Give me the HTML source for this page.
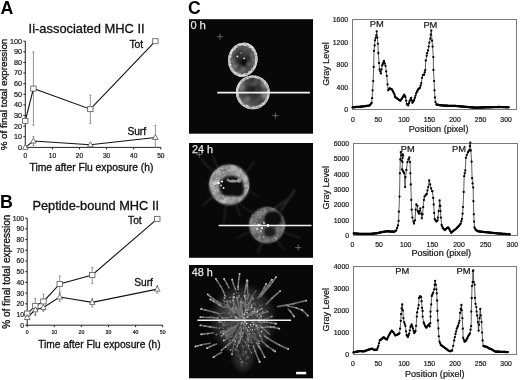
<!DOCTYPE html><html><head><meta charset="utf-8"><title>Figure</title><style>html,body{margin:0;padding:0;background:#fff}svg{display:block}.k{stroke:#111;stroke-width:.32px}.k2{stroke:#222;stroke-width:.22px}.w{stroke:#e6e6e6;stroke-width:.25px}</style></head><body>
<svg width="520" height="380" viewBox="0 0 520 380" font-family='"Liberation Sans", Arial, sans-serif'>
<defs><filter id="bl1" x="-20%" y="-20%" width="140%" height="140%"><feGaussianBlur stdDeviation="0.7"/></filter><filter id="bl05" x="-10%" y="-10%" width="120%" height="120%"><feGaussianBlur stdDeviation="0.45"/></filter><filter id="bl15" x="-30%" y="-30%" width="160%" height="160%"><feGaussianBlur stdDeviation="1.3"/></filter><filter id="bl3" x="-30%" y="-30%" width="160%" height="160%"><feGaussianBlur stdDeviation="3"/></filter><filter id="bl07" x="-20%" y="-20%" width="140%" height="140%"><feGaussianBlur stdDeviation="0.6"/></filter><filter id="bl2" x="-30%" y="-30%" width="160%" height="160%"><feGaussianBlur stdDeviation="2"/></filter><radialGradient id="cellfill"><stop offset="0" stop-color="#2a2a2a"/><stop offset="0.6" stop-color="#4a4a4a"/><stop offset="0.85" stop-color="#8a8a8a"/><stop offset="1" stop-color="#cfcfcf"/></radialGradient><radialGradient id="rg11"><stop offset="0" stop-color="#232323"/><stop offset="0.58" stop-color="#414141"/><stop offset="0.78" stop-color="#5f5f5f"/><stop offset="0.93" stop-color="#9b9b9b"/><stop offset="1" stop-color="#b6b6b6"/></radialGradient><clipPath id="cp11"><ellipse transform="translate(242.8 59.7) rotate(10)" rx="14.7" ry="17.1"/></clipPath><radialGradient id="rg12"><stop offset="0" stop-color="#262626"/><stop offset="0.58" stop-color="#424242"/><stop offset="0.78" stop-color="#5f5f5f"/><stop offset="0.93" stop-color="#989898"/><stop offset="1" stop-color="#b2b2b2"/></radialGradient><clipPath id="cp12"><ellipse transform="translate(252.8 92.3) rotate(0)" rx="16.9" ry="16.9"/></clipPath><radialGradient id="rg22"><stop offset="0" stop-color="#3c3c3c"/><stop offset="0.48" stop-color="#707070"/><stop offset="0.64" stop-color="#a5a5a5"/><stop offset="0.93" stop-color="#989898"/><stop offset="1" stop-color="#777777"/></radialGradient><clipPath id="cp22"><ellipse transform="translate(229.2 184.7) rotate(0)" rx="20" ry="20.2"/></clipPath><radialGradient id="rg23"><stop offset="0" stop-color="#1e1e1e"/><stop offset="0.45" stop-color="#4d4d4d"/><stop offset="0.60" stop-color="#7d7d7d"/><stop offset="0.93" stop-color="#757575"/><stop offset="1" stop-color="#5d5d5d"/></radialGradient><clipPath id="cp23"><ellipse transform="translate(267 225.2) rotate(0)" rx="17.8" ry="18"/></clipPath></defs>
<rect width="520" height="380" fill="#fff"/>
<text x="0.4" y="14.1" font-size="17.8" font-weight="bold" fill="#000">A</text>
<text x="0.1" y="207.9" font-size="17.8" font-weight="bold" fill="#000">B</text>
<text x="187.9" y="13.8" font-size="17.6" font-weight="bold" fill="#000">C</text>
<text x="28.6" y="32.8" font-size="12.9" fill="#111" class="k">Ii-associated MHC II</text>
<text x="32.4" y="209.7" font-size="12.8" fill="#111" class="k">Peptide-bound MHC II</text>
<text transform="translate(7.3 94.5) rotate(-90)" font-size="9.8" text-anchor="middle" fill="#111" class="k">% of final total expression</text>
<text transform="translate(10.1 271.7) rotate(-90)" font-size="10" text-anchor="middle" fill="#111" class="k">% of final total expression</text>
<text x="29.6" y="171" font-size="10.3" fill="#111" class="k">Time after Flu exposure (h)</text>
<text x="38.2" y="347.9" font-size="10.2" fill="#111" class="k">Time after Flu exposure (h)</text>
<text x="129.4" y="47.5" font-size="10.4" fill="#111" class="k">Tot</text>
<text x="127.4" y="134.6" font-size="10.2" fill="#111" class="k">Surf</text>
<text x="128.1" y="223.8" font-size="10.2" fill="#111" class="k">Tot</text>
<text x="134.2" y="285.9" font-size="10.2" fill="#111" class="k">Surf</text>
<path d="M25.3 41.2V147.4H160.8" fill="none" stroke="#222" stroke-width="1"/>
<path d="M23.3 147.4H25.3" stroke="#222" stroke-width="1"/>
<text x="22.1" y="149.8" font-size="7.3" text-anchor="end" fill="#222" class="k2">0</text>
<path d="M23.3 136.78H25.3" stroke="#222" stroke-width="1"/>
<text x="22.1" y="139.18" font-size="7.3" text-anchor="end" fill="#222" class="k2">10</text>
<path d="M23.3 126.16H25.3" stroke="#222" stroke-width="1"/>
<text x="22.1" y="128.56" font-size="7.3" text-anchor="end" fill="#222" class="k2">20</text>
<path d="M23.3 115.54H25.3" stroke="#222" stroke-width="1"/>
<text x="22.1" y="117.94" font-size="7.3" text-anchor="end" fill="#222" class="k2">30</text>
<path d="M23.3 104.92H25.3" stroke="#222" stroke-width="1"/>
<text x="22.1" y="107.32" font-size="7.3" text-anchor="end" fill="#222" class="k2">40</text>
<path d="M23.3 94.3H25.3" stroke="#222" stroke-width="1"/>
<text x="22.1" y="96.7" font-size="7.3" text-anchor="end" fill="#222" class="k2">50</text>
<path d="M23.3 83.68H25.3" stroke="#222" stroke-width="1"/>
<text x="22.1" y="86.08" font-size="7.3" text-anchor="end" fill="#222" class="k2">60</text>
<path d="M23.3 73.06H25.3" stroke="#222" stroke-width="1"/>
<text x="22.1" y="75.46" font-size="7.3" text-anchor="end" fill="#222" class="k2">70</text>
<path d="M23.3 62.44H25.3" stroke="#222" stroke-width="1"/>
<text x="22.1" y="64.84" font-size="7.3" text-anchor="end" fill="#222" class="k2">80</text>
<path d="M23.3 51.82H25.3" stroke="#222" stroke-width="1"/>
<text x="22.1" y="54.22" font-size="7.3" text-anchor="end" fill="#222" class="k2">90</text>
<path d="M23.3 41.2H25.3" stroke="#222" stroke-width="1"/>
<text x="22.1" y="43.6" font-size="7.3" text-anchor="end" fill="#222" class="k2">100</text>
<path d="M25.3 147.4V149.4" stroke="#222" stroke-width="1"/>
<text x="25.3" y="158.2" font-size="6.6" text-anchor="middle" fill="#222" class="k2">0</text>
<path d="M52.4 147.4V149.4" stroke="#222" stroke-width="1"/>
<text x="52.4" y="158.2" font-size="6.6" text-anchor="middle" fill="#222" class="k2">10</text>
<path d="M79.5 147.4V149.4" stroke="#222" stroke-width="1"/>
<text x="79.5" y="158.2" font-size="6.6" text-anchor="middle" fill="#222" class="k2">20</text>
<path d="M106.6 147.4V149.4" stroke="#222" stroke-width="1"/>
<text x="106.6" y="158.2" font-size="6.6" text-anchor="middle" fill="#222" class="k2">30</text>
<path d="M133.7 147.4V149.4" stroke="#222" stroke-width="1"/>
<text x="133.7" y="158.2" font-size="6.6" text-anchor="middle" fill="#222" class="k2">40</text>
<path d="M160.8 147.4V149.4" stroke="#222" stroke-width="1"/>
<text x="160.8" y="158.2" font-size="6.6" text-anchor="middle" fill="#222" class="k2">50</text>
<path d="M33.43 51.82V125.1M32.43 51.82h2M32.43 125.1h2" stroke="#777" stroke-width="0.8" fill="none"/>
<path d="M90.34 95.15V123.29M89.34 95.15h2M89.34 123.29h2" stroke="#777" stroke-width="0.8" fill="none"/>
<path d="M33.43 136.46V145.59M32.43 136.46h2M32.43 145.59h2" stroke="#777" stroke-width="0.8" fill="none"/>
<path d="M155.38 125.42V147.4M154.38 125.42h2M154.38 147.4h2" stroke="#777" stroke-width="0.8" fill="none"/>
<polyline points="25.3,120.85 33.43,88.57 90.34,109.17 155.38,41.2" fill="none" stroke="#111" stroke-width="1.1"/>
<polyline points="25.3,147.4 33.43,141.03 90.34,144.75 155.38,137.52" fill="none" stroke="#111" stroke-width="1.1"/>
<rect x="22.6" y="118.35" width="5.4" height="5" fill="#fff" stroke="#555" stroke-width="0.8"/>
<rect x="30.73" y="86.07" width="5.4" height="5" fill="#fff" stroke="#555" stroke-width="0.8"/>
<rect x="87.64" y="106.67" width="5.4" height="5" fill="#fff" stroke="#555" stroke-width="0.8"/>
<rect x="152.68" y="38.7" width="5.4" height="5" fill="#fff" stroke="#555" stroke-width="0.8"/>
<path d="M25.3 144.4L28.1 149.4H22.5Z" fill="#fff" stroke="#555" stroke-width="0.8"/>
<path d="M33.43 138.03L36.23 143.03H30.63Z" fill="#fff" stroke="#555" stroke-width="0.8"/>
<path d="M90.34 141.75L93.14 146.75H87.54Z" fill="#fff" stroke="#555" stroke-width="0.8"/>
<path d="M155.38 134.52L158.18 139.52H152.58Z" fill="#fff" stroke="#555" stroke-width="0.8"/>
<path d="M27.2 218.2V325.2H162.7" fill="none" stroke="#222" stroke-width="1"/>
<path d="M25.2 325.2H27.2" stroke="#222" stroke-width="1"/>
<text x="24" y="327.6" font-size="6.8" text-anchor="end" fill="#222" class="k2">0</text>
<path d="M25.2 314.5H27.2" stroke="#222" stroke-width="1"/>
<text x="24" y="316.9" font-size="6.8" text-anchor="end" fill="#222" class="k2">10</text>
<path d="M25.2 303.8H27.2" stroke="#222" stroke-width="1"/>
<text x="24" y="306.2" font-size="6.8" text-anchor="end" fill="#222" class="k2">20</text>
<path d="M25.2 293.1H27.2" stroke="#222" stroke-width="1"/>
<text x="24" y="295.5" font-size="6.8" text-anchor="end" fill="#222" class="k2">30</text>
<path d="M25.2 282.4H27.2" stroke="#222" stroke-width="1"/>
<text x="24" y="284.8" font-size="6.8" text-anchor="end" fill="#222" class="k2">40</text>
<path d="M25.2 271.7H27.2" stroke="#222" stroke-width="1"/>
<text x="24" y="274.1" font-size="6.8" text-anchor="end" fill="#222" class="k2">50</text>
<path d="M25.2 261H27.2" stroke="#222" stroke-width="1"/>
<text x="24" y="263.4" font-size="6.8" text-anchor="end" fill="#222" class="k2">60</text>
<path d="M25.2 250.3H27.2" stroke="#222" stroke-width="1"/>
<text x="24" y="252.7" font-size="6.8" text-anchor="end" fill="#222" class="k2">70</text>
<path d="M25.2 239.6H27.2" stroke="#222" stroke-width="1"/>
<text x="24" y="242" font-size="6.8" text-anchor="end" fill="#222" class="k2">80</text>
<path d="M25.2 228.9H27.2" stroke="#222" stroke-width="1"/>
<text x="24" y="231.3" font-size="6.8" text-anchor="end" fill="#222" class="k2">90</text>
<path d="M25.2 218.2H27.2" stroke="#222" stroke-width="1"/>
<text x="24" y="220.6" font-size="6.8" text-anchor="end" fill="#222" class="k2">100</text>
<path d="M27.2 325.2V327.2" stroke="#222" stroke-width="1"/>
<text x="27.2" y="334.4" font-size="5.2" text-anchor="middle" fill="#222" class="k2">0</text>
<path d="M54.3 325.2V327.2" stroke="#222" stroke-width="1"/>
<text x="54.3" y="334.4" font-size="5.2" text-anchor="middle" fill="#222" class="k2">10</text>
<path d="M81.4 325.2V327.2" stroke="#222" stroke-width="1"/>
<text x="81.4" y="334.4" font-size="5.2" text-anchor="middle" fill="#222" class="k2">20</text>
<path d="M108.5 325.2V327.2" stroke="#222" stroke-width="1"/>
<text x="108.5" y="334.4" font-size="5.2" text-anchor="middle" fill="#222" class="k2">30</text>
<path d="M135.6 325.2V327.2" stroke="#222" stroke-width="1"/>
<text x="135.6" y="334.4" font-size="5.2" text-anchor="middle" fill="#222" class="k2">40</text>
<path d="M162.7 325.2V327.2" stroke="#222" stroke-width="1"/>
<text x="162.7" y="334.4" font-size="5.2" text-anchor="middle" fill="#222" class="k2">50</text>
<path d="M35.33 298.45V315.57M34.33 298.45h2M34.33 315.57h2" stroke="#777" stroke-width="0.8" fill="none"/>
<path d="M43.46 294.17V310.22M42.46 294.17h2M42.46 310.22h2" stroke="#777" stroke-width="0.8" fill="none"/>
<path d="M59.72 275.98V293.1M58.72 275.98h2M58.72 293.1h2" stroke="#777" stroke-width="0.8" fill="none"/>
<path d="M92.24 267.42V283.47M91.24 267.42h2M91.24 283.47h2" stroke="#777" stroke-width="0.8" fill="none"/>
<path d="M35.33 307.01V314.5M34.33 307.01h2M34.33 314.5h2" stroke="#777" stroke-width="0.8" fill="none"/>
<path d="M43.46 303.8V311.29M42.46 303.8h2M42.46 311.29h2" stroke="#777" stroke-width="0.8" fill="none"/>
<path d="M59.72 293.1V301.66M58.72 293.1h2M58.72 301.66h2" stroke="#777" stroke-width="0.8" fill="none"/>
<path d="M92.24 298.45V307.01M91.24 298.45h2M91.24 307.01h2" stroke="#777" stroke-width="0.8" fill="none"/>
<path d="M157.28 285.61V293.1M156.28 285.61h2M156.28 293.1h2" stroke="#777" stroke-width="0.8" fill="none"/>
<polyline points="27.2,313.54 35.33,305.83 43.46,301.45 59.72,284 92.24,274.91 157.28,218.84" fill="none" stroke="#111" stroke-width="1.1"/>
<polyline points="27.2,317.5 35.33,309.79 43.46,307.44 59.72,297.06 92.24,302.41 157.28,289.14" fill="none" stroke="#111" stroke-width="1.1"/>
<rect x="24.5" y="311.04" width="5.4" height="5" fill="#fff" stroke="#555" stroke-width="0.8"/>
<rect x="32.63" y="303.33" width="5.4" height="5" fill="#fff" stroke="#555" stroke-width="0.8"/>
<rect x="40.76" y="298.95" width="5.4" height="5" fill="#fff" stroke="#555" stroke-width="0.8"/>
<rect x="57.02" y="281.5" width="5.4" height="5" fill="#fff" stroke="#555" stroke-width="0.8"/>
<rect x="89.54" y="272.41" width="5.4" height="5" fill="#fff" stroke="#555" stroke-width="0.8"/>
<rect x="154.58" y="216.34" width="5.4" height="5" fill="#fff" stroke="#555" stroke-width="0.8"/>
<path d="M27.2 314.5L30 319.5H24.4Z" fill="#fff" stroke="#555" stroke-width="0.8"/>
<path d="M35.33 306.79L38.13 311.79H32.53Z" fill="#fff" stroke="#555" stroke-width="0.8"/>
<path d="M43.46 304.44L46.26 309.44H40.66Z" fill="#fff" stroke="#555" stroke-width="0.8"/>
<path d="M59.72 294.06L62.52 299.06H56.92Z" fill="#fff" stroke="#555" stroke-width="0.8"/>
<path d="M92.24 299.41L95.04 304.41H89.44Z" fill="#fff" stroke="#555" stroke-width="0.8"/>
<path d="M157.28 286.14L160.08 291.14H154.48Z" fill="#fff" stroke="#555" stroke-width="0.8"/>
<rect x="189" y="19.2" width="124" height="114.5" fill="#080808"/>
<g filter="url(#bl07)"><ellipse transform="translate(242.8 59.7) rotate(10)" rx="14.7" ry="17.1" fill="url(#rg11)"/><g clip-path="url(#cp11)"><g filter="url(#bl15)"><circle cx="232.3" cy="61.5" r="2.4" fill="#777777"/><circle cx="232.4" cy="57.2" r="2.5" fill="#444444"/><circle cx="236.2" cy="47.8" r="2.1" fill="#424242"/><circle cx="251.9" cy="69.3" r="1.6" fill="#6c6c6c"/><circle cx="256.5" cy="60.3" r="2.7" fill="#696969"/><circle cx="243.4" cy="61.5" r="1.6" fill="#2d2d2d"/><circle cx="244" cy="67.5" r="2.4" fill="#262626"/><circle cx="230.1" cy="63" r="2.8" fill="#606060"/><circle cx="231.6" cy="57.7" r="2.1" fill="#5b5b5b"/><circle cx="256.6" cy="61.9" r="2.9" fill="#767676"/><circle cx="238.9" cy="66.3" r="1.6" fill="#373737"/><circle cx="245.5" cy="49.8" r="2.3" fill="#696969"/><circle cx="255.7" cy="58" r="1.9" fill="#3c3c3c"/><circle cx="251.8" cy="55.2" r="2.3" fill="#767676"/><circle cx="251.6" cy="67" r="2" fill="#707070"/><circle cx="248.7" cy="65.7" r="3" fill="#6d6d6d"/><circle cx="246.9" cy="66" r="1.6" fill="#2b2b2b"/><circle cx="245.6" cy="53.5" r="2.4" fill="#454545"/><circle cx="244.8" cy="73.2" r="2.8" fill="#454545"/><circle cx="248.2" cy="67.8" r="2" fill="#3e3e3e"/><circle cx="255.4" cy="59.2" r="3.3" fill="#515151"/><circle cx="243.2" cy="69.8" r="2.8" fill="#696969"/><circle cx="252.2" cy="71" r="2" fill="#4a4a4a"/><circle cx="245.5" cy="50.8" r="1.6" fill="#3e3e3e"/><circle cx="250.5" cy="67.8" r="2.7" fill="#484848"/><circle cx="235" cy="66.3" r="2.5" fill="#747474"/><circle cx="232.6" cy="51" r="1.8" fill="#484848"/><circle cx="254.6" cy="53.7" r="1.9" fill="#4d4d4d"/><circle cx="244.6" cy="44.1" r="3.4" fill="#494949"/><circle cx="252.2" cy="52.7" r="1.7" fill="#565656"/><circle cx="255.2" cy="65.8" r="2.9" fill="#4c4c4c"/><circle cx="239.7" cy="74.1" r="2.1" fill="#656565"/><circle cx="245.9" cy="72.7" r="2" fill="#404040"/><circle cx="231.9" cy="52.2" r="2.1" fill="#676767"/><circle cx="248.8" cy="57.1" r="2" fill="#222222"/><circle cx="239.4" cy="60.5" r="2.2" fill="#1e1e1e"/><circle cx="238.8" cy="56.4" r="3.3" fill="#333333"/><circle cx="254.1" cy="60.1" r="2.7" fill="#6b6b6b"/><circle cx="244" cy="62.3" r="3.3" fill="#0e0e0e"/><circle cx="241.3" cy="44" r="2.8" fill="#3d3d3d"/></g></g><ellipse transform="translate(242.8 59.7) rotate(10)" rx="13.6" ry="16" fill="none" stroke="#d7d7d7" stroke-width="2.2"/><circle cx="229.2" cy="59.1" r="1" fill="#adadad"/><circle cx="253.2" cy="68.7" r="1" fill="#d3d3d3"/><circle cx="244.4" cy="44.1" r="1" fill="#d8d8d8"/><circle cx="232.7" cy="70.7" r="0.9" fill="#e2e2e2"/><circle cx="229.8" cy="65.4" r="0.8" fill="#dedede"/><circle cx="235.6" cy="47.5" r="0.8" fill="#c5c5c5"/><circle cx="253.1" cy="69.2" r="1" fill="#eaeaea"/><circle cx="243.7" cy="44.5" r="0.8" fill="#d3d3d3"/><circle cx="229.2" cy="63.2" r="0.9" fill="#989898"/><circle cx="255.3" cy="64.8" r="0.7" fill="#bcbcbc"/><circle cx="241.2" cy="44.6" r="1" fill="#c8c8c8"/><circle cx="239.8" cy="74" r="0.9" fill="#acacac"/><circle cx="244" cy="74.4" r="0.9" fill="#e2e2e2"/><circle cx="229.1" cy="63.1" r="0.9" fill="#aeaeae"/><circle cx="244.4" cy="74.7" r="1" fill="#d9d9d9"/><circle cx="254" cy="51.1" r="0.7" fill="#c5c5c5"/><circle cx="249.3" cy="72.7" r="0.9" fill="#dcdcdc"/><circle cx="242.2" cy="43.7" r="0.7" fill="#a9a9a9"/><circle cx="229.9" cy="62.1" r="0.8" fill="#a4a4a4"/><circle cx="235.5" cy="47.3" r="0.9" fill="#adadad"/><circle cx="256" cy="60.3" r="0.6" fill="#979797"/><circle cx="253.3" cy="50.9" r="0.8" fill="#d0d0d0"/><circle cx="235.4" cy="73.4" r="0.7" fill="#929292"/><circle cx="230.2" cy="61.6" r="0.7" fill="#dbdbdb"/><circle cx="248.7" cy="72.3" r="0.8" fill="#c9c9c9"/><circle cx="235.7" cy="46.9" r="1" fill="#d9d9d9"/><circle cx="240.1" cy="45.3" r="0.7" fill="#bbbbbb"/><circle cx="255.6" cy="63" r="0.7" fill="#d1d1d1"/><circle cx="238.4" cy="74.2" r="0.8" fill="#cfcfcf"/><circle cx="234.5" cy="47.7" r="0.9" fill="#b4b4b4"/><circle cx="254.6" cy="53.5" r="0.9" fill="#e4e4e4"/><circle cx="249.8" cy="72.3" r="1" fill="#c9c9c9"/><circle cx="231.5" cy="68.7" r="0.9" fill="#e0e0e0"/><circle cx="255.9" cy="56.7" r="0.7" fill="#cbcbcb"/><circle cx="243.2" cy="43.8" r="0.9" fill="#cacaca"/><circle cx="243.2" cy="75.6" r="1" fill="#e9e9e9"/><circle cx="230.3" cy="53.8" r="1" fill="#adadad"/><circle cx="252.8" cy="49.3" r="0.8" fill="#989898"/><circle cx="230.9" cy="52.6" r="0.6" fill="#bcbcbc"/><circle cx="249.7" cy="47" r="0.7" fill="#d8d8d8"/><circle cx="233.6" cy="72" r="0.7" fill="#9d9d9d"/><circle cx="229.8" cy="55.7" r="0.9" fill="#dcdcdc"/><circle cx="256" cy="56.8" r="0.6" fill="#e6e6e6"/><circle cx="242.5" cy="75.1" r="0.9" fill="#ababab"/><circle cx="236.4" cy="46.6" r="0.8" fill="#dcdcdc"/><circle cx="235.5" cy="72.7" r="1" fill="#dddddd"/><circle cx="243.6" cy="75.5" r="0.8" fill="#e8e8e8"/><circle cx="232.6" cy="51.2" r="0.8" fill="#c1c1c1"/><circle cx="234.6" cy="49.1" r="0.8" fill="#e8e8e8"/><circle cx="230.3" cy="66.9" r="0.8" fill="#c3c3c3"/><circle cx="240.7" cy="45.4" r="0.8" fill="#c1c1c1"/><circle cx="256.7" cy="57.8" r="0.8" fill="#a9a9a9"/><circle cx="249.9" cy="72.1" r="1" fill="#dadada"/><circle cx="229.8" cy="59.7" r="0.8" fill="#a2a2a2"/><circle cx="255.1" cy="55.1" r="0.6" fill="#d7d7d7"/><circle cx="244.7" cy="74.3" r="0.7" fill="#cecece"/><circle cx="232.5" cy="70.4" r="0.9" fill="#9a9a9a"/><circle cx="250.3" cy="71.9" r="0.7" fill="#a7a7a7"/><circle cx="230.6" cy="54.6" r="0.8" fill="#b2b2b2"/><circle cx="230.9" cy="54.8" r="0.9" fill="#a3a3a3"/><circle cx="236.4" cy="46.6" r="0.8" fill="#dddddd"/><circle cx="252.7" cy="49.5" r="0.9" fill="#d3d3d3"/><circle cx="254.8" cy="53" r="1" fill="#adadad"/><circle cx="242.8" cy="75.8" r="0.7" fill="#e0e0e0"/><circle cx="241" cy="75.4" r="0.6" fill="#a8a8a8"/><circle cx="251.5" cy="47.7" r="0.7" fill="#d8d8d8"/><circle cx="230.3" cy="66.7" r="0.7" fill="#929292"/><circle cx="239.7" cy="44.3" r="0.6" fill="#e8e8e8"/><circle cx="229.5" cy="56.8" r="0.9" fill="#bebebe"/><circle cx="245.1" cy="74" r="0.6" fill="#9a9a9a"/><circle cx="231.3" cy="52.7" r="0.7" fill="#c4c4c4"/><circle cx="245.5" cy="74.1" r="1" fill="#dcdcdc"/><circle cx="255.1" cy="55.2" r="1" fill="#969696"/><circle cx="229.1" cy="61.1" r="0.8" fill="#aeaeae"/><circle cx="230.2" cy="56" r="0.6" fill="#c7c7c7"/><circle cx="241.3" cy="44" r="0.8" fill="#a1a1a1"/><circle cx="244.6" cy="44.6" r="0.7" fill="#a2a2a2"/><circle cx="230.7" cy="56.4" r="0.9" fill="#e1e1e1"/><circle cx="241.7" cy="43.9" r="0.8" fill="#c9c9c9"/><circle cx="233.8" cy="48.9" r="0.9" fill="#e9e9e9"/><circle cx="239.3" cy="75.4" r="0.9" fill="#d3d3d3"/><circle cx="250.3" cy="46.8" r="1" fill="#e1e1e1"/><circle cx="240.8" cy="44.2" r="0.8" fill="#d5d5d5"/><circle cx="243.2" cy="45" r="0.8" fill="#afafaf"/><circle cx="255.4" cy="63" r="0.8" fill="#cacaca"/><circle cx="241.5" cy="75.8" r="0.7" fill="#cccccc"/><circle cx="238" cy="45.6" r="0.8" fill="#c0c0c0"/><circle cx="256" cy="62" r="0.9" fill="#d0d0d0"/><circle cx="255.4" cy="60.1" r="0.9" fill="#c8c8c8"/><circle cx="239.6" cy="74.6" r="0.7" fill="#959595"/><circle cx="232.1" cy="68.4" r="1" fill="#a7a7a7"/><circle cx="231.2" cy="52.8" r="0.8" fill="#e8e8e8"/><circle cx="256.1" cy="61.6" r="0.6" fill="#d9d9d9"/><circle cx="233.4" cy="48.8" r="1" fill="#959595"/><circle cx="247.5" cy="73.7" r="0.8" fill="#a0a0a0"/><circle cx="234.9" cy="48.7" r="0.8" fill="#e6e6e6"/><circle cx="230.3" cy="54.8" r="0.7" fill="#b1b1b1"/><circle cx="237.7" cy="45.8" r="0.9" fill="#aaaaaa"/><circle cx="236.8" cy="72.9" r="0.6" fill="#a7a7a7"/><circle cx="247.9" cy="74" r="1" fill="#b4b4b4"/><circle cx="245.2" cy="45.2" r="1" fill="#e9e9e9"/><circle cx="253.7" cy="68.9" r="0.8" fill="#b7b7b7"/><circle cx="255.8" cy="59.4" r="1" fill="#c0c0c0"/><circle cx="243.2" cy="44.4" r="0.9" fill="#e9e9e9"/><circle cx="234.4" cy="49.1" r="0.8" fill="#c9c9c9"/><circle cx="243.9" cy="74.2" r="0.6" fill="#c0c0c0"/><circle cx="229.4" cy="62.9" r="0.7" fill="#b9b9b9"/><circle cx="232.9" cy="50.3" r="0.8" fill="#d7d7d7"/><circle cx="256.5" cy="61.9" r="0.7" fill="#d3d3d3"/><circle cx="251.2" cy="71.9" r="0.8" fill="#d7d7d7"/><circle cx="232.7" cy="69.7" r="0.8" fill="#cecece"/><circle cx="233.2" cy="49.4" r="0.7" fill="#d4d4d4"/><circle cx="240.1" cy="75.7" r="1" fill="#e3e3e3"/><circle cx="254.2" cy="65.4" r="0.8" fill="#a9a9a9"/><circle cx="235.7" cy="48" r="0.6" fill="#c1c1c1"/><circle cx="252.8" cy="69.7" r="0.9" fill="#c2c2c2"/><circle cx="231.8" cy="68.9" r="0.7" fill="#a3a3a3"/><circle cx="245.1" cy="43.9" r="0.6" fill="#979797"/><circle cx="250.1" cy="46.2" r="0.7" fill="#d6d6d6"/><circle cx="230.3" cy="64.5" r="0.7" fill="#d9d9d9"/><circle cx="237.3" cy="45.2" r="0.8" fill="#aeaeae"/><circle cx="245.3" cy="43.8" r="0.7" fill="#b7b7b7"/><circle cx="252.3" cy="70.7" r="0.6" fill="#989898"/><circle cx="231.9" cy="51.6" r="0.7" fill="#cecece"/><circle cx="247.3" cy="45.7" r="0.9" fill="#a4a4a4"/><circle cx="252.6" cy="69" r="0.9" fill="#d2d2d2"/><circle cx="237.7" cy="73.5" r="0.9" fill="#b1b1b1"/><circle cx="232.5" cy="69.1" r="0.8" fill="#d0d0d0"/><circle cx="256.1" cy="54" r="0.8" fill="#e3e3e3"/><circle cx="249.5" cy="46.4" r="0.8" fill="#adadad"/><circle cx="256.4" cy="55.6" r="0.7" fill="#a7a7a7"/><circle cx="232.3" cy="69.4" r="0.8" fill="#b4b4b4"/><circle cx="244.7" cy="74.9" r="0.8" fill="#d8d8d8"/><circle cx="251.9" cy="47.8" r="0.9" fill="#a0a0a0"/><circle cx="253.9" cy="51.3" r="0.8" fill="#939393"/><circle cx="230.9" cy="53.3" r="0.9" fill="#e7e7e7"/><circle cx="249.4" cy="46.8" r="0.9" fill="#c2c2c2"/><circle cx="252.3" cy="68.9" r="1" fill="#d3d3d3"/><circle cx="252.8" cy="69.5" r="0.9" fill="#9d9d9d"/><circle cx="237.4" cy="46.5" r="0.9" fill="#a4a4a4"/><circle cx="229.9" cy="55.2" r="0.7" fill="#b4b4b4"/><circle cx="256.4" cy="58.9" r="0.8" fill="#bdbdbd"/><circle cx="243.1" cy="44" r="0.8" fill="#e3e3e3"/><circle cx="251.3" cy="47.1" r="0.9" fill="#dddddd"/><circle cx="252" cy="47.2" r="0.9" fill="#e7e7e7"/><circle cx="230" cy="55.1" r="0.8" fill="#d9d9d9"/><circle cx="230.5" cy="64.8" r="1" fill="#d3d3d3"/><circle cx="232" cy="68.4" r="0.8" fill="#a3a3a3"/><circle cx="236.5" cy="74.5" r="0.7" fill="#969696"/><circle cx="251" cy="71.6" r="0.7" fill="#d6d6d6"/><circle cx="253.8" cy="67.6" r="1" fill="#c5c5c5"/><circle cx="254.4" cy="65.1" r="0.7" fill="#a1a1a1"/><circle cx="241.3" cy="75.4" r="0.7" fill="#c6c6c6"/><circle cx="245.5" cy="74.2" r="0.9" fill="#a0a0a0"/><circle cx="235.3" cy="72.9" r="0.8" fill="#dadada"/><circle cx="239.1" cy="75.3" r="0.7" fill="#e3e3e3"/><circle cx="230.5" cy="52.7" r="0.7" fill="#bcbcbc"/><circle cx="254.9" cy="66.9" r="0.8" fill="#d9d9d9"/><circle cx="230.4" cy="54.8" r="1" fill="#a9a9a9"/><circle cx="238" cy="46.1" r="0.8" fill="#919191"/><circle cx="237.4" cy="56.4" r="0.9" fill="#ebebeb"/><circle cx="244.2" cy="58.3" r="0.9" fill="#e6e6e6"/><circle cx="241" cy="53" r="0.7" fill="#c8c8c8"/></g>
<g filter="url(#bl07)"><ellipse transform="translate(252.8 92.3) rotate(0)" rx="16.9" ry="16.9" fill="url(#rg12)"/><g clip-path="url(#cp12)"><g filter="url(#bl15)"><circle cx="239.9" cy="94.4" r="1.8" fill="#696969"/><circle cx="262.6" cy="93" r="3.1" fill="#404040"/><circle cx="248.3" cy="80.7" r="2.8" fill="#5f5f5f"/><circle cx="259.3" cy="100.7" r="3.3" fill="#3c3c3c"/><circle cx="266.3" cy="97.5" r="2.9" fill="#414141"/><circle cx="247.5" cy="101" r="1.5" fill="#6a6a6a"/><circle cx="267.1" cy="98" r="1.7" fill="#5f5f5f"/><circle cx="268.4" cy="91" r="2.3" fill="#434343"/><circle cx="258.7" cy="99" r="1.8" fill="#555555"/><circle cx="251.6" cy="88.9" r="3.1" fill="#1e1e1e"/><circle cx="244.4" cy="98.4" r="2.5" fill="#595959"/><circle cx="250.7" cy="94.2" r="3.4" fill="#414141"/><circle cx="265.7" cy="90.4" r="2.2" fill="#545454"/><circle cx="248" cy="80" r="2" fill="#434343"/><circle cx="245.3" cy="101" r="2.5" fill="#6d6d6d"/><circle cx="267.1" cy="94.9" r="2.5" fill="#5a5a5a"/><circle cx="254.6" cy="102.6" r="3" fill="#4b4b4b"/><circle cx="262.3" cy="99.5" r="2.9" fill="#424242"/><circle cx="261" cy="94.2" r="2.8" fill="#3f3f3f"/><circle cx="263.1" cy="95.8" r="2.1" fill="#404040"/><circle cx="237.3" cy="94.6" r="3.4" fill="#5d5d5d"/><circle cx="260.4" cy="105.7" r="1.9" fill="#555555"/><circle cx="252.7" cy="77" r="2" fill="#3c3c3c"/><circle cx="254" cy="83" r="1.5" fill="#3c3c3c"/><circle cx="265" cy="95.4" r="3.5" fill="#7e7e7e"/><circle cx="250.3" cy="92.2" r="3.1" fill="#242424"/><circle cx="259.1" cy="81.1" r="2.6" fill="#4a4a4a"/><circle cx="240.2" cy="94.1" r="3.4" fill="#4c4c4c"/><circle cx="257.9" cy="88.3" r="3.2" fill="#333333"/><circle cx="250" cy="107.7" r="2.9" fill="#606060"/><circle cx="250.7" cy="85.2" r="2" fill="#373737"/><circle cx="247.4" cy="80.1" r="3.3" fill="#454545"/><circle cx="245.9" cy="96.1" r="3.5" fill="#434343"/><circle cx="241" cy="87.6" r="3.4" fill="#7a7a7a"/><circle cx="253.5" cy="81.9" r="3.3" fill="#595959"/><circle cx="255.8" cy="80.4" r="2.2" fill="#505050"/><circle cx="251.7" cy="80.3" r="2.9" fill="#383838"/><circle cx="264.6" cy="84.2" r="3.3" fill="#7a7a7a"/><circle cx="238.9" cy="89.2" r="1.7" fill="#565656"/><circle cx="247.4" cy="99.5" r="2.9" fill="#6b6b6b"/></g></g><ellipse transform="translate(252.8 92.3) rotate(0)" rx="15.8" ry="15.8" fill="none" stroke="#d2d2d2" stroke-width="2.2"/><circle cx="237.7" cy="88.3" r="0.8" fill="#979797"/><circle cx="248.1" cy="77.7" r="0.8" fill="#a2a2a2"/><circle cx="245.8" cy="106.4" r="0.6" fill="#989898"/><circle cx="246.8" cy="106.8" r="0.9" fill="#d0d0d0"/><circle cx="266.8" cy="86.2" r="0.8" fill="#8e8e8e"/><circle cx="238.7" cy="97.5" r="0.7" fill="#c8c8c8"/><circle cx="253.9" cy="107.5" r="0.6" fill="#e0e0e0"/><circle cx="243.1" cy="103.9" r="0.8" fill="#9e9e9e"/><circle cx="255.8" cy="108.1" r="0.9" fill="#b9b9b9"/><circle cx="260.9" cy="105.4" r="0.9" fill="#c2c2c2"/><circle cx="252.8" cy="107.7" r="0.9" fill="#d8d8d8"/><circle cx="255" cy="107.6" r="0.8" fill="#d0d0d0"/><circle cx="245.5" cy="78.4" r="0.8" fill="#e3e3e3"/><circle cx="246.4" cy="78.5" r="0.7" fill="#cdcdcd"/><circle cx="237.5" cy="92.3" r="0.7" fill="#a7a7a7"/><circle cx="255.2" cy="107.6" r="0.6" fill="#a2a2a2"/><circle cx="257.8" cy="78" r="0.8" fill="#e0e0e0"/><circle cx="240.6" cy="102.6" r="0.7" fill="#dcdcdc"/><circle cx="263.8" cy="103.4" r="0.8" fill="#d7d7d7"/><circle cx="256.1" cy="77.3" r="0.7" fill="#c3c3c3"/><circle cx="240.1" cy="100.7" r="0.8" fill="#aeaeae"/><circle cx="258.1" cy="78.3" r="0.7" fill="#9e9e9e"/><circle cx="268" cy="89.5" r="0.9" fill="#909090"/><circle cx="263.9" cy="81" r="0.9" fill="#acacac"/><circle cx="247.7" cy="106.3" r="0.9" fill="#d9d9d9"/><circle cx="256.7" cy="107.8" r="0.7" fill="#8e8e8e"/><circle cx="267.7" cy="93.5" r="0.9" fill="#9a9a9a"/><circle cx="248.5" cy="106.7" r="0.7" fill="#9c9c9c"/><circle cx="262.9" cy="80.4" r="0.9" fill="#959595"/><circle cx="237.8" cy="88.8" r="0.9" fill="#bbbbbb"/><circle cx="257.6" cy="77.6" r="0.8" fill="#c5c5c5"/><circle cx="242.6" cy="80.9" r="0.8" fill="#b1b1b1"/><circle cx="249.5" cy="77.5" r="0.8" fill="#dfdfdf"/><circle cx="262.5" cy="79.9" r="0.9" fill="#e2e2e2"/><circle cx="239.1" cy="99.1" r="0.9" fill="#c2c2c2"/><circle cx="260.7" cy="79.6" r="0.6" fill="#919191"/><circle cx="265.6" cy="99.8" r="0.7" fill="#8c8c8c"/><circle cx="264.7" cy="102.6" r="1" fill="#c3c3c3"/><circle cx="268.1" cy="88.4" r="0.6" fill="#e1e1e1"/><circle cx="255" cy="108.2" r="0.7" fill="#b6b6b6"/><circle cx="253.5" cy="77" r="0.7" fill="#bcbcbc"/><circle cx="253.6" cy="107.2" r="1" fill="#c2c2c2"/><circle cx="268.6" cy="91" r="0.7" fill="#e0e0e0"/><circle cx="248" cy="107.6" r="0.9" fill="#c2c2c2"/><circle cx="267.8" cy="93.5" r="0.9" fill="#b7b7b7"/><circle cx="260" cy="78.2" r="0.8" fill="#aaaaaa"/><circle cx="263.3" cy="80" r="0.7" fill="#b7b7b7"/><circle cx="241.8" cy="81.4" r="0.7" fill="#acacac"/><circle cx="241.1" cy="102.6" r="0.8" fill="#979797"/><circle cx="267.9" cy="87.6" r="0.8" fill="#a2a2a2"/><circle cx="265.4" cy="101.8" r="0.7" fill="#c4c4c4"/><circle cx="237.9" cy="87.7" r="0.8" fill="#bfbfbf"/><circle cx="247.2" cy="106.5" r="0.7" fill="#e5e5e5"/><circle cx="237.4" cy="92.1" r="0.8" fill="#9b9b9b"/><circle cx="257" cy="106.9" r="0.7" fill="#adadad"/><circle cx="266.8" cy="86.5" r="0.9" fill="#a9a9a9"/><circle cx="240.4" cy="101.6" r="0.6" fill="#c6c6c6"/><circle cx="245.8" cy="79.2" r="0.9" fill="#a2a2a2"/><circle cx="268.5" cy="91.3" r="0.8" fill="#9b9b9b"/><circle cx="249.6" cy="107.9" r="0.7" fill="#a0a0a0"/><circle cx="242.7" cy="80.4" r="0.8" fill="#c1c1c1"/><circle cx="267.7" cy="88.4" r="0.8" fill="#e0e0e0"/><circle cx="237.9" cy="95.6" r="0.9" fill="#cccccc"/><circle cx="253.9" cy="107.8" r="0.8" fill="#cdcdcd"/><circle cx="244.6" cy="79" r="0.7" fill="#cccccc"/><circle cx="247.7" cy="106.2" r="0.9" fill="#dcdcdc"/><circle cx="240.4" cy="102.5" r="0.7" fill="#dddddd"/><circle cx="260.7" cy="79.2" r="0.7" fill="#a8a8a8"/><circle cx="240.1" cy="99.9" r="0.6" fill="#909090"/><circle cx="247.5" cy="106.3" r="0.9" fill="#969696"/><circle cx="241.6" cy="102.9" r="1" fill="#c2c2c2"/><circle cx="262" cy="104.3" r="1" fill="#d9d9d9"/><circle cx="266.9" cy="85.9" r="0.7" fill="#adadad"/><circle cx="266.2" cy="83.9" r="0.9" fill="#bdbdbd"/><circle cx="251.8" cy="107.8" r="0.6" fill="#dddddd"/><circle cx="241.7" cy="82.2" r="0.9" fill="#d7d7d7"/><circle cx="243.3" cy="80.2" r="0.8" fill="#8d8d8d"/><circle cx="243.1" cy="104.1" r="1" fill="#929292"/><circle cx="237.4" cy="90.2" r="1" fill="#d7d7d7"/><circle cx="238" cy="87.5" r="0.7" fill="#d8d8d8"/><circle cx="264.8" cy="83.6" r="0.8" fill="#d3d3d3"/><circle cx="241.2" cy="81.1" r="0.8" fill="#9f9f9f"/><circle cx="257.6" cy="77.3" r="0.9" fill="#bbbbbb"/><circle cx="245.8" cy="78" r="0.7" fill="#c6c6c6"/><circle cx="249.4" cy="106.8" r="0.6" fill="#979797"/><circle cx="267.6" cy="90" r="0.7" fill="#c2c2c2"/><circle cx="267.9" cy="89" r="0.9" fill="#9b9b9b"/><circle cx="263.1" cy="79.9" r="0.8" fill="#a0a0a0"/><circle cx="244.7" cy="79.5" r="0.9" fill="#bfbfbf"/><circle cx="253" cy="76.4" r="0.7" fill="#cfcfcf"/><circle cx="253.3" cy="77" r="0.6" fill="#9b9b9b"/><circle cx="241.8" cy="81.7" r="0.8" fill="#949494"/><circle cx="239.7" cy="100" r="0.8" fill="#bebebe"/><circle cx="236.9" cy="89.3" r="0.7" fill="#dddddd"/><circle cx="263.3" cy="81.4" r="0.6" fill="#e0e0e0"/><circle cx="246.1" cy="106.9" r="0.9" fill="#c7c7c7"/><circle cx="257" cy="106.6" r="0.6" fill="#e2e2e2"/><circle cx="259.7" cy="106" r="0.9" fill="#d5d5d5"/><circle cx="268.6" cy="92.1" r="1" fill="#b3b3b3"/><circle cx="246.8" cy="105.8" r="1" fill="#e2e2e2"/><circle cx="244.6" cy="79.3" r="0.7" fill="#9e9e9e"/><circle cx="266.4" cy="98.4" r="1" fill="#b7b7b7"/><circle cx="266.9" cy="85.9" r="0.8" fill="#c8c8c8"/><circle cx="255.4" cy="76.8" r="0.9" fill="#e4e4e4"/><circle cx="246" cy="78.3" r="0.8" fill="#9b9b9b"/><circle cx="238.6" cy="97.1" r="0.8" fill="#9e9e9e"/><circle cx="259.8" cy="106.3" r="1" fill="#a9a9a9"/><circle cx="246.6" cy="78.1" r="0.8" fill="#b3b3b3"/><circle cx="257.7" cy="107.6" r="0.9" fill="#dedede"/><circle cx="244" cy="80.2" r="0.7" fill="#bcbcbc"/><circle cx="245.8" cy="106.2" r="0.7" fill="#9b9b9b"/><circle cx="250.9" cy="77" r="0.7" fill="#dcdcdc"/><circle cx="266.4" cy="100.8" r="0.9" fill="#c2c2c2"/><circle cx="238.8" cy="87.1" r="0.8" fill="#e3e3e3"/><circle cx="265.4" cy="84.2" r="0.8" fill="#a4a4a4"/><circle cx="253" cy="108.3" r="0.6" fill="#a3a3a3"/><circle cx="260.7" cy="105.2" r="1" fill="#e1e1e1"/><circle cx="245.4" cy="78.9" r="0.9" fill="#8f8f8f"/><circle cx="263.4" cy="103" r="0.9" fill="#b3b3b3"/><circle cx="258.9" cy="105.8" r="0.6" fill="#dddddd"/><circle cx="251.3" cy="77.4" r="0.7" fill="#a6a6a6"/><circle cx="237.9" cy="98.3" r="0.8" fill="#d7d7d7"/><circle cx="265.6" cy="100.2" r="0.9" fill="#a6a6a6"/><circle cx="265.6" cy="84.8" r="1" fill="#aaaaaa"/><circle cx="261.5" cy="104.4" r="1" fill="#a3a3a3"/><circle cx="251.5" cy="108" r="0.9" fill="#969696"/><circle cx="260.4" cy="105.9" r="1" fill="#cecece"/><circle cx="238" cy="98.6" r="1" fill="#b0b0b0"/><circle cx="266.6" cy="84" r="0.7" fill="#959595"/><circle cx="247.5" cy="77.2" r="0.9" fill="#a3a3a3"/><circle cx="238.2" cy="94.4" r="0.6" fill="#939393"/><circle cx="255" cy="108.2" r="0.9" fill="#c9c9c9"/><circle cx="266" cy="84.6" r="0.9" fill="#cacaca"/><circle cx="247.5" cy="78.4" r="0.7" fill="#dbdbdb"/><circle cx="238" cy="97.6" r="0.9" fill="#cfcfcf"/><circle cx="247" cy="106.3" r="0.6" fill="#cdcdcd"/><circle cx="263.4" cy="81.5" r="0.7" fill="#afafaf"/><circle cx="249.4" cy="77.7" r="0.6" fill="#989898"/><circle cx="263.4" cy="103.8" r="0.6" fill="#e5e5e5"/><circle cx="238" cy="95.9" r="0.7" fill="#a7a7a7"/><circle cx="264.7" cy="101.9" r="0.6" fill="#a3a3a3"/><circle cx="263.4" cy="104.3" r="1" fill="#cccccc"/><circle cx="259" cy="77.8" r="0.6" fill="#a0a0a0"/><circle cx="268.4" cy="90.7" r="0.7" fill="#cdcdcd"/><circle cx="256.8" cy="77.3" r="0.7" fill="#939393"/><circle cx="268.1" cy="89.1" r="0.6" fill="#949494"/><circle cx="252.8" cy="77.1" r="0.7" fill="#b7b7b7"/><circle cx="259.5" cy="106.2" r="0.7" fill="#b2b2b2"/><circle cx="261.8" cy="104.8" r="0.6" fill="#969696"/><circle cx="238.2" cy="94.8" r="0.9" fill="#cecece"/><circle cx="248.4" cy="76.8" r="0.8" fill="#9a9a9a"/><circle cx="240" cy="99.9" r="0.6" fill="#d9d9d9"/><circle cx="268.4" cy="90.6" r="0.6" fill="#e4e4e4"/><circle cx="265.4" cy="82.3" r="0.8" fill="#d2d2d2"/><circle cx="243.6" cy="79.9" r="0.8" fill="#d8d8d8"/><circle cx="238.2" cy="87.8" r="0.8" fill="#c4c4c4"/><circle cx="267.5" cy="86.5" r="0.9" fill="#a9a9a9"/><circle cx="254.4" cy="107.6" r="0.9" fill="#bbbbbb"/><circle cx="266.2" cy="98.9" r="0.8" fill="#9c9c9c"/><circle cx="260.2" cy="105.9" r="0.8" fill="#dbdbdb"/><circle cx="255.4" cy="107.7" r="0.8" fill="#b1b1b1"/><circle cx="259.6" cy="106.4" r="1" fill="#ababab"/><circle cx="237.1" cy="92.6" r="1" fill="#dfdfdf"/><circle cx="268.7" cy="94.4" r="1" fill="#959595"/><circle cx="256.4" cy="77.6" r="0.8" fill="#cccccc"/><circle cx="237.9" cy="96.9" r="0.9" fill="#b5b5b5"/><circle cx="247.8" cy="78.4" r="0.9" fill="#c5c5c5"/><circle cx="263.2" cy="80.8" r="0.7" fill="#bcbcbc"/><circle cx="258.1" cy="107.4" r="1" fill="#919191"/><circle cx="263.7" cy="103" r="0.6" fill="#c4c4c4"/></g>
<path d="M217.3 92.6H309.9" stroke="#f4f4f4" stroke-width="1.6"/>
<path d="M217 36.7h6M220 33.7v6M272.4 115.6h6M275.4 112.6v6" stroke="#858585" stroke-width="0.7"/>
<text x="190.4" y="28.8" font-size="11" fill="#e6e6e6" class="w">0</text><text x="199.6" y="28.8" font-size="11.4" fill="#e6e6e6" class="w">h</text>
<rect x="189" y="143" width="124" height="114.8" fill="#080808"/>
<g filter="url(#bl15)"><path d="M212 170Q206.5 165.5 202 160" stroke="#222222" stroke-width="2.2" stroke-linecap="round" fill="none"/><path d="M214 196Q208.3 200.2 203 205" stroke="#222222" stroke-width="2.2" stroke-linecap="round" fill="none"/><path d="M226 205Q224.7 213.5 224 222" stroke="#1e1e1e" stroke-width="2.2" stroke-linecap="round" fill="none"/><path d="M236 204Q238 210 240 216" stroke="#1e1e1e" stroke-width="2.2" stroke-linecap="round" fill="none"/><path d="M218 168Q215 162.2 213 156" stroke="#1e1e1e" stroke-width="2.2" stroke-linecap="round" fill="none"/><path d="M246 172Q250.4 167.3 254 162" stroke="#1b1b1b" stroke-width="2.2" stroke-linecap="round" fill="none"/><path d="M248 190Q252.2 193.4 257 196" stroke="#1b1b1b" stroke-width="2.2" stroke-linecap="round" fill="none"/><path d="M281 210.7Q284.5 205.4 288 200" stroke="#2d2d2d" stroke-width="2.2" stroke-linecap="round" fill="none"/><path d="M288 200Q291.4 195.1 294.8 190.1" stroke="#2d2d2d" stroke-width="2.2" stroke-linecap="round" fill="none"/><path d="M274.2 209Q279.9 204.3 286.2 200.4" stroke="#292929" stroke-width="2.2" stroke-linecap="round" fill="none"/><path d="M252 212Q245.4 208.8 240 204" stroke="#1e1e1e" stroke-width="2.2" stroke-linecap="round" fill="none"/><path d="M283 232Q291.6 234.7 300 238" stroke="#1e1e1e" stroke-width="2.2" stroke-linecap="round" fill="none"/><path d="M262 242Q259.9 247 258 252" stroke="#222222" stroke-width="2.2" stroke-linecap="round" fill="none"/><path d="M276 240Q280.6 244.5 284 250" stroke="#1b1b1b" stroke-width="2.2" stroke-linecap="round" fill="none"/><path d="M250 232Q243.8 234.5 238 238" stroke="#1b1b1b" stroke-width="2.2" stroke-linecap="round" fill="none"/></g>
<g filter="url(#bl07)"><ellipse transform="translate(229.2 184.7) rotate(0)" rx="20" ry="20.2" fill="url(#rg22)" filter="url(#bl15)"/><g clip-path="url(#cp22)"><g filter="url(#bl15)"><circle cx="236.1" cy="182.8" r="3.5" fill="#464646"/><circle cx="231.8" cy="190.8" r="2.2" fill="#818181"/><circle cx="236.2" cy="178.8" r="2.1" fill="#b4b4b4"/><circle cx="214.4" cy="173.7" r="3.3" fill="#b7b7b7"/><circle cx="228.1" cy="180.6" r="2.7" fill="#848484"/><circle cx="226.1" cy="192.5" r="2.7" fill="#a2a2a2"/><circle cx="244.7" cy="178.3" r="2.6" fill="#d3d3d3"/><circle cx="224.5" cy="170.5" r="3.4" fill="#8c8c8c"/><circle cx="222.8" cy="200.4" r="2.8" fill="#d2d2d2"/><circle cx="240" cy="198.3" r="1.9" fill="#b5b5b5"/><circle cx="242.4" cy="189" r="3.4" fill="#767676"/><circle cx="215.5" cy="184.2" r="2.8" fill="#9b9b9b"/><circle cx="238.3" cy="179.4" r="2.7" fill="#858585"/><circle cx="224.9" cy="198.9" r="2.4" fill="#a9a9a9"/><circle cx="222.8" cy="172.3" r="3.5" fill="#7b7b7b"/><circle cx="221.5" cy="194.6" r="3.4" fill="#989898"/><circle cx="242.2" cy="180.6" r="1.7" fill="#9b9b9b"/><circle cx="235.4" cy="179.9" r="2.2" fill="#818181"/><circle cx="223.8" cy="194.8" r="1.6" fill="#7a7a7a"/><circle cx="212.7" cy="180.9" r="1.9" fill="#b3b3b3"/><circle cx="227.7" cy="180.6" r="3.2" fill="#565656"/><circle cx="240.5" cy="178.5" r="2.5" fill="#c7c7c7"/><circle cx="214.8" cy="182.5" r="3" fill="#d6d6d6"/><circle cx="213.2" cy="187.5" r="2.2" fill="#b3b3b3"/><circle cx="232.9" cy="167.7" r="3.4" fill="#afafaf"/><circle cx="242.5" cy="186.2" r="2.2" fill="#b2b2b2"/><circle cx="236.7" cy="198.8" r="2" fill="#9e9e9e"/><circle cx="247.2" cy="189.6" r="1.7" fill="#969696"/><circle cx="231.2" cy="194.2" r="1.9" fill="#afafaf"/><circle cx="228.2" cy="190.6" r="1.9" fill="#696969"/><circle cx="220.1" cy="198.4" r="3.2" fill="#cfcfcf"/><circle cx="240.5" cy="187.5" r="1.6" fill="#bebebe"/><circle cx="233.1" cy="197.6" r="3" fill="#999999"/><circle cx="226.6" cy="171.9" r="2" fill="#8b8b8b"/><circle cx="228.7" cy="189.6" r="1.8" fill="#747474"/><circle cx="240.9" cy="174.8" r="2.5" fill="#787878"/><circle cx="226.1" cy="182.3" r="1.6" fill="#5a5a5a"/><circle cx="229.3" cy="183.5" r="3.5" fill="#535353"/><circle cx="234.4" cy="177.1" r="1.8" fill="#8a8a8a"/><circle cx="219.5" cy="199.6" r="1.5" fill="#c4c4c4"/><circle cx="218.1" cy="195.2" r="3.1" fill="#848484"/><circle cx="240.2" cy="175.8" r="3.2" fill="#979797"/><circle cx="221" cy="184" r="1.8" fill="#696969"/><circle cx="236.4" cy="173.1" r="3.1" fill="#b8b8b8"/><circle cx="237.4" cy="183.3" r="3.2" fill="#767676"/><circle cx="230.1" cy="172.8" r="1.9" fill="#acacac"/><circle cx="231.5" cy="188.4" r="2" fill="#535353"/><circle cx="210.6" cy="182.6" r="2.6" fill="#828282"/><circle cx="238.9" cy="173.5" r="3" fill="#a7a7a7"/><circle cx="247.5" cy="187.3" r="3.1" fill="#b7b7b7"/><circle cx="231.9" cy="179.3" r="1.9" fill="#414141"/><circle cx="210.8" cy="184.1" r="2.3" fill="#cdcdcd"/><circle cx="217.5" cy="173.2" r="3.4" fill="#949494"/><circle cx="244.3" cy="178.8" r="3.1" fill="#cdcdcd"/><circle cx="223" cy="175.8" r="2" fill="#7e7e7e"/><circle cx="246.3" cy="191.2" r="1.5" fill="#909090"/><circle cx="226.7" cy="190.3" r="2.2" fill="#686868"/><circle cx="235.1" cy="196.5" r="2.2" fill="#9c9c9c"/><circle cx="233.3" cy="174.9" r="3.3" fill="#969696"/><circle cx="240.4" cy="181.7" r="3.4" fill="#6d6d6d"/><circle cx="220.4" cy="183.9" r="2" fill="#5f5f5f"/><circle cx="226.6" cy="191.3" r="3.5" fill="#484848"/><circle cx="231.9" cy="178.9" r="3.1" fill="#6e6e6e"/><circle cx="224.2" cy="184.6" r="2.3" fill="#545454"/><circle cx="241.7" cy="177.2" r="2.8" fill="#a0a0a0"/><circle cx="244.2" cy="189.5" r="2.8" fill="#c3c3c3"/><circle cx="222.7" cy="192.6" r="1.7" fill="#5e5e5e"/><circle cx="236.4" cy="195.4" r="1.9" fill="#c0c0c0"/><circle cx="214.3" cy="187.3" r="1.5" fill="#b1b1b1"/><circle cx="242" cy="177.7" r="2" fill="#919191"/><circle cx="222.3" cy="167.5" r="2.3" fill="#949494"/><circle cx="221.8" cy="181.9" r="3.3" fill="#737373"/><circle cx="213" cy="178.7" r="3.2" fill="#8d8d8d"/><circle cx="231" cy="175.8" r="2.9" fill="#898989"/><circle cx="216" cy="178.1" r="2.6" fill="#8b8b8b"/><circle cx="218.8" cy="198.3" r="3.5" fill="#989898"/><circle cx="221.3" cy="180.3" r="1.8" fill="#7d7d7d"/><circle cx="228.9" cy="180.6" r="2.1" fill="#676767"/><circle cx="230.3" cy="178" r="2.9" fill="#858585"/><circle cx="229.9" cy="191.6" r="2.8" fill="#676767"/><circle cx="229.1" cy="186.5" r="3.1" fill="#444444"/><circle cx="239.3" cy="200.3" r="1.8" fill="#a5a5a5"/><circle cx="238.6" cy="191.6" r="1.9" fill="#989898"/><circle cx="240.8" cy="191.5" r="2.4" fill="#8c8c8c"/><circle cx="214.1" cy="189.6" r="2" fill="#acacac"/><circle cx="236.7" cy="200.8" r="1.7" fill="#787878"/><circle cx="244.8" cy="192.1" r="3.3" fill="#a9a9a9"/><circle cx="221.5" cy="176.8" r="3" fill="#8f8f8f"/><circle cx="231.2" cy="201.8" r="1.6" fill="#9b9b9b"/><circle cx="221.3" cy="196.6" r="3.3" fill="#818181"/></g></g><circle cx="241.6" cy="178.4" r="0.9" fill="#b4b4b4"/><circle cx="221.7" cy="182.9" r="0.9" fill="#a5a5a5"/><circle cx="217.7" cy="188.3" r="0.4" fill="#a6a6a6"/><circle cx="236.6" cy="175" r="0.5" fill="#a5a5a5"/><circle cx="231.4" cy="176.9" r="0.5" fill="#878787"/><circle cx="246.1" cy="189.2" r="0.6" fill="#c5c5c5"/><circle cx="221.6" cy="186.9" r="0.4" fill="#494949"/><circle cx="228.1" cy="201.7" r="0.8" fill="#adadad"/><circle cx="223.6" cy="199.6" r="0.8" fill="#8e8e8e"/><circle cx="240.8" cy="191.3" r="0.5" fill="#7a7a7a"/><circle cx="225.1" cy="188.1" r="0.8" fill="#474747"/><circle cx="242.6" cy="174.7" r="0.4" fill="#cdcdcd"/><circle cx="234.3" cy="171.5" r="0.8" fill="#9b9b9b"/><circle cx="236.6" cy="185.9" r="0.6" fill="#9d9d9d"/><circle cx="232.4" cy="178.8" r="0.6" fill="#3e3e3e"/><circle cx="230.8" cy="196.2" r="0.6" fill="#6a6a6a"/><circle cx="224" cy="176.6" r="0.8" fill="#818181"/><circle cx="213.9" cy="192" r="0.6" fill="#828282"/><circle cx="236.8" cy="192.1" r="0.5" fill="#a7a7a7"/><circle cx="219.2" cy="197.7" r="0.5" fill="#6c6c6c"/><circle cx="225.1" cy="196.3" r="0.9" fill="#767676"/><circle cx="231" cy="192.2" r="0.5" fill="#aaaaaa"/><circle cx="237.6" cy="180.8" r="0.4" fill="#7f7f7f"/><circle cx="223.6" cy="181.4" r="0.6" fill="#8a8a8a"/><circle cx="245.6" cy="184.8" r="0.7" fill="#c0c0c0"/><circle cx="216" cy="185.8" r="0.7" fill="#737373"/><circle cx="219.7" cy="183.9" r="0.6" fill="#4e4e4e"/><circle cx="231.7" cy="188.6" r="0.7" fill="#3c3c3c"/><circle cx="216.3" cy="179.9" r="0.5" fill="#727272"/><circle cx="216.1" cy="175.6" r="0.7" fill="#9f9f9f"/><circle cx="226.5" cy="183.2" r="0.6" fill="#717171"/><circle cx="224.7" cy="189.1" r="0.6" fill="#8f8f8f"/><circle cx="234.5" cy="188.5" r="0.6" fill="#969696"/><circle cx="221.7" cy="190.9" r="0.8" fill="#555555"/><circle cx="225" cy="199.2" r="0.8" fill="#c8c8c8"/><circle cx="224.6" cy="193.7" r="0.6" fill="#5b5b5b"/><circle cx="226.8" cy="201.7" r="0.9" fill="#838383"/><circle cx="244.2" cy="192.1" r="0.9" fill="#c0c0c0"/><circle cx="214.9" cy="193.5" r="0.8" fill="#bbbbbb"/><circle cx="209.8" cy="185.6" r="0.8" fill="#7f7f7f"/><circle cx="223.9" cy="187.2" r="0.6" fill="#8a8a8a"/><circle cx="215.2" cy="185.9" r="0.8" fill="#6e6e6e"/><circle cx="221" cy="195.5" r="0.6" fill="#b4b4b4"/><circle cx="245.2" cy="177.9" r="0.7" fill="#b4b4b4"/><circle cx="210.5" cy="180" r="0.7" fill="#a9a9a9"/><circle cx="219.2" cy="192.4" r="0.8" fill="#8d8d8d"/><circle cx="242.8" cy="175.2" r="0.9" fill="#b6b6b6"/><circle cx="218.6" cy="179.6" r="0.4" fill="#a8a8a8"/><circle cx="229.3" cy="168" r="0.8" fill="#686868"/><circle cx="225.1" cy="175.2" r="0.6" fill="#b4b4b4"/><circle cx="218.2" cy="192.2" r="0.4" fill="#797979"/><circle cx="231.4" cy="193.5" r="0.7" fill="#4a4a4a"/><circle cx="234" cy="187.8" r="0.8" fill="#9b9b9b"/><circle cx="229.2" cy="170.6" r="0.5" fill="#bfbfbf"/><circle cx="232.9" cy="188.6" r="0.7" fill="#8b8b8b"/><circle cx="222.5" cy="201.6" r="0.6" fill="#d5d5d5"/><circle cx="227.9" cy="166.5" r="0.9" fill="#c3c3c3"/><circle cx="233.8" cy="198" r="0.7" fill="#b8b8b8"/><circle cx="231.1" cy="199.5" r="0.5" fill="#797979"/><circle cx="212.7" cy="190.2" r="0.7" fill="#8d8d8d"/><circle cx="231" cy="196.3" r="0.6" fill="#7a7a7a"/><circle cx="225.7" cy="193.4" r="0.5" fill="#959595"/><circle cx="218.4" cy="173.7" r="0.9" fill="#b1b1b1"/><circle cx="237.6" cy="193.8" r="0.7" fill="#b7b7b7"/><circle cx="223.4" cy="183.6" r="0.6" fill="#787878"/><circle cx="232" cy="171.9" r="0.5" fill="#676767"/><circle cx="212.4" cy="184.4" r="0.5" fill="#a1a1a1"/><circle cx="217.3" cy="176.3" r="0.5" fill="#6e6e6e"/><circle cx="239.8" cy="186.2" r="0.8" fill="#838383"/><circle cx="246.8" cy="183.2" r="0.7" fill="#979797"/><circle cx="212.8" cy="177.8" r="0.6" fill="#767676"/><circle cx="241.6" cy="175.4" r="0.6" fill="#929292"/><circle cx="241" cy="193.5" r="0.8" fill="#9e9e9e"/><circle cx="223.8" cy="168.8" r="0.6" fill="#aeaeae"/><circle cx="245.4" cy="181.8" r="0.5" fill="#b1b1b1"/><circle cx="218.7" cy="171.1" r="0.8" fill="#cecece"/><circle cx="238" cy="183.4" r="0.6" fill="#494949"/><circle cx="235.5" cy="184.1" r="0.6" fill="#777777"/><circle cx="221.9" cy="188.2" r="0.7" fill="#575757"/><circle cx="212.8" cy="185.7" r="0.5" fill="#989898"/><circle cx="219.6" cy="174.2" r="0.8" fill="#cccccc"/><circle cx="236.9" cy="183.1" r="0.6" fill="#494949"/><circle cx="225.3" cy="173" r="0.8" fill="#979797"/><circle cx="230.2" cy="181.4" r="0.7" fill="#474747"/><circle cx="232.3" cy="179.2" r="0.4" fill="#7e7e7e"/><circle cx="223.3" cy="196.2" r="0.6" fill="#d7d7d7"/><circle cx="216.6" cy="172.2" r="0.8" fill="#c8c8c8"/><circle cx="219.3" cy="188.1" r="0.7" fill="#b9b9b9"/><circle cx="239.2" cy="175.6" r="0.9" fill="#bdbdbd"/><circle cx="244.1" cy="188.6" r="0.8" fill="#696969"/><circle cx="218" cy="195.7" r="0.7" fill="#a2a2a2"/><circle cx="237.6" cy="190.1" r="0.8" fill="#757575"/><circle cx="214.4" cy="186.7" r="0.5" fill="#949494"/><circle cx="211.1" cy="184.1" r="0.8" fill="#787878"/><circle cx="212.4" cy="184.4" r="0.8" fill="#a2a2a2"/><circle cx="218.6" cy="173.1" r="0.7" fill="#cccccc"/><circle cx="248.4" cy="182.9" r="0.5" fill="#b7b7b7"/><circle cx="221.4" cy="191.4" r="0.4" fill="#b9b9b9"/><circle cx="240.3" cy="175.9" r="0.6" fill="#7c7c7c"/><circle cx="244.4" cy="177.2" r="0.5" fill="#a7a7a7"/><circle cx="239.2" cy="184.4" r="0.6" fill="#777777"/><circle cx="224.6" cy="189.5" r="0.7" fill="#4e4e4e"/><circle cx="223.6" cy="172.6" r="0.8" fill="#bbbbbb"/><circle cx="234" cy="178.7" r="0.8" fill="#949494"/><circle cx="229" cy="185.3" r="0.4" fill="#5a5a5a"/><circle cx="234.1" cy="183.7" r="0.5" fill="#535353"/><circle cx="243.3" cy="191.2" r="0.8" fill="#c6c6c6"/><circle cx="237.2" cy="201.5" r="0.8" fill="#767676"/><circle cx="240.5" cy="169.6" r="0.8" fill="#bbbbbb"/><circle cx="235" cy="171.6" r="0.4" fill="#b3b3b3"/><circle cx="221.7" cy="184.7" r="0.5" fill="#9f9f9f"/><circle cx="232.8" cy="182.2" r="0.4" fill="#707070"/><circle cx="224.5" cy="202.4" r="0.6" fill="#b7b7b7"/><circle cx="245.6" cy="189.7" r="0.5" fill="#969696"/><circle cx="218.2" cy="185.7" r="0.5" fill="#8a8a8a"/><circle cx="236.5" cy="187.2" r="0.5" fill="#9e9e9e"/><circle cx="221.9" cy="202.7" r="0.9" fill="#777777"/><circle cx="241.1" cy="169.4" r="0.6" fill="#9c9c9c"/><circle cx="223" cy="172.5" r="0.5" fill="#b9b9b9"/><circle cx="231.5" cy="196.6" r="0.4" fill="#838383"/><circle cx="231.7" cy="177.9" r="0.5" fill="#646464"/><circle cx="228.7" cy="186.2" r="0.4" fill="#1f1f1f"/><circle cx="233.7" cy="168.1" r="0.8" fill="#b5b5b5"/><circle cx="239.1" cy="184.6" r="0.8" fill="#808080"/><circle cx="241.7" cy="181.5" r="0.8" fill="#bebebe"/><circle cx="245.7" cy="180.8" r="0.6" fill="#afafaf"/><circle cx="234.6" cy="166.5" r="0.5" fill="#b9b9b9"/><circle cx="227.8" cy="177" r="0.5" fill="#7c7c7c"/><circle cx="220.1" cy="178.2" r="0.7" fill="#676767"/><circle cx="216.5" cy="178.4" r="0.8" fill="#b8b8b8"/><circle cx="241.9" cy="191.7" r="0.5" fill="#a1a1a1"/><circle cx="222.1" cy="169.9" r="0.4" fill="#a2a2a2"/><circle cx="235.5" cy="197.1" r="0.6" fill="#9d9d9d"/><circle cx="230.1" cy="174" r="0.6" fill="#6e6e6e"/><circle cx="234.2" cy="199.4" r="0.5" fill="#c1c1c1"/><circle cx="224.6" cy="189.4" r="0.8" fill="#333333"/><circle cx="224.8" cy="199.9" r="0.4" fill="#b6b6b6"/><circle cx="211.5" cy="177.3" r="0.6" fill="#c5c5c5"/><circle cx="242.8" cy="183" r="0.4" fill="#8b8b8b"/><circle cx="229.3" cy="184.5" r="0.7" fill="#393939"/><circle cx="228.5" cy="172.8" r="0.9" fill="#696969"/><circle cx="219.9" cy="190.1" r="0.7" fill="#6c6c6c"/><circle cx="219.3" cy="193.3" r="0.9" fill="#676767"/><circle cx="227.6" cy="192.1" r="0.8" fill="#929292"/><circle cx="246.3" cy="186.5" r="0.8" fill="#9a9a9a"/><circle cx="214.9" cy="174.8" r="0.9" fill="#7e7e7e"/><circle cx="227.8" cy="179.4" r="0.6" fill="#929292"/><circle cx="219.4" cy="174.4" r="0.6" fill="#999999"/><circle cx="243.5" cy="187.5" r="0.9" fill="#717171"/><circle cx="244.2" cy="188" r="0.8" fill="#969696"/><circle cx="242.7" cy="192.6" r="0.7" fill="#7f7f7f"/><circle cx="234.8" cy="171.4" r="0.8" fill="#7f7f7f"/><circle cx="219" cy="196.8" r="0.7" fill="#c7c7c7"/><circle cx="244.6" cy="178.9" r="0.4" fill="#9a9a9a"/><circle cx="220.6" cy="169.7" r="0.6" fill="#6b6b6b"/><circle cx="221.7" cy="180.5" r="0.7" fill="#5b5b5b"/><circle cx="231.6" cy="182.3" r="0.7" fill="#7d7d7d"/><circle cx="224.6" cy="178.9" r="0.7" fill="#989898"/><circle cx="216.7" cy="171" r="0.8" fill="#909090"/><circle cx="240.7" cy="196.1" r="0.6" fill="#c3c3c3"/><circle cx="213.7" cy="190.3" r="0.5" fill="#bcbcbc"/><circle cx="240.8" cy="171.5" r="0.8" fill="#b2b2b2"/><circle cx="234.5" cy="194.6" r="0.5" fill="#787878"/><circle cx="219.1" cy="178.7" r="0.7" fill="#c3c3c3"/><circle cx="230.4" cy="184.6" r="0.7" fill="#484848"/><circle cx="214.1" cy="191.6" r="0.8" fill="#808080"/><circle cx="224.1" cy="178.8" r="0.6" fill="#636363"/><circle cx="237.1" cy="167.8" r="0.8" fill="#a1a1a1"/><circle cx="225.3" cy="169.4" r="0.7" fill="#737373"/><circle cx="226.9" cy="203.7" r="0.7" fill="#717171"/><circle cx="224.8" cy="190.3" r="0.5" fill="#616161"/><circle cx="228.5" cy="187.3" r="0.6" fill="#7d7d7d"/><circle cx="217.3" cy="187.6" r="0.6" fill="#7e7e7e"/><circle cx="225.2" cy="192.3" r="0.6" fill="#acacac"/><circle cx="217.1" cy="198.4" r="0.6" fill="#aeaeae"/><circle cx="217.1" cy="186.1" r="0.8" fill="#a3a3a3"/><circle cx="233.1" cy="194.8" r="0.6" fill="#959595"/><circle cx="222" cy="191.7" r="0.6" fill="#c1c1c1"/><circle cx="228" cy="166.5" r="0.8" fill="#747474"/><circle cx="213.1" cy="180.9" r="0.6" fill="#a1a1a1"/><circle cx="218.8" cy="173.2" r="0.5" fill="#6a6a6a"/><circle cx="228.7" cy="188.3" r="0.6" fill="#1d1d1d"/><circle cx="241.6" cy="194.4" r="0.5" fill="#b7b7b7"/><circle cx="213.7" cy="193.4" r="0.7" fill="#c9c9c9"/><circle cx="218" cy="190.5" r="0.9" fill="#b2b2b2"/><circle cx="212.9" cy="192.7" r="0.8" fill="#afafaf"/><circle cx="247.2" cy="187.9" r="0.5" fill="#656565"/><circle cx="224.7" cy="192" r="0.5" fill="#797979"/><circle cx="213.2" cy="184.4" r="0.8" fill="#b5b5b5"/><circle cx="237.7" cy="175.1" r="0.5" fill="#b6b6b6"/><circle cx="237.2" cy="184.5" r="0.7" fill="#696969"/><circle cx="232.7" cy="184.3" r="0.6" fill="#414141"/><circle cx="217.8" cy="197.1" r="0.4" fill="#848484"/><circle cx="242.1" cy="182" r="0.4" fill="#acacac"/><circle cx="218.9" cy="169" r="0.8" fill="#d2d2d2"/><circle cx="228.2" cy="195.7" r="0.7" fill="#7d7d7d"/><circle cx="226.5" cy="187.4" r="0.5" fill="#2a2a2a"/><circle cx="217.9" cy="196.5" r="0.5" fill="#858585"/><circle cx="240" cy="190.9" r="0.7" fill="#a6a6a6"/><circle cx="220.6" cy="173.3" r="0.7" fill="#c1c1c1"/><circle cx="229.5" cy="184.3" r="0.9" fill="#373737"/><circle cx="246.1" cy="183.9" r="0.6" fill="#696969"/><circle cx="243.2" cy="194.6" r="0.4" fill="#696969"/><circle cx="224.4" cy="170.2" r="0.7" fill="#6b6b6b"/><circle cx="245.4" cy="180.3" r="0.4" fill="#a6a6a6"/><circle cx="224.9" cy="193.1" r="0.7" fill="#bababa"/><circle cx="246.3" cy="188.2" r="0.9" fill="#6e6e6e"/><circle cx="231.1" cy="183.3" r="0.6" fill="#101010"/><circle cx="232.7" cy="192" r="0.7" fill="#6f6f6f"/><circle cx="245.7" cy="181.3" r="0.4" fill="#6c6c6c"/><circle cx="226" cy="202.1" r="0.8" fill="#c6c6c6"/><circle cx="240.2" cy="172.2" r="0.7" fill="#c6c6c6"/><circle cx="237" cy="168.8" r="0.8" fill="#a2a2a2"/><circle cx="242.3" cy="192.7" r="0.8" fill="#d3d3d3"/><circle cx="228.9" cy="166.2" r="0.9" fill="#8a8a8a"/><circle cx="242.3" cy="178.1" r="0.6" fill="#989898"/><circle cx="216.7" cy="185" r="0.8" fill="#7f7f7f"/><circle cx="214.8" cy="190.9" r="0.9" fill="#b9b9b9"/><circle cx="218" cy="180.6" r="0.7" fill="#c8c8c8"/><circle cx="241.2" cy="186" r="0.5" fill="#b8b8b8"/><circle cx="228.7" cy="183.8" r="0.8" fill="#333333"/><circle cx="233.1" cy="189.4" r="0.4" fill="#4a4a4a"/><circle cx="243.4" cy="192.8" r="0.5" fill="#969696"/><circle cx="222.1" cy="173.8" r="0.5" fill="#999999"/><circle cx="214.9" cy="188.4" r="0.7" fill="#888888"/><circle cx="221.6" cy="168.3" r="0.9" fill="#acacac"/><circle cx="229.1" cy="185.2" r="0.6" fill="#727272"/><circle cx="245.5" cy="183.6" r="0.5" fill="#7b7b7b"/><circle cx="236.4" cy="195.4" r="0.9" fill="#7c7c7c"/><circle cx="235" cy="171.4" r="0.5" fill="#999999"/><circle cx="243.8" cy="189.9" r="0.9" fill="#898989"/><circle cx="239.4" cy="182.7" r="0.6" fill="#a1a1a1"/><circle cx="230" cy="188.4" r="0.6" fill="#535353"/><circle cx="233.4" cy="191.7" r="0.5" fill="#535353"/><circle cx="238.4" cy="197.5" r="0.8" fill="#a9a9a9"/><circle cx="231.1" cy="199.1" r="0.9" fill="#8e8e8e"/><circle cx="229" cy="183.3" r="0.8" fill="#6b6b6b"/><circle cx="211.5" cy="179.7" r="0.7" fill="#bfbfbf"/><circle cx="217.2" cy="185.5" r="0.5" fill="#9f9f9f"/><circle cx="229.7" cy="181.1" r="0.7" fill="#1c1c1c"/><circle cx="219" cy="171.7" r="0.9" fill="#b0b0b0"/><circle cx="219.9" cy="171.5" r="0.7" fill="#b5b5b5"/><circle cx="221.7" cy="168.3" r="0.6" fill="#d3d3d3"/><circle cx="230.6" cy="188.6" r="0.4" fill="#5c5c5c"/><circle cx="233.4" cy="179.3" r="0.8" fill="#6d6d6d"/><circle cx="225.1" cy="177.9" r="0.9" fill="#717171"/><circle cx="230.2" cy="200.1" r="0.4" fill="#b0b0b0"/><circle cx="232.8" cy="178.8" r="0.5" fill="#535353"/><circle cx="234.4" cy="199.2" r="0.8" fill="#999999"/><circle cx="223" cy="167.1" r="0.8" fill="#909090"/><circle cx="235.8" cy="179.5" r="0.8" fill="#494949"/><circle cx="226.6" cy="190.4" r="0.7" fill="#3b3b3b"/><circle cx="223" cy="179.7" r="0.7" fill="#757575"/><circle cx="226.4" cy="191.5" r="0.8" fill="#4d4d4d"/><circle cx="220" cy="201" r="0.8" fill="#b8b8b8"/><circle cx="217.6" cy="171" r="0.8" fill="#c5c5c5"/><circle cx="229.4" cy="172.1" r="0.8" fill="#8f8f8f"/><circle cx="226.3" cy="183.5" r="0.5" fill="#636363"/><circle cx="234.4" cy="187.8" r="0.8" fill="#959595"/><circle cx="246.2" cy="181.8" r="0.6" fill="#aaaaaa"/><ellipse cx="231.5" cy="186" rx="12" ry="10" fill="#080808" filter="url(#bl15)"/><ellipse cx="238" cy="191" rx="6" ry="5.5" fill="#0a0a0a" filter="url(#bl15)"/><ellipse cx="226" cy="191" rx="5" ry="4" fill="#0f0f0f" filter="url(#bl15)"/><ellipse transform="translate(229.2 184.7) rotate(0)" rx="19.9" ry="20.1" fill="none" stroke="#8c8c8c" stroke-width="0.1"/><circle cx="218.5" cy="182.9" r="1.3" fill="#fafafa"/><circle cx="222" cy="181.5" r="1.1" fill="#f0f0f0"/><circle cx="223.5" cy="188" r="1" fill="#e1e1e1"/><circle cx="221" cy="185.5" r="1" fill="#c8c8c8"/><ellipse cx="233" cy="181" rx="4.5" ry="1.6" fill="#969696"/><circle cx="239" cy="180.5" r="2.2" fill="#969696"/><circle cx="228" cy="180" r="1.5" fill="#828282"/></g>
<g filter="url(#bl07)"><ellipse transform="translate(267 225.2) rotate(0)" rx="17.8" ry="18" fill="url(#rg23)" filter="url(#bl15)"/><g clip-path="url(#cp23)"><g filter="url(#bl15)"><circle cx="281.7" cy="217.6" r="1.7" fill="#a0a0a0"/><circle cx="257.8" cy="219.1" r="1.8" fill="#7f7f7f"/><circle cx="271" cy="235.9" r="2.4" fill="#636363"/><circle cx="271.9" cy="226" r="2.3" fill="#5c5c5c"/><circle cx="252.6" cy="224" r="1.6" fill="#707070"/><circle cx="269.7" cy="212.4" r="2.7" fill="#8b8b8b"/><circle cx="277" cy="223.3" r="2.2" fill="#8f8f8f"/><circle cx="254.6" cy="219.1" r="1.7" fill="#6c6c6c"/><circle cx="252.9" cy="227.6" r="2.4" fill="#858585"/><circle cx="262.5" cy="219.5" r="2.1" fill="#414141"/><circle cx="270" cy="218.3" r="1.7" fill="#3d3d3d"/><circle cx="275.6" cy="227.4" r="3.1" fill="#737373"/><circle cx="262" cy="234.3" r="2.1" fill="#666666"/><circle cx="269.2" cy="212.7" r="1.7" fill="#676767"/><circle cx="270" cy="211.1" r="2" fill="#9a9a9a"/><circle cx="251.4" cy="220.6" r="3.4" fill="#858585"/><circle cx="275.3" cy="239.9" r="2.3" fill="#555555"/><circle cx="282.1" cy="227.5" r="3.4" fill="#8d8d8d"/><circle cx="272.6" cy="209.5" r="3.5" fill="#808080"/><circle cx="266.9" cy="215.1" r="2.3" fill="#a1a1a1"/><circle cx="268.6" cy="229.6" r="1.9" fill="#444444"/><circle cx="282.1" cy="218.4" r="1.7" fill="#636363"/><circle cx="260.1" cy="223.9" r="3.1" fill="#5f5f5f"/><circle cx="266.8" cy="236.3" r="2.4" fill="#a1a1a1"/><circle cx="258.2" cy="238.7" r="3.3" fill="#999999"/><circle cx="262.9" cy="215" r="3.2" fill="#8e8e8e"/><circle cx="261.7" cy="218.8" r="2.3" fill="#555555"/><circle cx="268.7" cy="212.6" r="3.2" fill="#818181"/><circle cx="277.4" cy="233.8" r="2.6" fill="#6d6d6d"/><circle cx="271.3" cy="217.9" r="1.7" fill="#919191"/><circle cx="255.5" cy="220.4" r="2.6" fill="#656565"/><circle cx="255.9" cy="227.3" r="1.5" fill="#909090"/><circle cx="256.3" cy="235.8" r="3.2" fill="#5c5c5c"/><circle cx="271" cy="238.7" r="2.4" fill="#5f5f5f"/><circle cx="262.7" cy="227.5" r="2.5" fill="#5a5a5a"/><circle cx="262.4" cy="213.6" r="2.6" fill="#828282"/><circle cx="262.3" cy="240.7" r="3.3" fill="#575757"/><circle cx="274.8" cy="216.1" r="2.8" fill="#959595"/><circle cx="259.8" cy="219.5" r="2.2" fill="#5e5e5e"/><circle cx="261.7" cy="241.1" r="2.3" fill="#6e6e6e"/><circle cx="253.6" cy="232.7" r="2.6" fill="#7a7a7a"/><circle cx="266.7" cy="234.2" r="1.9" fill="#484848"/><circle cx="265.6" cy="240.9" r="1.7" fill="#7d7d7d"/><circle cx="261.3" cy="226.6" r="2.4" fill="#585858"/><circle cx="272.4" cy="218.4" r="2" fill="#8a8a8a"/><circle cx="280.4" cy="223.7" r="3.1" fill="#535353"/><circle cx="265.4" cy="235.4" r="3.2" fill="#585858"/><circle cx="279.2" cy="233.1" r="2.9" fill="#737373"/><circle cx="265.7" cy="229.8" r="2.8" fill="#6d6d6d"/><circle cx="275.1" cy="240" r="1.9" fill="#a2a2a2"/><circle cx="280.1" cy="226.8" r="3" fill="#5c5c5c"/><circle cx="253" cy="228" r="3" fill="#838383"/><circle cx="272.7" cy="213.2" r="2.2" fill="#858585"/><circle cx="270.4" cy="229.1" r="1.9" fill="#6b6b6b"/><circle cx="258.5" cy="229.5" r="2.6" fill="#7d7d7d"/><circle cx="274.1" cy="216.5" r="2.8" fill="#707070"/><circle cx="266.5" cy="208.8" r="3.3" fill="#6c6c6c"/><circle cx="283.6" cy="223.2" r="2.3" fill="#5b5b5b"/><circle cx="269.3" cy="209.8" r="2.3" fill="#535353"/><circle cx="264.6" cy="210.5" r="1.9" fill="#808080"/></g></g><circle cx="263.5" cy="227.5" r="0.6" fill="#353535"/><circle cx="272.9" cy="213.2" r="0.6" fill="#5b5b5b"/><circle cx="261.4" cy="238.3" r="0.6" fill="#535353"/><circle cx="272.7" cy="213.3" r="0.9" fill="#7a7a7a"/><circle cx="258.9" cy="217.2" r="0.7" fill="#a4a4a4"/><circle cx="280.9" cy="223.5" r="0.6" fill="#474747"/><circle cx="272.8" cy="216" r="0.6" fill="#474747"/><circle cx="277.5" cy="227.5" r="0.9" fill="#909090"/><circle cx="263.4" cy="211.4" r="0.5" fill="#535353"/><circle cx="263.5" cy="222.6" r="0.7" fill="#404040"/><circle cx="261.2" cy="223.6" r="0.4" fill="#4a4a4a"/><circle cx="275.4" cy="236.3" r="0.6" fill="#848484"/><circle cx="267" cy="211.6" r="0.7" fill="#565656"/><circle cx="257.2" cy="239.3" r="0.5" fill="#5f5f5f"/><circle cx="254.3" cy="225.7" r="0.8" fill="#606060"/><circle cx="269.5" cy="224.6" r="0.8" fill="#363636"/><circle cx="272.5" cy="221.2" r="0.7" fill="#848484"/><circle cx="264.1" cy="220.1" r="0.9" fill="#7e7e7e"/><circle cx="279" cy="235.4" r="0.4" fill="#494949"/><circle cx="271.1" cy="211" r="0.9" fill="#858585"/><circle cx="258" cy="224.5" r="0.7" fill="#9d9d9d"/><circle cx="257.2" cy="212.2" r="0.5" fill="#909090"/><circle cx="266.5" cy="220.6" r="0.8" fill="#1d1d1d"/><circle cx="267.9" cy="229.4" r="0.7" fill="#171717"/><circle cx="267.1" cy="225.2" r="0.8" fill="#343434"/><circle cx="255.2" cy="219.6" r="0.8" fill="#858585"/><circle cx="276.9" cy="237.2" r="0.6" fill="#808080"/><circle cx="250.6" cy="223.9" r="0.6" fill="#9d9d9d"/><circle cx="275.6" cy="230.1" r="0.7" fill="#7b7b7b"/><circle cx="270.9" cy="218.3" r="0.8" fill="#7d7d7d"/><circle cx="271" cy="230.3" r="0.7" fill="#848484"/><circle cx="258.5" cy="217.7" r="0.7" fill="#989898"/><circle cx="254.5" cy="223.4" r="0.7" fill="#a5a5a5"/><circle cx="271.9" cy="210" r="0.5" fill="#818181"/><circle cx="273.5" cy="211.9" r="0.9" fill="#a3a3a3"/><circle cx="275.6" cy="234.1" r="0.6" fill="#575757"/><circle cx="249.9" cy="225.1" r="0.8" fill="#4b4b4b"/><circle cx="267.1" cy="235.8" r="0.8" fill="#717171"/><circle cx="273.9" cy="236.1" r="0.5" fill="#454545"/><circle cx="252.6" cy="215.6" r="0.8" fill="#909090"/><circle cx="274.4" cy="235.9" r="0.7" fill="#929292"/><circle cx="263.2" cy="226.5" r="0.9" fill="#222222"/><circle cx="266.1" cy="213.3" r="0.8" fill="#656565"/><circle cx="276.4" cy="231.5" r="0.6" fill="#969696"/><circle cx="255.4" cy="233.3" r="0.6" fill="#909090"/><circle cx="274.4" cy="239.8" r="0.9" fill="#434343"/><circle cx="276.6" cy="213.2" r="0.7" fill="#4c4c4c"/><circle cx="265.4" cy="210" r="0.7" fill="#a9a9a9"/><circle cx="280" cy="220.7" r="0.9" fill="#505050"/><circle cx="263.2" cy="237.3" r="0.7" fill="#a7a7a7"/><circle cx="258.1" cy="214.8" r="0.7" fill="#a7a7a7"/><circle cx="255" cy="234" r="0.7" fill="#6c6c6c"/><circle cx="263.4" cy="231" r="0.4" fill="#424242"/><circle cx="265.5" cy="229.9" r="0.6" fill="#333333"/><circle cx="280.6" cy="218.3" r="0.7" fill="#9c9c9c"/><circle cx="266.1" cy="231.1" r="0.7" fill="#2e2e2e"/><circle cx="278.2" cy="224.1" r="0.8" fill="#5b5b5b"/><circle cx="278.4" cy="232.9" r="0.7" fill="#5c5c5c"/><circle cx="282.3" cy="217.6" r="0.7" fill="#aaaaaa"/><circle cx="273.6" cy="224.5" r="0.8" fill="#6d6d6d"/><circle cx="265.9" cy="215.1" r="0.7" fill="#7b7b7b"/><circle cx="269.3" cy="222" r="0.6" fill="#262626"/><circle cx="268.5" cy="219.4" r="0.4" fill="#222222"/><circle cx="275.5" cy="232.9" r="0.8" fill="#676767"/><circle cx="278.4" cy="233.7" r="0.6" fill="#7e7e7e"/><circle cx="266.8" cy="213.4" r="0.8" fill="#838383"/><circle cx="276" cy="213" r="0.9" fill="#919191"/><circle cx="264.5" cy="237.3" r="0.8" fill="#959595"/><circle cx="265" cy="209.3" r="0.8" fill="#7b7b7b"/><circle cx="264.7" cy="222.4" r="0.6" fill="#505050"/><circle cx="280.6" cy="216.9" r="0.6" fill="#595959"/><circle cx="277.5" cy="215.9" r="0.5" fill="#454545"/><circle cx="276.4" cy="216" r="0.5" fill="#ababab"/><circle cx="254.2" cy="217.3" r="0.8" fill="#5c5c5c"/><circle cx="259.9" cy="224.2" r="0.7" fill="#505050"/><circle cx="268.5" cy="219.4" r="0.5" fill="#404040"/><circle cx="278" cy="225.3" r="0.9" fill="#9e9e9e"/><circle cx="273.7" cy="239.6" r="0.5" fill="#5a5a5a"/><circle cx="260.9" cy="218" r="0.5" fill="#3e3e3e"/><circle cx="270.4" cy="232.1" r="0.9" fill="#292929"/><circle cx="259.3" cy="223.2" r="0.8" fill="#292929"/><circle cx="256.8" cy="236" r="0.4" fill="#6d6d6d"/><circle cx="261.5" cy="236" r="0.7" fill="#494949"/><circle cx="273" cy="218.4" r="0.8" fill="#404040"/><circle cx="273.3" cy="229.5" r="0.4" fill="#404040"/><circle cx="270.2" cy="229.1" r="0.8" fill="#484848"/><circle cx="254.7" cy="225.5" r="0.8" fill="#454545"/><circle cx="280.5" cy="229.2" r="0.4" fill="#777777"/><circle cx="255.7" cy="213.8" r="0.4" fill="#6c6c6c"/><circle cx="261.9" cy="237.5" r="0.4" fill="#929292"/><circle cx="279.3" cy="221.7" r="0.7" fill="#9b9b9b"/><circle cx="275.7" cy="212.1" r="0.6" fill="#4a4a4a"/><circle cx="271.4" cy="209.8" r="0.8" fill="#626262"/><circle cx="280.5" cy="223" r="0.6" fill="#959595"/><circle cx="268.4" cy="233.7" r="0.9" fill="#333333"/><circle cx="274.4" cy="217.2" r="0.7" fill="#8b8b8b"/><circle cx="273.6" cy="220.5" r="0.4" fill="#616161"/><circle cx="268.8" cy="236.4" r="0.5" fill="#4a4a4a"/><circle cx="263.4" cy="223.6" r="0.5" fill="#2e2e2e"/><circle cx="279.8" cy="234" r="0.9" fill="#444444"/><circle cx="269.5" cy="218.3" r="0.8" fill="#282828"/><circle cx="266.5" cy="208.3" r="0.5" fill="#525252"/><circle cx="258.4" cy="238.8" r="0.8" fill="#515151"/><circle cx="279.1" cy="216.5" r="0.9" fill="#aaaaaa"/><circle cx="275" cy="237.7" r="0.4" fill="#555555"/><circle cx="258.9" cy="223.3" r="0.5" fill="#525252"/><circle cx="251" cy="229.4" r="0.7" fill="#7d7d7d"/><circle cx="265.6" cy="217.8" r="0.8" fill="#777777"/><circle cx="271.6" cy="214.4" r="0.7" fill="#494949"/><circle cx="253.6" cy="228.8" r="0.9" fill="#a1a1a1"/><circle cx="259" cy="238.1" r="0.8" fill="#a8a8a8"/><circle cx="262.8" cy="216.1" r="0.8" fill="#3b3b3b"/><circle cx="256.4" cy="220.3" r="0.8" fill="#848484"/><circle cx="269.1" cy="232" r="0.4" fill="#717171"/><circle cx="269.2" cy="214.8" r="0.5" fill="#7c7c7c"/><circle cx="271.2" cy="237.1" r="0.6" fill="#636363"/><circle cx="263.9" cy="217.1" r="0.6" fill="#6b6b6b"/><circle cx="273.2" cy="222.8" r="0.6" fill="#3a3a3a"/><circle cx="262.2" cy="236.4" r="0.8" fill="#545454"/><circle cx="264.8" cy="213.9" r="0.7" fill="#777777"/><circle cx="261.2" cy="220.7" r="0.7" fill="#4e4e4e"/><circle cx="269.8" cy="212" r="0.6" fill="#ababab"/><circle cx="267.9" cy="227" r="0.5" fill="#3e3e3e"/><circle cx="279.4" cy="233.4" r="0.4" fill="#616161"/><circle cx="265.2" cy="223.5" r="0.6" fill="#646464"/><circle cx="265.5" cy="214.4" r="0.9" fill="#7e7e7e"/><circle cx="270.8" cy="215.7" r="0.6" fill="#878787"/><circle cx="268" cy="210.7" r="0.5" fill="#6e6e6e"/><circle cx="263.5" cy="232.8" r="0.5" fill="#7c7c7c"/><circle cx="273.5" cy="233.3" r="0.4" fill="#898989"/><circle cx="263.6" cy="221.7" r="0.9" fill="#787878"/><circle cx="267" cy="209.5" r="0.8" fill="#434343"/><circle cx="265.8" cy="233.6" r="0.4" fill="#717171"/><circle cx="258.3" cy="219.5" r="0.8" fill="#575757"/><circle cx="265.9" cy="231" r="0.5" fill="#717171"/><circle cx="252.2" cy="226.1" r="0.8" fill="#888888"/><circle cx="256.1" cy="238.4" r="0.4" fill="#6d6d6d"/><circle cx="277.7" cy="215.7" r="0.6" fill="#9a9a9a"/><circle cx="267.7" cy="210.4" r="0.5" fill="#8a8a8a"/><circle cx="258.2" cy="211.9" r="0.7" fill="#a5a5a5"/><circle cx="265.5" cy="217.3" r="0.7" fill="#3d3d3d"/><circle cx="259.7" cy="218.5" r="0.9" fill="#5e5e5e"/><circle cx="270.9" cy="209.7" r="0.6" fill="#808080"/><circle cx="268.1" cy="235.8" r="0.6" fill="#8c8c8c"/><circle cx="260.1" cy="224.8" r="0.7" fill="#575757"/><circle cx="255.6" cy="223.4" r="0.8" fill="#878787"/><circle cx="260.6" cy="214.7" r="0.6" fill="#6f6f6f"/><circle cx="262.1" cy="214.8" r="0.4" fill="#585858"/><circle cx="270.6" cy="226.5" r="0.6" fill="#2c2c2c"/><circle cx="259.5" cy="227.3" r="0.5" fill="#575757"/><circle cx="264.8" cy="233.8" r="0.6" fill="#828282"/><circle cx="268.9" cy="226" r="0.6" fill="#545454"/><circle cx="260" cy="217.4" r="0.9" fill="#888888"/><circle cx="274.2" cy="210.9" r="0.4" fill="#565656"/><circle cx="269.7" cy="214.6" r="0.9" fill="#484848"/><circle cx="279.6" cy="220" r="0.6" fill="#9a9a9a"/><circle cx="255.6" cy="222.6" r="0.5" fill="#959595"/><circle cx="272.7" cy="232.8" r="0.4" fill="#373737"/><circle cx="265.9" cy="228.7" r="0.6" fill="#272727"/><circle cx="278.7" cy="226.5" r="0.5" fill="#5a5a5a"/><circle cx="257.4" cy="222.6" r="0.4" fill="#9f9f9f"/><circle cx="275.3" cy="223.7" r="0.7" fill="#6b6b6b"/><circle cx="267.1" cy="238" r="0.5" fill="#5e5e5e"/><circle cx="263.5" cy="226.3" r="0.5" fill="#6c6c6c"/><circle cx="268.3" cy="215.2" r="0.9" fill="#5d5d5d"/><circle cx="272.8" cy="217.2" r="0.8" fill="#6a6a6a"/><circle cx="271.4" cy="220.5" r="0.6" fill="#404040"/><circle cx="270.2" cy="209.3" r="0.5" fill="#6d6d6d"/><circle cx="269.1" cy="229.2" r="0.5" fill="#111111"/><circle cx="263.4" cy="236.1" r="0.9" fill="#878787"/><circle cx="267.7" cy="215.2" r="0.6" fill="#666666"/><circle cx="267.3" cy="227.7" r="0.5" fill="#5b5b5b"/><circle cx="278.6" cy="229.1" r="0.5" fill="#939393"/><circle cx="279" cy="228.2" r="0.8" fill="#727272"/><circle cx="277.1" cy="238.1" r="0.4" fill="#a5a5a5"/><circle cx="273.7" cy="210.3" r="0.8" fill="#686868"/><circle cx="258.7" cy="216.7" r="0.7" fill="#6a6a6a"/><circle cx="272.9" cy="217.5" r="0.7" fill="#3e3e3e"/><circle cx="282.2" cy="231.1" r="0.6" fill="#696969"/><circle cx="281.6" cy="223.9" r="0.5" fill="#7b7b7b"/><circle cx="253.7" cy="226.6" r="0.5" fill="#5e5e5e"/><circle cx="279.5" cy="220.6" r="0.7" fill="#8b8b8b"/><circle cx="267.1" cy="217.8" r="0.8" fill="#575757"/><circle cx="272.7" cy="233.2" r="0.9" fill="#939393"/><circle cx="277" cy="218.2" r="0.7" fill="#6b6b6b"/><circle cx="265.8" cy="212.5" r="0.6" fill="#aaaaaa"/><circle cx="263.5" cy="225.2" r="0.8" fill="#0b0b0b"/><circle cx="264.8" cy="236.7" r="0.5" fill="#717171"/><circle cx="255.3" cy="229.9" r="0.7" fill="#8b8b8b"/><circle cx="275" cy="227.8" r="0.5" fill="#505050"/><circle cx="251.6" cy="229.5" r="0.4" fill="#989898"/><circle cx="275.3" cy="237.7" r="0.8" fill="#ababab"/><circle cx="263.4" cy="223.3" r="0.5" fill="#353535"/><circle cx="259.2" cy="209.9" r="0.8" fill="#474747"/><circle cx="276.6" cy="235.4" r="0.5" fill="#808080"/><circle cx="254.3" cy="224.5" r="0.6" fill="#a3a3a3"/><circle cx="264.2" cy="235.3" r="0.5" fill="#5d5d5d"/><circle cx="276.3" cy="235.5" r="0.4" fill="#5b5b5b"/><circle cx="272.7" cy="210.1" r="0.6" fill="#909090"/><circle cx="272.1" cy="212.1" r="0.7" fill="#929292"/><circle cx="262.8" cy="234.3" r="0.5" fill="#535353"/><circle cx="254.4" cy="224.1" r="0.5" fill="#4a4a4a"/><circle cx="274.9" cy="226.4" r="0.5" fill="#6b6b6b"/><circle cx="271.8" cy="213.4" r="0.7" fill="#6e6e6e"/><circle cx="280.3" cy="232" r="0.8" fill="#505050"/><circle cx="261.7" cy="238.6" r="0.8" fill="#525252"/><circle cx="258.9" cy="232.3" r="0.7" fill="#999999"/><circle cx="273.4" cy="233.7" r="0.9" fill="#535353"/><circle cx="273.8" cy="239.1" r="0.7" fill="#747474"/><circle cx="262.8" cy="226.3" r="0.7" fill="#242424"/><circle cx="251.5" cy="231.3" r="0.6" fill="#6b6b6b"/><circle cx="261.5" cy="232.6" r="0.7" fill="#818181"/><circle cx="267.9" cy="226" r="0.6" fill="#000000"/><circle cx="261.4" cy="221.1" r="0.7" fill="#525252"/><circle cx="276.6" cy="223.5" r="0.5" fill="#5d5d5d"/><circle cx="262.4" cy="218" r="0.5" fill="#7a7a7a"/><circle cx="262.5" cy="224.3" r="0.8" fill="#181818"/><circle cx="263.3" cy="237.6" r="0.6" fill="#939393"/><circle cx="275.3" cy="236.5" r="0.5" fill="#4d4d4d"/><circle cx="262.2" cy="210.6" r="0.5" fill="#444444"/><ellipse cx="273" cy="219" rx="9" ry="8" fill="#0c0c0c" filter="url(#bl15)"/><ellipse cx="270" cy="232" rx="6" ry="5" fill="#1e1e1e" filter="url(#bl15)"/><ellipse transform="translate(267 225.2) rotate(0)" rx="17.8" ry="17.9" fill="none" stroke="#6e6e6e" stroke-width="0.1"/><circle cx="259" cy="225" r="1.5" fill="#e6e6e6"/><circle cx="262" cy="228" r="1.2" fill="#dcdcdc"/><circle cx="257" cy="229" r="1.2" fill="#c8c8c8"/><circle cx="264" cy="223" r="1" fill="#d2d2d2"/><circle cx="268" cy="225.5" r="1.4" fill="#fafafa"/><circle cx="261" cy="231" r="1" fill="#bebebe"/></g>
<path d="M218.7 225.5H311.5" stroke="#f4f4f4" stroke-width="1.6"/>
<path d="M295.2 247.6h6M298.2 244.6v6M196.3 154.6h6M199.3 151.6v6" stroke="#858585" stroke-width="0.7"/>
<text x="192" y="152.9" font-size="10.8" fill="#e6e6e6" class="w">24 h</text>
<rect x="189" y="265" width="124" height="113.3" fill="#080808"/>
<ellipse cx="243" cy="320" rx="30" ry="33" fill="#2a2a2a" filter="url(#bl3)"/><ellipse cx="243" cy="322" rx="22" ry="25" fill="#3c3c3c" filter="url(#bl3)"/><ellipse cx="243" cy="352" rx="11" ry="19" fill="#262626" filter="url(#bl2)"/><g filter="url(#bl07)"><path d="M234.6 338.9L221.5 350.2" stroke="#7a7a7a" stroke-width="1.4" stroke-linecap="round"/><circle cx="221.5" cy="350.2" r="0.8" fill="#b1b1b1"/><path d="M242 312.1L241 298.8" stroke="#676767" stroke-width="1.4" stroke-linecap="round"/><path d="M234.8 334.8L227.7 349.9" stroke="#414141" stroke-width="1.2" stroke-linecap="round"/><path d="M239.7 320.4L226.7 319.8" stroke="#828282" stroke-width="0.9" stroke-linecap="round"/><path d="M229.7 334.4L221.3 335.6" stroke="#5a5a5a" stroke-width="1.1" stroke-linecap="round"/><circle cx="221.3" cy="335.6" r="0.7" fill="#bababa"/><path d="M259.9 320.9L271.8 316.5" stroke="#626262" stroke-width="1.3" stroke-linecap="round"/><circle cx="271.8" cy="316.5" r="1" fill="#8f8f8f"/><path d="M243.3 325.2L246.5 333.4" stroke="#4b4b4b" stroke-width="1.1" stroke-linecap="round"/><path d="M232.2 317.4L222.4 318.2" stroke="#666666" stroke-width="1.3" stroke-linecap="round"/><circle cx="222.4" cy="318.2" r="0.8" fill="#9b9b9b"/><path d="M240.6 314.2L235.7 307.5" stroke="#7a7a7a" stroke-width="1.2" stroke-linecap="round"/><circle cx="235.7" cy="307.5" r="1" fill="#b2b2b2"/><path d="M243 321.1L241 331.2" stroke="#838383" stroke-width="1" stroke-linecap="round"/><circle cx="241" cy="331.2" r="0.5" fill="#d4d4d4"/><path d="M240.9 328.4L235.9 336.8" stroke="#8a8a8a" stroke-width="0.9" stroke-linecap="round"/><circle cx="235.9" cy="336.8" r="0.6" fill="#dfdfdf"/><path d="M244.9 319.6L254.7 310.1" stroke="#5d5d5d" stroke-width="1.2" stroke-linecap="round"/><circle cx="254.7" cy="310.1" r="0.8" fill="#989898"/><path d="M236.6 321.2L226.7 324.9" stroke="#555555" stroke-width="0.9" stroke-linecap="round"/><path d="M236.5 325.3L225.7 337.5" stroke="#636363" stroke-width="1.2" stroke-linecap="round"/><path d="M243.4 313.7L246.2 296.4" stroke="#3d3d3d" stroke-width="1.2" stroke-linecap="round"/><path d="M255 315.1L267.5 311.7" stroke="#737373" stroke-width="1.1" stroke-linecap="round"/><circle cx="267.5" cy="311.7" r="0.8" fill="#9c9c9c"/><path d="M235.4 320.4L225.2 319" stroke="#6e6e6e" stroke-width="1.1" stroke-linecap="round"/><path d="M244.6 341.1L242.8 355.7" stroke="#757575" stroke-width="0.8" stroke-linecap="round"/><circle cx="242.8" cy="355.7" r="0.7" fill="#b8b8b8"/><path d="M235.5 327.4L224.2 333.3" stroke="#717171" stroke-width="1.1" stroke-linecap="round"/><path d="M249.5 302.6L252.6 296.4" stroke="#454545" stroke-width="1.4" stroke-linecap="round"/><path d="M240.1 315.2L233 300.4" stroke="#727272" stroke-width="0.9" stroke-linecap="round"/><circle cx="233" cy="300.4" r="0.9" fill="#cdcdcd"/><path d="M241.9 322.2L234.1 327.4" stroke="#494949" stroke-width="1.3" stroke-linecap="round"/><circle cx="234.1" cy="327.4" r="1" fill="#868686"/><path d="M251.6 317.7L257.1 314.6" stroke="#5b5b5b" stroke-width="0.9" stroke-linecap="round"/><circle cx="257.1" cy="314.6" r="0.8" fill="#aeaeae"/><path d="M242.3 314.3L241.2 305.4" stroke="#747474" stroke-width="0.9" stroke-linecap="round"/><path d="M249 320L256.5 319.2" stroke="#444444" stroke-width="1.5" stroke-linecap="round"/><path d="M229.8 330.1L216.3 334.5" stroke="#3f3f3f" stroke-width="1.1" stroke-linecap="round"/><circle cx="216.3" cy="334.5" r="0.9" fill="#767676"/><path d="M249.2 326.9L255.3 334.6" stroke="#565656" stroke-width="0.9" stroke-linecap="round"/><path d="M254.4 315.2L262.5 304.6" stroke="#474747" stroke-width="1.3" stroke-linecap="round"/><path d="M225.7 324.1L219.3 328.3" stroke="#4f4f4f" stroke-width="1.3" stroke-linecap="round"/><circle cx="219.3" cy="328.3" r="0.8" fill="#7b7b7b"/><path d="M237 307.8L230.4 302" stroke="#595959" stroke-width="1.1" stroke-linecap="round"/><circle cx="230.4" cy="302" r="1" fill="#8a8a8a"/><path d="M236.7 313.3L226.8 304.9" stroke="#777777" stroke-width="1.4" stroke-linecap="round"/><circle cx="226.8" cy="304.9" r="0.7" fill="#9f9f9f"/><path d="M231.7 312.5L226.8 301.3" stroke="#787878" stroke-width="1.3" stroke-linecap="round"/><circle cx="226.8" cy="301.3" r="0.6" fill="#d1d1d1"/><path d="M238.9 321.7L232.9 321.4" stroke="#4d4d4d" stroke-width="0.9" stroke-linecap="round"/><path d="M240.6 309.4L242.7 302.1" stroke="#585858" stroke-width="1.2" stroke-linecap="round"/><circle cx="242.7" cy="302.1" r="0.7" fill="#878787"/><path d="M243.5 317.8L247.5 305" stroke="#8a8a8a" stroke-width="0.8" stroke-linecap="round"/><path d="M242.9 321.3L238.6 333.6" stroke="#5d5d5d" stroke-width="0.9" stroke-linecap="round"/><circle cx="238.6" cy="333.6" r="0.6" fill="#a3a3a3"/><path d="M259 324.6L269.5 334.3" stroke="#747474" stroke-width="1.4" stroke-linecap="round"/><path d="M244.2 305.8L249.1 294.6" stroke="#808080" stroke-width="1.3" stroke-linecap="round"/><path d="M244.3 317L246.9 299" stroke="#464646" stroke-width="1.3" stroke-linecap="round"/><path d="M242.5 317.6L240.3 307.1" stroke="#767676" stroke-width="0.9" stroke-linecap="round"/><path d="M243.1 321.6L242.4 339.2" stroke="#797979" stroke-width="1.4" stroke-linecap="round"/><path d="M251.9 313.3L261.9 308.6" stroke="#797979" stroke-width="1.3" stroke-linecap="round"/><circle cx="261.9" cy="308.6" r="0.8" fill="#ababab"/><path d="M232.7 328.6L221.3 336.8" stroke="#606060" stroke-width="1.4" stroke-linecap="round"/><path d="M240.8 320.3L228.4 313.2" stroke="#8a8a8a" stroke-width="1.4" stroke-linecap="round"/><circle cx="228.4" cy="313.2" r="0.7" fill="#c0c0c0"/><path d="M241 318.1L236.8 305.7" stroke="#737373" stroke-width="1" stroke-linecap="round"/><path d="M231.8 329.8L223 330.7" stroke="#5c5c5c" stroke-width="0.8" stroke-linecap="round"/><circle cx="223" cy="330.7" r="0.7" fill="#929292"/><path d="M240 317.7L233.5 307.5" stroke="#636363" stroke-width="1" stroke-linecap="round"/><path d="M234.3 313L225.7 306.2" stroke="#7f7f7f" stroke-width="1.1" stroke-linecap="round"/><circle cx="225.7" cy="306.2" r="1" fill="#d6d6d6"/><path d="M253.3 332.8L258.9 343.7" stroke="#636363" stroke-width="1" stroke-linecap="round"/><circle cx="258.9" cy="343.7" r="0.8" fill="#c3c3c3"/><path d="M244 324.4L249 339.6" stroke="#585858" stroke-width="1.2" stroke-linecap="round"/><circle cx="249" cy="339.6" r="0.5" fill="#a2a2a2"/><path d="M231 327.2L225.3 335.1" stroke="#6d6d6d" stroke-width="1.5" stroke-linecap="round"/><path d="M233.7 306.5L233.5 297.6" stroke="#868686" stroke-width="0.9" stroke-linecap="round"/><circle cx="233.5" cy="297.6" r="0.9" fill="#e5e5e5"/><path d="M237.2 317.4L226 305.3" stroke="#3f3f3f" stroke-width="0.9" stroke-linecap="round"/><path d="M238.3 340L230.7 349.8" stroke="#414141" stroke-width="0.8" stroke-linecap="round"/><circle cx="230.7" cy="349.8" r="0.9" fill="#939393"/><path d="M258.5 327.5L274.4 327" stroke="#707070" stroke-width="1.5" stroke-linecap="round"/><circle cx="274.4" cy="327" r="0.9" fill="#adadad"/><path d="M246.4 321.8L259 321.9" stroke="#767676" stroke-width="1" stroke-linecap="round"/><circle cx="259" cy="321.9" r="0.8" fill="#c5c5c5"/><path d="M234.9 339.5L232 354.3" stroke="#5a5a5a" stroke-width="1.3" stroke-linecap="round"/><circle cx="232" cy="354.3" r="1" fill="#a5a5a5"/><path d="M232 335.9L223.8 340.4" stroke="#6f6f6f" stroke-width="1.1" stroke-linecap="round"/><circle cx="223.8" cy="340.4" r="0.9" fill="#c6c6c6"/><path d="M230.2 313.6L219.6 303.3" stroke="#4b4b4b" stroke-width="0.8" stroke-linecap="round"/><path d="M250.8 309.5L252.8 298.1" stroke="#484848" stroke-width="1.2" stroke-linecap="round"/><circle cx="252.8" cy="298.1" r="1" fill="#7b7b7b"/><path d="M242.6 309.8L238.9 301.1" stroke="#6c6c6c" stroke-width="0.8" stroke-linecap="round"/><path d="M237.2 325.4L223.2 333.7" stroke="#7c7c7c" stroke-width="1.5" stroke-linecap="round"/><circle cx="223.2" cy="333.7" r="0.9" fill="#c4c4c4"/><path d="M230.1 320L218.5 315.8" stroke="#737373" stroke-width="0.9" stroke-linecap="round"/><path d="M237.7 322L225.9 323.6" stroke="#4d4d4d" stroke-width="1" stroke-linecap="round"/><path d="M247.5 310.5L251.9 295.9" stroke="#7b7b7b" stroke-width="1.5" stroke-linecap="round"/><path d="M233.1 329.5L220.7 332.1" stroke="#8a8a8a" stroke-width="0.8" stroke-linecap="round"/><circle cx="220.7" cy="332.1" r="0.6" fill="#cecece"/><path d="M244.2 320L252.1 311.8" stroke="#8a8a8a" stroke-width="1" stroke-linecap="round"/><path d="M245.1 317.5L254.5 308.5" stroke="#575757" stroke-width="1.2" stroke-linecap="round"/><path d="M241.3 325.5L233 340" stroke="#717171" stroke-width="1" stroke-linecap="round"/><circle cx="233" cy="340" r="0.7" fill="#ababab"/><path d="M236.5 338.4L225.8 347.2" stroke="#787878" stroke-width="1" stroke-linecap="round"/><circle cx="225.8" cy="347.2" r="0.8" fill="#b9b9b9"/><path d="M227 325.8L219.3 321.7" stroke="#575757" stroke-width="1" stroke-linecap="round"/><circle cx="219.3" cy="321.7" r="1" fill="#a1a1a1"/><path d="M255 321.6L261.5 318" stroke="#707070" stroke-width="1.2" stroke-linecap="round"/><path d="M258.5 331L262.3 340.5" stroke="#646464" stroke-width="1.5" stroke-linecap="round"/><path d="M251.9 325.8L265.6 334.5" stroke="#444444" stroke-width="1.5" stroke-linecap="round"/><path d="M248 303L256.1 290.5" stroke="#5f5f5f" stroke-width="1.1" stroke-linecap="round"/><path d="M244.3 341L251.4 352.7" stroke="#727272" stroke-width="1.1" stroke-linecap="round"/><circle cx="251.4" cy="352.7" r="0.6" fill="#9a9a9a"/><path d="M241.9 330.7L237.2 346.4" stroke="#8b8b8b" stroke-width="1.2" stroke-linecap="round"/><circle cx="237.2" cy="346.4" r="0.8" fill="#c9c9c9"/><path d="M258 330.4L264.9 336.5" stroke="#565656" stroke-width="0.8" stroke-linecap="round"/><circle cx="264.9" cy="336.5" r="0.6" fill="#9d9d9d"/><path d="M243.4 319.1L246 309" stroke="#838383" stroke-width="1.2" stroke-linecap="round"/><path d="M250.6 315.5L257.3 311.7" stroke="#848484" stroke-width="1.1" stroke-linecap="round"/><circle cx="257.3" cy="311.7" r="0.9" fill="#e6e6e6"/><path d="M242.8 322L239.6 333.4" stroke="#747474" stroke-width="1.2" stroke-linecap="round"/><circle cx="239.6" cy="333.4" r="1" fill="#a1a1a1"/><path d="M239.3 320.5L230.5 315.3" stroke="#636363" stroke-width="0.8" stroke-linecap="round"/><path d="M245.7 336.9L248.5 345.7" stroke="#737373" stroke-width="0.8" stroke-linecap="round"/><path d="M239.7 335.3L236 348.6" stroke="#606060" stroke-width="1.2" stroke-linecap="round"/><path d="M251.3 335.3L259.2 341.4" stroke="#646464" stroke-width="1.3" stroke-linecap="round"/><circle cx="259.2" cy="341.4" r="0.6" fill="#acacac"/><path d="M241.3 336.3L239.3 343.4" stroke="#878787" stroke-width="1.4" stroke-linecap="round"/><path d="M239.7 319.6L226.2 311.9" stroke="#383838" stroke-width="0.8" stroke-linecap="round"/><circle cx="226.2" cy="311.9" r="0.5" fill="#717171"/><path d="M243.1 321.9L242.5 332.6" stroke="#424242" stroke-width="1.5" stroke-linecap="round"/><path d="M239.3 317.3L233.7 311.9" stroke="#373737" stroke-width="1.4" stroke-linecap="round"/><circle cx="233.7" cy="311.9" r="0.6" fill="#868686"/><path d="M256.2 324.9L266 321.9" stroke="#3f3f3f" stroke-width="1.3" stroke-linecap="round"/><path d="M234.8 328.4L227.9 330.8" stroke="#585858" stroke-width="0.9" stroke-linecap="round"/><circle cx="227.9" cy="330.8" r="0.9" fill="#888888"/><path d="M235.1 316.4L223.6 303.1" stroke="#575757" stroke-width="1.3" stroke-linecap="round"/><path d="M239.7 316.6L235.7 308" stroke="#7d7d7d" stroke-width="0.8" stroke-linecap="round"/><path d="M233.7 317.1L221.8 313.5" stroke="#404040" stroke-width="1" stroke-linecap="round"/><circle cx="221.8" cy="313.5" r="0.5" fill="#898989"/><path d="M241.7 325L235.3 341.3" stroke="#535353" stroke-width="1.3" stroke-linecap="round"/><circle cx="235.3" cy="341.3" r="0.9" fill="#b1b1b1"/><path d="M241.2 315.4L237.3 299.2" stroke="#6a6a6a" stroke-width="1.5" stroke-linecap="round"/><path d="M232.1 324.6L225.8 331.4" stroke="#505050" stroke-width="1.2" stroke-linecap="round"/><circle cx="225.8" cy="331.4" r="0.6" fill="#898989"/><path d="M239.3 320.4L230.6 316.5" stroke="#444444" stroke-width="0.8" stroke-linecap="round"/><circle cx="230.6" cy="316.5" r="0.9" fill="#6d6d6d"/><path d="M256 314.8L266.6 309.8" stroke="#606060" stroke-width="0.8" stroke-linecap="round"/><path d="M249.6 319.7L258.3 321.5" stroke="#383838" stroke-width="1.5" stroke-linecap="round"/><circle cx="258.3" cy="321.5" r="0.7" fill="#797979"/><path d="M243 318.3L240.7 301.8" stroke="#838383" stroke-width="1.3" stroke-linecap="round"/><circle cx="240.7" cy="301.8" r="0.6" fill="#b5b5b5"/><path d="M245.2 321.5L256.8 320.6" stroke="#494949" stroke-width="1.4" stroke-linecap="round"/><path d="M245.4 312.5L245.2 299.8" stroke="#888888" stroke-width="0.9" stroke-linecap="round"/><path d="M253.9 322.9L259.3 327.8" stroke="#757575" stroke-width="1.3" stroke-linecap="round"/><path d="M241.6 320.1L235.8 317.6" stroke="#8b8b8b" stroke-width="1.2" stroke-linecap="round"/><circle cx="235.8" cy="317.6" r="0.9" fill="#cdcdcd"/><path d="M225.9 322.2L211.1 316.5" stroke="#484848" stroke-width="1.4" stroke-linecap="round"/><path d="M242.5 320.6L235.9 316.3" stroke="#666666" stroke-width="0.8" stroke-linecap="round"/><circle cx="235.9" cy="316.3" r="0.5" fill="#c2c2c2"/><path d="M247 328.2L252 343.2" stroke="#616161" stroke-width="1.5" stroke-linecap="round"/><path d="M236.1 330L226 336.3" stroke="#7a7a7a" stroke-width="0.8" stroke-linecap="round"/><path d="M236 327.9L228.8 336.3" stroke="#686868" stroke-width="1" stroke-linecap="round"/></g><g filter="url(#bl1)"><path d="M215.9 278.9Q222 287.2 225.7 296.8" stroke="#696969" stroke-width="1.6" stroke-linecap="round" fill="none"/><circle cx="217.2" cy="280.8" r="0.7" fill="#9c9c9c"/><circle cx="217.6" cy="281.2" r="0.5" fill="#808080"/><circle cx="223.8" cy="292.2" r="0.6" fill="#9f9f9f"/><circle cx="222.9" cy="290.5" r="0.6" fill="#939393"/><circle cx="220.9" cy="286.6" r="0.7" fill="#aeaeae"/><circle cx="217" cy="280.5" r="0.5" fill="#ababab"/><circle cx="215.9" cy="278.9" r="0.9" fill="#cdcdcd"/><path d="M224.1 278.9Q226.7 283.3 229 287.8" stroke="#696969" stroke-width="1.6" stroke-linecap="round" fill="none"/><circle cx="225.1" cy="280.6" r="0.6" fill="#888888"/><circle cx="228.8" cy="287.4" r="0.6" fill="#808080"/><circle cx="227" cy="284.1" r="0.7" fill="#acacac"/><circle cx="224.1" cy="278.9" r="0.9" fill="#cdcdcd"/><path d="M232.2 279.7Q233.4 284.8 235.5 289.5" stroke="#696969" stroke-width="1.6" stroke-linecap="round" fill="none"/><circle cx="233.2" cy="283.3" r="0.6" fill="#a5a5a5"/><circle cx="235.5" cy="289.4" r="0.5" fill="#9f9f9f"/><circle cx="235" cy="288.2" r="0.8" fill="#808080"/><circle cx="232.2" cy="279.7" r="0.9" fill="#cdcdcd"/><path d="M239.6 274Q238.2 281.7 238 289.5" stroke="#696969" stroke-width="1.6" stroke-linecap="round" fill="none"/><circle cx="238.2" cy="285.3" r="0.6" fill="#999999"/><circle cx="239" cy="277.4" r="0.5" fill="#878787"/><circle cx="238.8" cy="279.2" r="0.7" fill="#999999"/><circle cx="238.1" cy="286.9" r="0.9" fill="#adadad"/><circle cx="238" cy="289.4" r="0.8" fill="#858585"/><circle cx="239.6" cy="274" r="0.9" fill="#cdcdcd"/><path d="M246.9 280.5Q246.3 286.7 244.5 292.7" stroke="#696969" stroke-width="1.6" stroke-linecap="round" fill="none"/><circle cx="245.7" cy="288.2" r="0.7" fill="#9b9b9b"/><circle cx="246.8" cy="281.7" r="0.6" fill="#aaaaaa"/><circle cx="245.7" cy="287.9" r="0.8" fill="#787878"/><circle cx="246.2" cy="285.4" r="0.9" fill="#999999"/><circle cx="246.9" cy="280.5" r="0.9" fill="#cdcdcd"/><path d="M207.8 294.4Q214 300.2 221.6 304.2" stroke="#696969" stroke-width="1.6" stroke-linecap="round" fill="none"/><circle cx="210.3" cy="296.6" r="0.7" fill="#a3a3a3"/><circle cx="213.6" cy="299.2" r="0.8" fill="#949494"/><circle cx="209.3" cy="295.8" r="0.5" fill="#adadad"/><circle cx="209.3" cy="295.8" r="0.6" fill="#878787"/><circle cx="217.4" cy="301.8" r="0.8" fill="#8f8f8f"/><circle cx="207.8" cy="294.4" r="0.9" fill="#cdcdcd"/><path d="M210.2 299.3Q216.8 303.3 223.3 307.4" stroke="#696969" stroke-width="1.6" stroke-linecap="round" fill="none"/><circle cx="220.5" cy="305.7" r="0.6" fill="#898989"/><circle cx="218.2" cy="304.3" r="0.8" fill="#757575"/><circle cx="211.7" cy="300.2" r="0.6" fill="#9e9e9e"/><circle cx="219.3" cy="304.9" r="0.9" fill="#a1a1a1"/><circle cx="213.5" cy="301.4" r="0.8" fill="#aeaeae"/><circle cx="210.2" cy="299.3" r="0.9" fill="#cdcdcd"/><path d="M201.2 309Q210.7 311.1 220 314" stroke="#696969" stroke-width="1.6" stroke-linecap="round" fill="none"/><circle cx="201.4" cy="309" r="0.7" fill="#838383"/><circle cx="204.5" cy="309.8" r="0.5" fill="#7a7a7a"/><circle cx="217.5" cy="313.2" r="0.5" fill="#979797"/><circle cx="205.1" cy="309.9" r="0.6" fill="#a4a4a4"/><circle cx="206.9" cy="310.3" r="0.6" fill="#8e8e8e"/><circle cx="214.3" cy="312.3" r="0.7" fill="#a6a6a6"/><circle cx="201.2" cy="309" r="0.9" fill="#cdcdcd"/><path d="M200.4 317.2Q209.4 317.4 218.4 318" stroke="#696969" stroke-width="1.6" stroke-linecap="round" fill="none"/><circle cx="209.8" cy="317.5" r="0.8" fill="#8e8e8e"/><circle cx="213.3" cy="317.7" r="0.7" fill="#7b7b7b"/><circle cx="202.6" cy="317.2" r="0.8" fill="#9f9f9f"/><circle cx="217.4" cy="317.9" r="0.8" fill="#959595"/><circle cx="203.4" cy="317.3" r="0.8" fill="#7a7a7a"/><circle cx="208.1" cy="317.4" r="0.6" fill="#898989"/><circle cx="200.4" cy="317.2" r="0.9" fill="#cdcdcd"/><path d="M276 277.2Q268.8 287.4 260.5 296.8" stroke="#696969" stroke-width="1.6" stroke-linecap="round" fill="none"/><circle cx="269.7" cy="285.7" r="0.8" fill="#939393"/><circle cx="272.4" cy="282.1" r="0.8" fill="#9f9f9f"/><circle cx="263.3" cy="293.5" r="0.5" fill="#979797"/><circle cx="262.2" cy="294.8" r="0.6" fill="#7f7f7f"/><circle cx="263.5" cy="293.3" r="0.6" fill="#8b8b8b"/><circle cx="263.5" cy="293.4" r="0.7" fill="#7e7e7e"/><circle cx="272.9" cy="281.5" r="0.6" fill="#9c9c9c"/><circle cx="270.5" cy="284.6" r="0.8" fill="#767676"/><circle cx="276" cy="277.2" r="0.9" fill="#cdcdcd"/><path d="M271.9 279.7Q267.1 287.4 261.3 294.4" stroke="#696969" stroke-width="1.6" stroke-linecap="round" fill="none"/><circle cx="265.5" cy="289.1" r="0.7" fill="#909090"/><circle cx="262" cy="293.5" r="0.6" fill="#7d7d7d"/><circle cx="271.6" cy="280.2" r="0.7" fill="#848484"/><circle cx="267.1" cy="286.9" r="0.5" fill="#737373"/><circle cx="268.1" cy="285.5" r="0.8" fill="#858585"/><circle cx="262.3" cy="293.2" r="0.7" fill="#8b8b8b"/><circle cx="271.9" cy="279.7" r="0.9" fill="#cdcdcd"/><path d="M280.1 291.1Q272.6 297.1 266.2 304.2" stroke="#696969" stroke-width="1.6" stroke-linecap="round" fill="none"/><circle cx="276.7" cy="294" r="0.7" fill="#a5a5a5"/><circle cx="272.3" cy="297.9" r="0.6" fill="#787878"/><circle cx="271.9" cy="298.4" r="0.6" fill="#898989"/><circle cx="272.3" cy="297.9" r="0.9" fill="#9b9b9b"/><circle cx="272.6" cy="297.6" r="0.8" fill="#858585"/><circle cx="274.5" cy="295.9" r="0.8" fill="#949494"/><circle cx="280.1" cy="291.1" r="0.9" fill="#cdcdcd"/><path d="M306.2 300.6Q292.1 304.7 277.6 306.6" stroke="#696969" stroke-width="1.6" stroke-linecap="round" fill="none"/><circle cx="294.6" cy="303.6" r="0.8" fill="#818181"/><circle cx="286.1" cy="305.3" r="0.5" fill="#acacac"/><circle cx="286.7" cy="305.2" r="0.6" fill="#adadad"/><circle cx="283.5" cy="305.7" r="0.5" fill="#818181"/><circle cx="292.3" cy="304.1" r="0.9" fill="#7b7b7b"/><circle cx="304.9" cy="301" r="0.6" fill="#757575"/><circle cx="294.6" cy="303.6" r="0.7" fill="#8d8d8d"/><circle cx="302.2" cy="301.7" r="0.5" fill="#a3a3a3"/><circle cx="293.7" cy="303.8" r="0.7" fill="#8f8f8f"/><circle cx="306.2" cy="300.6" r="0.9" fill="#cdcdcd"/><path d="M307.8 315.6Q305 312.6 302 309.9" stroke="#696969" stroke-width="1.6" stroke-linecap="round" fill="none"/><circle cx="302.6" cy="310.4" r="0.8" fill="#9e9e9e"/><circle cx="305.9" cy="313.6" r="0.6" fill="#787878"/><circle cx="307.8" cy="315.6" r="0.9" fill="#cdcdcd"/><path d="M302 309.9Q294.9 307.1 287.4 305.8" stroke="#696969" stroke-width="1.6" stroke-linecap="round" fill="none"/><circle cx="301.2" cy="309.6" r="0.7" fill="#a9a9a9"/><circle cx="297.4" cy="308.3" r="0.7" fill="#8c8c8c"/><circle cx="288.2" cy="306" r="0.8" fill="#a5a5a5"/><circle cx="301.4" cy="309.7" r="0.8" fill="#8e8e8e"/><circle cx="296.2" cy="307.9" r="0.8" fill="#9f9f9f"/><circle cx="302" cy="309.9" r="0.9" fill="#cdcdcd"/><path d="M294 316.4Q291.5 312.4 288.2 309" stroke="#696969" stroke-width="1.6" stroke-linecap="round" fill="none"/><circle cx="289.9" cy="310.8" r="0.9" fill="#8c8c8c"/><circle cx="291" cy="312.1" r="0.8" fill="#8e8e8e"/><circle cx="293.3" cy="315.3" r="0.7" fill="#a7a7a7"/><circle cx="294" cy="316.4" r="0.9" fill="#cdcdcd"/><path d="M247.4 280.5Q247 289.1 248.3 297.6" stroke="#696969" stroke-width="1.6" stroke-linecap="round" fill="none"/><circle cx="247.3" cy="282.7" r="0.7" fill="#808080"/><circle cx="247.3" cy="286.4" r="0.9" fill="#8c8c8c"/><circle cx="247.3" cy="285.9" r="0.6" fill="#8d8d8d"/><circle cx="247.6" cy="292" r="0.6" fill="#7e7e7e"/><circle cx="247.3" cy="284.4" r="0.6" fill="#a9a9a9"/><circle cx="247.4" cy="280.5" r="0.9" fill="#cdcdcd"/><path d="M266.2 283.8Q262.8 291.3 258 298" stroke="#696969" stroke-width="1.6" stroke-linecap="round" fill="none"/><circle cx="260.3" cy="294.6" r="0.5" fill="#a2a2a2"/><circle cx="264.3" cy="287.7" r="0.8" fill="#8c8c8c"/><circle cx="265.7" cy="285" r="0.5" fill="#a2a2a2"/><circle cx="262.1" cy="291.7" r="0.7" fill="#888888"/><circle cx="260.8" cy="293.8" r="0.7" fill="#767676"/><circle cx="266.2" cy="283.8" r="0.9" fill="#cdcdcd"/><path d="M200.4 325.3Q208.5 326.8 216.7 327.8" stroke="#696969" stroke-width="1.6" stroke-linecap="round" fill="none"/><circle cx="205.5" cy="326.2" r="0.8" fill="#939393"/><circle cx="213" cy="327.3" r="0.5" fill="#9d9d9d"/><circle cx="210.3" cy="326.9" r="0.8" fill="#a8a8a8"/><circle cx="209.4" cy="326.8" r="0.7" fill="#a1a1a1"/><circle cx="204.7" cy="326" r="0.7" fill="#a2a2a2"/><circle cx="200.4" cy="325.3" r="0.9" fill="#cdcdcd"/><path d="M201.2 334.3Q207.4 333.7 213.5 332.7" stroke="#696969" stroke-width="1.6" stroke-linecap="round" fill="none"/><circle cx="207.9" cy="333.5" r="0.8" fill="#adadad"/><circle cx="204.4" cy="333.9" r="0.5" fill="#979797"/><circle cx="203" cy="334.1" r="0.9" fill="#8f8f8f"/><circle cx="207.8" cy="333.5" r="0.8" fill="#a7a7a7"/><circle cx="201.2" cy="334.3" r="0.9" fill="#cdcdcd"/><path d="M195.5 346.5Q202.7 344.2 210.2 343.3" stroke="#696969" stroke-width="1.6" stroke-linecap="round" fill="none"/><circle cx="202.1" cy="344.7" r="0.6" fill="#8e8e8e"/><circle cx="197.4" cy="345.9" r="0.9" fill="#888888"/><circle cx="201.1" cy="344.9" r="0.9" fill="#a4a4a4"/><circle cx="200.4" cy="345.1" r="0.7" fill="#9a9a9a"/><circle cx="198.2" cy="345.7" r="0.6" fill="#a6a6a6"/><circle cx="195.5" cy="346.5" r="0.9" fill="#cdcdcd"/><path d="M207 348.2Q211.7 345.7 216.7 344.1" stroke="#696969" stroke-width="1.6" stroke-linecap="round" fill="none"/><circle cx="213.8" cy="345.1" r="0.8" fill="#969696"/><circle cx="210.3" cy="346.6" r="0.8" fill="#a2a2a2"/><circle cx="207.7" cy="347.8" r="0.9" fill="#999999"/><circle cx="207" cy="348.2" r="0.9" fill="#cdcdcd"/><path d="M213.5 357.2Q217.4 354.5 221.6 352.3" stroke="#696969" stroke-width="1.6" stroke-linecap="round" fill="none"/><circle cx="214.8" cy="356.3" r="0.5" fill="#a3a3a3"/><circle cx="220.3" cy="353" r="0.6" fill="#7d7d7d"/><circle cx="214.1" cy="356.8" r="0.7" fill="#848484"/><circle cx="213.5" cy="357.2" r="0.9" fill="#cdcdcd"/><path d="M288.2 349Q275.6 344 264.6 336" stroke="#696969" stroke-width="1.6" stroke-linecap="round" fill="none"/><circle cx="280.8" cy="345.7" r="0.8" fill="#767676"/><circle cx="278.3" cy="344.5" r="0.7" fill="#7c7c7c"/><circle cx="287.3" cy="348.6" r="0.5" fill="#7b7b7b"/><circle cx="265.2" cy="336.4" r="0.8" fill="#9d9d9d"/><circle cx="266.8" cy="337.6" r="0.6" fill="#818181"/><circle cx="267.5" cy="338" r="0.7" fill="#aaaaaa"/><circle cx="279.4" cy="345" r="0.7" fill="#9e9e9e"/><circle cx="267.2" cy="337.8" r="0.6" fill="#828282"/><circle cx="288.2" cy="349" r="0.9" fill="#cdcdcd"/><path d="M275.2 351.4Q267.5 347 261.3 340.8" stroke="#696969" stroke-width="1.6" stroke-linecap="round" fill="none"/><circle cx="267.1" cy="345.9" r="0.9" fill="#959595"/><circle cx="273" cy="350.1" r="0.8" fill="#999999"/><circle cx="273.6" cy="350.5" r="0.9" fill="#9a9a9a"/><circle cx="268" cy="346.7" r="0.6" fill="#7c7c7c"/><circle cx="268.3" cy="346.9" r="0.6" fill="#808080"/><circle cx="275.2" cy="351.4" r="0.9" fill="#cdcdcd"/><path d="M279.3 328.6Q272.8 327.1 266.2 326.2" stroke="#696969" stroke-width="1.6" stroke-linecap="round" fill="none"/><circle cx="270.7" cy="326.9" r="0.9" fill="#adadad"/><circle cx="273.2" cy="327.3" r="0.8" fill="#898989"/><circle cx="273.6" cy="327.4" r="0.7" fill="#adadad"/><circle cx="278.8" cy="328.5" r="0.7" fill="#878787"/><circle cx="279.3" cy="328.6" r="0.9" fill="#cdcdcd"/><path d="M264.6 357.2Q261.1 349.5 256.4 342.5" stroke="#696969" stroke-width="1.6" stroke-linecap="round" fill="none"/><circle cx="256.9" cy="343.2" r="0.7" fill="#777777"/><circle cx="260" cy="348.3" r="0.7" fill="#9b9b9b"/><circle cx="258.4" cy="345.7" r="0.7" fill="#939393"/><circle cx="258.5" cy="345.8" r="0.5" fill="#818181"/><circle cx="259.2" cy="346.9" r="0.9" fill="#ababab"/><circle cx="264.6" cy="357.2" r="0.9" fill="#cdcdcd"/><path d="M259.7 362Q256 354 253.2 345.7" stroke="#696969" stroke-width="1.6" stroke-linecap="round" fill="none"/><circle cx="253.4" cy="346.2" r="0.6" fill="#8e8e8e"/><circle cx="258.5" cy="359.5" r="0.7" fill="#8a8a8a"/><circle cx="255" cy="350.9" r="0.9" fill="#7a7a7a"/><circle cx="255.2" cy="351.4" r="0.7" fill="#838383"/><circle cx="259.4" cy="361.4" r="0.9" fill="#9c9c9c"/><circle cx="259.7" cy="362" r="0.9" fill="#cdcdcd"/><path d="M276 323.7Q271 322.7 266 322" stroke="#696969" stroke-width="1.6" stroke-linecap="round" fill="none"/><circle cx="275" cy="323.5" r="0.9" fill="#8a8a8a"/><circle cx="271.4" cy="322.8" r="0.7" fill="#8d8d8d"/><circle cx="266.5" cy="322.1" r="0.7" fill="#9b9b9b"/><circle cx="276" cy="323.7" r="0.9" fill="#cdcdcd"/></g><g filter="url(#bl05)"><circle cx="252" cy="326.6" r="0.7" fill="#8e8e8e"/><circle cx="224.3" cy="321.5" r="0.6" fill="#6e6e6e"/><circle cx="251.8" cy="305.3" r="1.1" fill="#8c8c8c"/><circle cx="242.6" cy="321.5" r="1" fill="#505050"/><circle cx="261.8" cy="322.3" r="1" fill="#888888"/><circle cx="252.5" cy="317.6" r="0.5" fill="#4f4f4f"/><circle cx="250.3" cy="319.8" r="0.6" fill="#474747"/><circle cx="247.1" cy="322.6" r="0.7" fill="#535353"/><circle cx="235.2" cy="344.3" r="0.6" fill="#878787"/><circle cx="241.8" cy="301.4" r="0.8" fill="#838383"/><circle cx="234" cy="314.5" r="0.7" fill="#595959"/><circle cx="225.3" cy="336.1" r="0.8" fill="#4b4b4b"/><circle cx="223.4" cy="324.4" r="0.8" fill="#7e7e7e"/><circle cx="247.6" cy="324.5" r="0.9" fill="#494949"/><circle cx="238.6" cy="336.3" r="0.6" fill="#484848"/><circle cx="264.4" cy="322.1" r="0.9" fill="#929292"/><circle cx="221.5" cy="322.3" r="1" fill="#777777"/><circle cx="227.5" cy="318.1" r="0.6" fill="#646464"/><circle cx="241.4" cy="309.7" r="1" fill="#6e6e6e"/><circle cx="227.2" cy="306.7" r="0.9" fill="#515151"/><circle cx="243" cy="321.8" r="0.5" fill="#929292"/><circle cx="224.9" cy="306.9" r="1" fill="#5f5f5f"/><circle cx="263.7" cy="315.9" r="0.8" fill="#4c4c4c"/><circle cx="239.3" cy="330.6" r="0.7" fill="#4c4c4c"/><circle cx="238" cy="296" r="0.6" fill="#848484"/><circle cx="229.8" cy="311.9" r="1" fill="#646464"/><circle cx="244.8" cy="316.6" r="1.1" fill="#545454"/><circle cx="263.6" cy="321.6" r="0.9" fill="#7b7b7b"/><circle cx="244.4" cy="305.1" r="0.6" fill="#5f5f5f"/><circle cx="263.9" cy="313.6" r="0.6" fill="#696969"/><circle cx="223.1" cy="328.5" r="0.5" fill="#888888"/><circle cx="242.6" cy="340.3" r="0.6" fill="#4c4c4c"/><circle cx="254.6" cy="308.6" r="1.1" fill="#8b8b8b"/><circle cx="243.1" cy="313.9" r="0.9" fill="#959595"/><circle cx="237.4" cy="320.9" r="0.6" fill="#959595"/><circle cx="253.8" cy="319.1" r="0.7" fill="#7f7f7f"/><circle cx="233.5" cy="320.5" r="1.1" fill="#777777"/><circle cx="240.8" cy="323.9" r="0.8" fill="#828282"/><circle cx="245.8" cy="327.9" r="0.9" fill="#8f8f8f"/><circle cx="232.2" cy="333.5" r="0.9" fill="#6f6f6f"/><circle cx="251" cy="330.8" r="0.6" fill="#555555"/><circle cx="254.7" cy="329.6" r="0.6" fill="#898989"/><circle cx="233.6" cy="343.9" r="1" fill="#5b5b5b"/><circle cx="252.4" cy="337.2" r="0.8" fill="#707070"/><circle cx="254.5" cy="334.2" r="1" fill="#696969"/><circle cx="242.3" cy="346" r="0.7" fill="#959595"/><circle cx="242.6" cy="319.8" r="0.8" fill="#515151"/><circle cx="246.2" cy="304.6" r="0.6" fill="#929292"/><circle cx="248.2" cy="301.7" r="0.8" fill="#4b4b4b"/><circle cx="255" cy="319.4" r="0.8" fill="#6d6d6d"/><circle cx="240.1" cy="321.6" r="1" fill="#6d6d6d"/><circle cx="227" cy="336" r="1" fill="#7f7f7f"/><circle cx="253.9" cy="312.6" r="0.6" fill="#616161"/><circle cx="227.3" cy="307.3" r="0.9" fill="#787878"/><circle cx="228.5" cy="308.4" r="0.8" fill="#474747"/><circle cx="231.9" cy="317.1" r="0.5" fill="#767676"/><circle cx="249.3" cy="309.4" r="0.9" fill="#787878"/><circle cx="234.4" cy="298.9" r="0.9" fill="#4c4c4c"/><circle cx="233.4" cy="310.7" r="0.8" fill="#7b7b7b"/><circle cx="251" cy="339.3" r="1.1" fill="#4c4c4c"/><circle cx="254" cy="303.4" r="0.7" fill="#838383"/><circle cx="250.7" cy="326" r="1.1" fill="#777777"/><circle cx="246.9" cy="329.1" r="0.8" fill="#717171"/><circle cx="252.5" cy="320.3" r="0.9" fill="#696969"/><circle cx="223" cy="312.1" r="0.6" fill="#888888"/><circle cx="241.7" cy="307.6" r="0.6" fill="#818181"/><circle cx="250.8" cy="308.8" r="0.6" fill="#727272"/><circle cx="236.7" cy="307.3" r="0.7" fill="#4e4e4e"/><circle cx="249.6" cy="330.5" r="1" fill="#4f4f4f"/><circle cx="247.8" cy="337.8" r="0.6" fill="#595959"/><circle cx="242.1" cy="308.5" r="0.8" fill="#4c4c4c"/><circle cx="224.7" cy="318.6" r="0.8" fill="#555555"/><circle cx="254.3" cy="323.6" r="0.7" fill="#4e4e4e"/><circle cx="229" cy="329.3" r="0.5" fill="#7b7b7b"/><circle cx="260.7" cy="315" r="0.8" fill="#888888"/><circle cx="263.2" cy="312.4" r="1.1" fill="#838383"/><circle cx="261" cy="313.1" r="0.7" fill="#505050"/><circle cx="224.6" cy="322.8" r="0.7" fill="#626262"/><circle cx="246.9" cy="323.6" r="0.7" fill="#898989"/><circle cx="250.9" cy="324.7" r="0.7" fill="#939393"/><circle cx="243.9" cy="326.3" r="0.5" fill="#616161"/><circle cx="261" cy="321.7" r="0.5" fill="#555555"/><circle cx="253.1" cy="327.3" r="0.6" fill="#535353"/><circle cx="246.7" cy="332.8" r="0.9" fill="#636363"/><circle cx="243.6" cy="323.8" r="1" fill="#8a8a8a"/><circle cx="260.6" cy="314" r="0.8" fill="#606060"/><circle cx="248" cy="337.2" r="0.8" fill="#919191"/><circle cx="248.7" cy="341.7" r="0.9" fill="#7a7a7a"/><circle cx="239.6" cy="317.5" r="0.6" fill="#6f6f6f"/><circle cx="225.8" cy="305.6" r="1" fill="#575757"/><circle cx="254.6" cy="339.3" r="0.5" fill="#8e8e8e"/><circle cx="257.6" cy="331.4" r="1" fill="#4c4c4c"/><circle cx="257" cy="333.3" r="0.9" fill="#464646"/><circle cx="223.8" cy="325.6" r="1" fill="#656565"/><circle cx="260.3" cy="322" r="0.8" fill="#676767"/><circle cx="229.2" cy="309.7" r="0.8" fill="#717171"/><circle cx="225.1" cy="312.4" r="1" fill="#474747"/><circle cx="245.3" cy="308.5" r="0.8" fill="#575757"/><circle cx="238" cy="336.3" r="0.8" fill="#4e4e4e"/><circle cx="238.9" cy="337.9" r="0.7" fill="#707070"/><circle cx="257.9" cy="329.2" r="1" fill="#818181"/><circle cx="224.5" cy="312.8" r="0.7" fill="#545454"/><circle cx="234.7" cy="312.7" r="0.7" fill="#838383"/><circle cx="233.8" cy="320.4" r="0.6" fill="#808080"/><circle cx="230.8" cy="301" r="0.9" fill="#5c5c5c"/><circle cx="236.9" cy="297.7" r="1" fill="#8f8f8f"/><circle cx="249.7" cy="331.3" r="0.6" fill="#878787"/><circle cx="237.3" cy="302.8" r="0.6" fill="#666666"/><circle cx="241.6" cy="316.7" r="1" fill="#7e7e7e"/><circle cx="259.9" cy="305.4" r="0.8" fill="#5e5e5e"/><circle cx="231.8" cy="333.5" r="0.9" fill="#5b5b5b"/><circle cx="239.2" cy="339.1" r="0.9" fill="#474747"/><circle cx="257.4" cy="308.8" r="0.8" fill="#727272"/><circle cx="249.3" cy="305.7" r="0.7" fill="#4d4d4d"/><circle cx="240.3" cy="326.5" r="0.7" fill="#797979"/><circle cx="229.8" cy="340.3" r="0.8" fill="#888888"/><circle cx="248.7" cy="345.8" r="1" fill="#8e8e8e"/><circle cx="248.4" cy="303.4" r="0.6" fill="#898989"/><circle cx="257.3" cy="316.3" r="1" fill="#787878"/><circle cx="245.7" cy="296.4" r="0.9" fill="#515151"/><circle cx="228" cy="328.3" r="0.6" fill="#7e7e7e"/><circle cx="240" cy="327.8" r="0.7" fill="#808080"/><circle cx="234.8" cy="309.9" r="0.8" fill="#7d7d7d"/><circle cx="247.2" cy="314.1" r="0.6" fill="#676767"/><circle cx="244.9" cy="331.8" r="0.7" fill="#515151"/><circle cx="257" cy="324.9" r="0.8" fill="#777777"/><circle cx="262.4" cy="310.4" r="0.8" fill="#5c5c5c"/><circle cx="232.2" cy="309.3" r="0.9" fill="#909090"/><circle cx="244.3" cy="295.2" r="1" fill="#838383"/><circle cx="261.9" cy="320.3" r="0.9" fill="#7b7b7b"/><circle cx="258.7" cy="317.3" r="0.7" fill="#777777"/><circle cx="250.1" cy="342.5" r="0.8" fill="#626262"/><circle cx="234.8" cy="301.4" r="0.9" fill="#5f5f5f"/><circle cx="240.6" cy="320.7" r="0.7" fill="#474747"/><circle cx="237.9" cy="316.9" r="0.6" fill="#848484"/><circle cx="240.2" cy="309.2" r="0.5" fill="#929292"/><circle cx="238.2" cy="323.6" r="0.8" fill="#878787"/><circle cx="233.2" cy="313.2" r="0.8" fill="#636363"/><circle cx="261.5" cy="313.2" r="0.6" fill="#767676"/><circle cx="246.5" cy="310" r="0.6" fill="#737373"/><circle cx="233.8" cy="308" r="0.8" fill="#757575"/><circle cx="240.8" cy="313.3" r="0.7" fill="#515151"/><circle cx="246.6" cy="345.5" r="0.9" fill="#888888"/><circle cx="234.6" cy="327.8" r="0.6" fill="#838383"/><circle cx="255.1" cy="304" r="0.6" fill="#838383"/><circle cx="252.4" cy="311.9" r="0.8" fill="#949494"/><circle cx="248.4" cy="341" r="1" fill="#737373"/><circle cx="256.4" cy="311.7" r="0.6" fill="#626262"/><circle cx="236.8" cy="338" r="0.7" fill="#888888"/><circle cx="229.1" cy="304.5" r="0.9" fill="#4b4b4b"/><circle cx="246.4" cy="329.3" r="0.9" fill="#626262"/><circle cx="252.3" cy="299" r="1" fill="#7a7a7a"/><circle cx="243.5" cy="328.4" r="0.8" fill="#858585"/><circle cx="247.5" cy="316.1" r="0.5" fill="#676767"/><circle cx="233.2" cy="311.9" r="0.9" fill="#828282"/><circle cx="253.3" cy="299.1" r="0.6" fill="#919191"/><circle cx="258.6" cy="329.5" r="1" fill="#4f4f4f"/><circle cx="241.2" cy="342.4" r="0.8" fill="#4e4e4e"/><circle cx="259.3" cy="327.3" r="0.6" fill="#525252"/><circle cx="241.7" cy="340" r="0.5" fill="#606060"/><circle cx="244.1" cy="317.9" r="0.8" fill="#b0b0b0"/><circle cx="246" cy="310.1" r="0.9" fill="#a7a7a7"/><circle cx="247" cy="312.5" r="0.7" fill="#f1f1f1"/><circle cx="244.8" cy="321.9" r="0.9" fill="#d2d2d2"/><circle cx="250.1" cy="333.5" r="0.6" fill="#9a9a9a"/><circle cx="244.6" cy="314.3" r="0.6" fill="#e6e6e6"/><circle cx="259.4" cy="318.1" r="0.7" fill="#a1a1a1"/><circle cx="262.2" cy="330.1" r="0.5" fill="#aaaaaa"/><circle cx="259.6" cy="314.6" r="0.5" fill="#b4b4b4"/><circle cx="252.3" cy="333.4" r="0.4" fill="#c7c7c7"/><circle cx="249.7" cy="334.6" r="0.5" fill="#a0a0a0"/><circle cx="262.1" cy="327.5" r="0.8" fill="#cbcbcb"/><circle cx="255" cy="328.9" r="0.5" fill="#b4b4b4"/><circle cx="257.4" cy="327.3" r="0.5" fill="#a8a8a8"/><circle cx="247.8" cy="314" r="0.6" fill="#b8b8b8"/><circle cx="242.5" cy="320.1" r="0.6" fill="#9c9c9c"/><circle cx="245.3" cy="325.3" r="0.8" fill="#a0a0a0"/><circle cx="252.9" cy="322.4" r="0.7" fill="#c0c0c0"/><circle cx="247.9" cy="339.6" r="0.8" fill="#a5a5a5"/><circle cx="243.4" cy="324.4" r="0.4" fill="#9e9e9e"/><circle cx="244.5" cy="314.8" r="0.6" fill="#bebebe"/><circle cx="246.4" cy="323.6" r="0.8" fill="#f1f1f1"/><circle cx="250.4" cy="324.3" r="0.6" fill="#e2e2e2"/><circle cx="250.4" cy="329.2" r="0.5" fill="#d9d9d9"/><circle cx="247.8" cy="317.3" r="0.7" fill="#dedede"/><circle cx="261.8" cy="320.5" r="0.6" fill="#e2e2e2"/><circle cx="261.1" cy="316.4" r="0.8" fill="#cdcdcd"/><circle cx="241.9" cy="322.8" r="0.7" fill="#dadada"/><circle cx="252.5" cy="329.4" r="0.5" fill="#cdcdcd"/><circle cx="247.6" cy="320.4" r="0.5" fill="#f0f0f0"/><circle cx="261.5" cy="331.5" r="0.8" fill="#cccccc"/><circle cx="261.1" cy="323.6" r="0.4" fill="#efefef"/><circle cx="243" cy="332.9" r="0.8" fill="#a3a3a3"/><circle cx="253.5" cy="324.6" r="0.8" fill="#e1e1e1"/><circle cx="252.5" cy="330" r="0.6" fill="#e1e1e1"/><circle cx="251.4" cy="307.3" r="0.9" fill="#dddddd"/><circle cx="252.7" cy="322" r="0.4" fill="#e7e7e7"/><circle cx="247.4" cy="317" r="0.5" fill="#b5b5b5"/><circle cx="247.9" cy="334.7" r="0.6" fill="#a9a9a9"/><circle cx="256.3" cy="328" r="0.5" fill="#9f9f9f"/><circle cx="248.6" cy="327.3" r="0.8" fill="#c9c9c9"/><circle cx="243.5" cy="327.6" r="0.5" fill="#989898"/><circle cx="257.6" cy="329" r="0.6" fill="#adadad"/><circle cx="248.5" cy="339.4" r="0.4" fill="#c0c0c0"/><circle cx="247.7" cy="330.4" r="0.8" fill="#ababab"/><circle cx="256.2" cy="325.9" r="0.9" fill="#b6b6b6"/><circle cx="260" cy="335.9" r="0.7" fill="#f0f0f0"/><circle cx="247.2" cy="338.1" r="0.4" fill="#acacac"/><circle cx="254.2" cy="311.6" r="0.8" fill="#bababa"/><circle cx="254.2" cy="320.5" r="0.7" fill="#a7a7a7"/><circle cx="224.4" cy="297.9" r="0.8" fill="#bbbbbb"/><circle cx="232.9" cy="307.7" r="0.7" fill="#b1b1b1"/><circle cx="236.4" cy="292.3" r="0.6" fill="#8e8e8e"/><circle cx="233.8" cy="294" r="0.9" fill="#8e8e8e"/><circle cx="237.4" cy="299.8" r="0.8" fill="#8f8f8f"/><circle cx="247.4" cy="301" r="0.4" fill="#838383"/><circle cx="233.5" cy="302.8" r="0.5" fill="#747474"/><circle cx="238.3" cy="298.1" r="0.5" fill="#747474"/><circle cx="244.7" cy="296.8" r="0.9" fill="#c5c5c5"/><circle cx="227.2" cy="300.1" r="0.6" fill="#858585"/><circle cx="224.6" cy="295.6" r="0.7" fill="#b2b2b2"/><circle cx="245.8" cy="295.3" r="0.8" fill="#9f9f9f"/><circle cx="243" cy="302.8" r="0.9" fill="#959595"/><circle cx="233" cy="296.3" r="0.7" fill="#818181"/><circle cx="238.8" cy="293" r="0.4" fill="#a9a9a9"/><circle cx="247.3" cy="304.4" r="0.5" fill="#797979"/><circle cx="244.6" cy="296.1" r="0.4" fill="#979797"/><circle cx="238.7" cy="297.1" r="0.9" fill="#888888"/><circle cx="227.8" cy="301.8" r="0.4" fill="#919191"/><circle cx="225.1" cy="299.1" r="0.7" fill="#7d7d7d"/><circle cx="230.1" cy="297.3" r="0.9" fill="#767676"/><circle cx="236.7" cy="297.7" r="0.7" fill="#8d8d8d"/><circle cx="224.8" cy="301.7" r="0.9" fill="#6e6e6e"/><circle cx="244.4" cy="295.7" r="0.5" fill="#acacac"/><circle cx="239.1" cy="295.5" r="0.9" fill="#7c7c7c"/><circle cx="229.4" cy="301.1" r="0.9" fill="#898989"/><circle cx="236.1" cy="308" r="0.6" fill="#979797"/><circle cx="234.2" cy="296.8" r="0.9" fill="#acacac"/><circle cx="223.5" cy="300.3" r="0.9" fill="#767676"/><circle cx="245.8" cy="298.6" r="0.9" fill="#aaaaaa"/><circle cx="237" cy="350.1" r="1.3" fill="#5d5d5d"/><circle cx="246.6" cy="346.3" r="1.4" fill="#414141"/><circle cx="242.1" cy="356" r="1" fill="#313131"/><circle cx="242.1" cy="362.8" r="1.2" fill="#555555"/><circle cx="244.7" cy="353.8" r="0.8" fill="#494949"/><circle cx="246.8" cy="341.4" r="1.3" fill="#4b4b4b"/><circle cx="240.2" cy="346.3" r="0.9" fill="#343434"/><circle cx="236.9" cy="349.6" r="1.1" fill="#3f3f3f"/><circle cx="239.5" cy="355.2" r="1.3" fill="#4a4a4a"/><circle cx="242.9" cy="339.4" r="0.8" fill="#2f2f2f"/><circle cx="241.4" cy="365.1" r="1.2" fill="#404040"/><circle cx="243.8" cy="343.9" r="1.3" fill="#2d2d2d"/><circle cx="242.5" cy="338.2" r="0.9" fill="#434343"/><circle cx="245.9" cy="357.4" r="0.8" fill="#393939"/><circle cx="247" cy="355.2" r="0.7" fill="#474747"/><circle cx="239.8" cy="355.7" r="1.4" fill="#3a3a3a"/><circle cx="235.6" cy="349.4" r="1.2" fill="#616161"/><circle cx="237.2" cy="343.7" r="0.7" fill="#545454"/><circle cx="240.7" cy="358.8" r="1.2" fill="#545454"/><circle cx="240.4" cy="359.1" r="0.8" fill="#606060"/><circle cx="239.9" cy="347.3" r="1" fill="#2b2b2b"/><circle cx="242.3" cy="361.8" r="1.4" fill="#5b5b5b"/><circle cx="236.3" cy="348.4" r="0.8" fill="#515151"/><circle cx="246.1" cy="351.9" r="1.3" fill="#636363"/><circle cx="238.1" cy="361.3" r="1.4" fill="#303030"/><circle cx="237" cy="354.4" r="1.2" fill="#373737"/><circle cx="243.1" cy="340.3" r="1.3" fill="#545454"/><circle cx="247" cy="343.7" r="1" fill="#434343"/><circle cx="238.5" cy="357.3" r="1" fill="#3f3f3f"/><circle cx="246.1" cy="359" r="1.4" fill="#3a3a3a"/><circle cx="250.3" cy="350.6" r="1" fill="#353535"/><circle cx="248.7" cy="342.6" r="0.8" fill="#505050"/><circle cx="243.1" cy="341" r="0.7" fill="#363636"/><circle cx="241.9" cy="341" r="1.1" fill="#383838"/><circle cx="248.1" cy="343.5" r="1" fill="#5b5b5b"/><circle cx="241.1" cy="361.7" r="1" fill="#626262"/><circle cx="247.3" cy="348.9" r="1.2" fill="#393939"/><circle cx="248.6" cy="343.1" r="1.1" fill="#2a2a2a"/><circle cx="241.9" cy="357.4" r="1" fill="#2a2a2a"/><circle cx="245.3" cy="353.7" r="1.3" fill="#4c4c4c"/><circle cx="248.2" cy="341.9" r="1.1" fill="#5a5a5a"/><circle cx="237.3" cy="356.4" r="0.7" fill="#424242"/><circle cx="247.5" cy="357.4" r="1.4" fill="#636363"/><circle cx="243" cy="349" r="1.4" fill="#474747"/><circle cx="240.7" cy="344" r="1.2" fill="#3a3a3a"/><circle cx="247.2" cy="358" r="0.7" fill="#353535"/><circle cx="245.2" cy="363.1" r="1.1" fill="#353535"/><circle cx="242.5" cy="349.8" r="1.4" fill="#363636"/><circle cx="238.1" cy="351.4" r="1.3" fill="#424242"/><circle cx="246.7" cy="363.3" r="1.1" fill="#373737"/></g>
<path d="M197.4 320.2H291.1" stroke="#f4f4f4" stroke-width="1.6"/>
<rect x="296.1" y="371.8" width="10.1" height="2.5" fill="#fff"/>
<text x="191.8" y="275.8" font-size="10.8" fill="#e6e6e6" class="w">48 h</text>
<rect x="352.5" y="19.5" width="164" height="90" fill="none" stroke="#7a7a7a" stroke-width="1"/>
<text x="348.1" y="112" font-size="6.9" text-anchor="end" fill="#222" class="k2">0</text>
<text x="348.1" y="89.5" font-size="6.9" text-anchor="end" fill="#222" class="k2">400</text>
<text x="348.1" y="67" font-size="6.9" text-anchor="end" fill="#222" class="k2">800</text>
<text x="348.1" y="44.5" font-size="6.9" text-anchor="end" fill="#222" class="k2">1200</text>
<text x="348.1" y="22" font-size="6.9" text-anchor="end" fill="#222" class="k2">1600</text>
<text x="352.8" y="121.6" font-size="6.9" text-anchor="middle" fill="#222" class="k2">0</text>
<text x="378.35" y="121.6" font-size="6.9" text-anchor="middle" fill="#222" class="k2">50</text>
<text x="403.9" y="121.6" font-size="6.9" text-anchor="middle" fill="#222" class="k2">100</text>
<text x="429.45" y="121.6" font-size="6.9" text-anchor="middle" fill="#222" class="k2">150</text>
<text x="455" y="121.6" font-size="6.9" text-anchor="middle" fill="#222" class="k2">200</text>
<text x="480.55" y="121.6" font-size="6.9" text-anchor="middle" fill="#222" class="k2">250</text>
<text x="506.1" y="121.6" font-size="6.9" text-anchor="middle" fill="#222" class="k2">300</text>
<text x="438.6" y="131.9" font-size="9.1" text-anchor="middle" fill="#111" class="k2">Position (pixel)</text>
<text transform="translate(328.6 64.1) rotate(-90)" x="0" y="0" font-size="9" text-anchor="middle" fill="#111" class="k2">Gray Level</text>
<text x="376.7" y="27.4" font-size="9.3" text-anchor="middle" fill="#111" class="k2">PM</text>
<text x="430.4" y="28" font-size="9.3" text-anchor="middle" fill="#111" class="k2">PM</text>
<polyline points="352.5,107.4 356,107 360,106.8 364,106.3 368,105.8 369.7,105.4 371.7,102.8 372.1,98.2 372.6,90.3 373.2,81.1 373.7,67 374,50.8 374.6,45.5 375,40.3 376.3,35.3 376.7,31.3 377.9,43.8 378.3,53 379,62.9 379.6,69.5 380.9,73.4 382.2,65.5 384,61 385.5,65.8 386.2,71.4 386.8,75.8 387.5,84.4 388.2,90.3 389.5,88.3 392.1,89.6 394.7,94.9 395,96.9 397.6,98.8 400.3,100.8 402.2,98.2 404.2,94.6 405.5,97.3 406.8,104.1 408.2,105.4 409.5,101.5 411.1,97.8 412.4,102.8 414.1,100.2 416.1,93.6 418,89.6 420,87.7 421.3,83.1 422,77.8 422.9,75.2 424.2,74.5 425.3,69.9 425.8,60.4 426.7,55.8 427.1,53.2 428,50.5 428.7,46.6 429.3,42.6 430.3,38.7 430.7,34.7 431.3,30.5 432,40.7 432.6,46.6 433.3,57.1 433.4,69.9 434.1,81.1 434.5,90.3 434.9,97.5 435.5,102.1 436.4,104.4 439.7,105.2 445,105.7 456,106 475,107.7 499,107 508.7,107.3" fill="none" stroke="#333" stroke-width="0.8"/>
<g fill="#000"><circle cx="352.5" cy="107.4" r="1.15"/><circle cx="353.08" cy="107.33" r="1.15"/><circle cx="353.67" cy="107.27" r="1.15"/><circle cx="354.25" cy="107.2" r="1.15"/><circle cx="354.83" cy="107.13" r="1.15"/><circle cx="355.42" cy="107.07" r="1.15"/><circle cx="356" cy="107" r="1.15"/><circle cx="356.57" cy="106.97" r="1.15"/><circle cx="357.14" cy="106.94" r="1.15"/><circle cx="357.71" cy="106.91" r="1.15"/><circle cx="358.29" cy="106.89" r="1.15"/><circle cx="358.86" cy="106.86" r="1.15"/><circle cx="359.43" cy="106.83" r="1.15"/><circle cx="360" cy="106.8" r="1.15"/><circle cx="360.57" cy="106.73" r="1.15"/><circle cx="361.14" cy="106.66" r="1.15"/><circle cx="361.71" cy="106.59" r="1.15"/><circle cx="362.29" cy="106.51" r="1.15"/><circle cx="362.86" cy="106.44" r="1.15"/><circle cx="363.43" cy="106.37" r="1.15"/><circle cx="364" cy="106.3" r="1.15"/><circle cx="364.57" cy="106.23" r="1.15"/><circle cx="365.14" cy="106.16" r="1.15"/><circle cx="365.71" cy="106.09" r="1.15"/><circle cx="366.29" cy="106.01" r="1.15"/><circle cx="366.86" cy="105.94" r="1.15"/><circle cx="367.43" cy="105.87" r="1.15"/><circle cx="368" cy="105.8" r="1.15"/><circle cx="368.57" cy="105.67" r="1.15"/><circle cx="369.13" cy="105.53" r="1.15"/><circle cx="369.7" cy="105.4" r="1.15"/><circle cx="370.37" cy="104.53" r="1.15"/><circle cx="371.03" cy="103.67" r="1.15"/><circle cx="371.7" cy="102.8" r="1.15"/><circle cx="372.1" cy="98.2" r="1.15"/><circle cx="372.6" cy="90.3" r="1.15"/><circle cx="373.2" cy="81.1" r="1.15"/><circle cx="373.7" cy="67" r="1.15"/><circle cx="374" cy="50.8" r="1.15"/><circle cx="374.6" cy="45.5" r="1.15"/><circle cx="375" cy="40.3" r="1.15"/><circle cx="375.65" cy="37.8" r="1.15"/><circle cx="376.3" cy="35.3" r="1.15"/><circle cx="376.7" cy="31.3" r="1.15"/><circle cx="377.3" cy="37.55" r="1.15"/><circle cx="377.9" cy="43.8" r="1.15"/><circle cx="378.3" cy="53" r="1.15"/><circle cx="379" cy="62.9" r="1.15"/><circle cx="379.6" cy="69.5" r="1.15"/><circle cx="380.25" cy="71.45" r="1.15"/><circle cx="380.9" cy="73.4" r="1.15"/><circle cx="381.55" cy="69.45" r="1.15"/><circle cx="382.2" cy="65.5" r="1.15"/><circle cx="382.8" cy="64" r="1.15"/><circle cx="383.4" cy="62.5" r="1.15"/><circle cx="384" cy="61" r="1.15"/><circle cx="384.75" cy="63.4" r="1.15"/><circle cx="385.5" cy="65.8" r="1.15"/><circle cx="386.2" cy="71.4" r="1.15"/><circle cx="386.8" cy="75.8" r="1.15"/><circle cx="387.5" cy="84.4" r="1.15"/><circle cx="388.2" cy="90.3" r="1.15"/><circle cx="388.85" cy="89.3" r="1.15"/><circle cx="389.5" cy="88.3" r="1.15"/><circle cx="390.15" cy="88.62" r="1.15"/><circle cx="390.8" cy="88.95" r="1.15"/><circle cx="391.45" cy="89.27" r="1.15"/><circle cx="392.1" cy="89.6" r="1.15"/><circle cx="392.75" cy="90.92" r="1.15"/><circle cx="393.4" cy="92.25" r="1.15"/><circle cx="394.05" cy="93.58" r="1.15"/><circle cx="394.7" cy="94.9" r="1.15"/><circle cx="395" cy="96.9" r="1.15"/><circle cx="395.65" cy="97.38" r="1.15"/><circle cx="396.3" cy="97.85" r="1.15"/><circle cx="396.95" cy="98.33" r="1.15"/><circle cx="397.6" cy="98.8" r="1.15"/><circle cx="398.28" cy="99.3" r="1.15"/><circle cx="398.95" cy="99.8" r="1.15"/><circle cx="399.62" cy="100.3" r="1.15"/><circle cx="400.3" cy="100.8" r="1.15"/><circle cx="400.93" cy="99.93" r="1.15"/><circle cx="401.57" cy="99.07" r="1.15"/><circle cx="402.2" cy="98.2" r="1.15"/><circle cx="402.87" cy="97" r="1.15"/><circle cx="403.53" cy="95.8" r="1.15"/><circle cx="404.2" cy="94.6" r="1.15"/><circle cx="404.85" cy="95.95" r="1.15"/><circle cx="405.5" cy="97.3" r="1.15"/><circle cx="406.15" cy="100.7" r="1.15"/><circle cx="406.8" cy="104.1" r="1.15"/><circle cx="407.5" cy="104.75" r="1.15"/><circle cx="408.2" cy="105.4" r="1.15"/><circle cx="408.85" cy="103.45" r="1.15"/><circle cx="409.5" cy="101.5" r="1.15"/><circle cx="410.3" cy="99.65" r="1.15"/><circle cx="411.1" cy="97.8" r="1.15"/><circle cx="411.75" cy="100.3" r="1.15"/><circle cx="412.4" cy="102.8" r="1.15"/><circle cx="412.97" cy="101.93" r="1.15"/><circle cx="413.53" cy="101.07" r="1.15"/><circle cx="414.1" cy="100.2" r="1.15"/><circle cx="414.77" cy="98" r="1.15"/><circle cx="415.43" cy="95.8" r="1.15"/><circle cx="416.1" cy="93.6" r="1.15"/><circle cx="416.73" cy="92.27" r="1.15"/><circle cx="417.37" cy="90.93" r="1.15"/><circle cx="418" cy="89.6" r="1.15"/><circle cx="418.67" cy="88.97" r="1.15"/><circle cx="419.33" cy="88.33" r="1.15"/><circle cx="420" cy="87.7" r="1.15"/><circle cx="420.65" cy="85.4" r="1.15"/><circle cx="421.3" cy="83.1" r="1.15"/><circle cx="422" cy="77.8" r="1.15"/><circle cx="422.9" cy="75.2" r="1.15"/><circle cx="423.55" cy="74.85" r="1.15"/><circle cx="424.2" cy="74.5" r="1.15"/><circle cx="424.75" cy="72.2" r="1.15"/><circle cx="425.3" cy="69.9" r="1.15"/><circle cx="425.8" cy="60.4" r="1.15"/><circle cx="426.7" cy="55.8" r="1.15"/><circle cx="427.1" cy="53.2" r="1.15"/><circle cx="428" cy="50.5" r="1.15"/><circle cx="428.7" cy="46.6" r="1.15"/><circle cx="429.3" cy="42.6" r="1.15"/><circle cx="430.3" cy="38.7" r="1.15"/><circle cx="430.7" cy="34.7" r="1.15"/><circle cx="431.3" cy="30.5" r="1.15"/><circle cx="432" cy="40.7" r="1.15"/><circle cx="432.6" cy="46.6" r="1.15"/><circle cx="433.3" cy="57.1" r="1.15"/><circle cx="433.4" cy="69.9" r="1.15"/><circle cx="434.1" cy="81.1" r="1.15"/><circle cx="434.5" cy="90.3" r="1.15"/><circle cx="434.9" cy="97.5" r="1.15"/><circle cx="435.5" cy="102.1" r="1.15"/><circle cx="436.4" cy="104.4" r="1.15"/><circle cx="436.95" cy="104.53" r="1.15"/><circle cx="437.5" cy="104.67" r="1.15"/><circle cx="438.05" cy="104.8" r="1.15"/><circle cx="438.6" cy="104.93" r="1.15"/><circle cx="439.15" cy="105.07" r="1.15"/><circle cx="439.7" cy="105.2" r="1.15"/><circle cx="440.29" cy="105.26" r="1.15"/><circle cx="440.88" cy="105.31" r="1.15"/><circle cx="441.47" cy="105.37" r="1.15"/><circle cx="442.06" cy="105.42" r="1.15"/><circle cx="442.64" cy="105.48" r="1.15"/><circle cx="443.23" cy="105.53" r="1.15"/><circle cx="443.82" cy="105.59" r="1.15"/><circle cx="444.41" cy="105.64" r="1.15"/><circle cx="445" cy="105.7" r="1.15"/><circle cx="445.55" cy="105.72" r="1.15"/><circle cx="446.1" cy="105.73" r="1.15"/><circle cx="446.65" cy="105.75" r="1.15"/><circle cx="447.2" cy="105.76" r="1.15"/><circle cx="447.75" cy="105.78" r="1.15"/><circle cx="448.3" cy="105.79" r="1.15"/><circle cx="448.85" cy="105.81" r="1.15"/><circle cx="449.4" cy="105.82" r="1.15"/><circle cx="449.95" cy="105.84" r="1.15"/><circle cx="450.5" cy="105.85" r="1.15"/><circle cx="451.05" cy="105.86" r="1.15"/><circle cx="451.6" cy="105.88" r="1.15"/><circle cx="452.15" cy="105.89" r="1.15"/><circle cx="452.7" cy="105.91" r="1.15"/><circle cx="453.25" cy="105.92" r="1.15"/><circle cx="453.8" cy="105.94" r="1.15"/><circle cx="454.35" cy="105.95" r="1.15"/><circle cx="454.9" cy="105.97" r="1.15"/><circle cx="455.45" cy="105.98" r="1.15"/><circle cx="456" cy="106" r="1.15"/><circle cx="456.56" cy="106.05" r="1.15"/><circle cx="457.12" cy="106.1" r="1.15"/><circle cx="457.68" cy="106.15" r="1.15"/><circle cx="458.24" cy="106.2" r="1.15"/><circle cx="458.79" cy="106.25" r="1.15"/><circle cx="459.35" cy="106.3" r="1.15"/><circle cx="459.91" cy="106.35" r="1.15"/><circle cx="460.47" cy="106.4" r="1.15"/><circle cx="461.03" cy="106.45" r="1.15"/><circle cx="461.59" cy="106.5" r="1.15"/><circle cx="462.15" cy="106.55" r="1.15"/><circle cx="462.71" cy="106.6" r="1.15"/><circle cx="463.26" cy="106.65" r="1.15"/><circle cx="463.82" cy="106.7" r="1.15"/><circle cx="464.38" cy="106.75" r="1.15"/><circle cx="464.94" cy="106.8" r="1.15"/><circle cx="465.5" cy="106.85" r="1.15"/><circle cx="466.06" cy="106.9" r="1.15"/><circle cx="466.62" cy="106.95" r="1.15"/><circle cx="467.18" cy="107" r="1.15"/><circle cx="467.74" cy="107.05" r="1.15"/><circle cx="468.29" cy="107.1" r="1.15"/><circle cx="468.85" cy="107.15" r="1.15"/><circle cx="469.41" cy="107.2" r="1.15"/><circle cx="469.97" cy="107.25" r="1.15"/><circle cx="470.53" cy="107.3" r="1.15"/><circle cx="471.09" cy="107.35" r="1.15"/><circle cx="471.65" cy="107.4" r="1.15"/><circle cx="472.21" cy="107.45" r="1.15"/><circle cx="472.76" cy="107.5" r="1.15"/><circle cx="473.32" cy="107.55" r="1.15"/><circle cx="473.88" cy="107.6" r="1.15"/><circle cx="474.44" cy="107.65" r="1.15"/><circle cx="475" cy="107.7" r="1.15"/><circle cx="475.56" cy="107.68" r="1.15"/><circle cx="476.12" cy="107.67" r="1.15"/><circle cx="476.67" cy="107.65" r="1.15"/><circle cx="477.23" cy="107.63" r="1.15"/><circle cx="477.79" cy="107.62" r="1.15"/><circle cx="478.35" cy="107.6" r="1.15"/><circle cx="478.91" cy="107.59" r="1.15"/><circle cx="479.47" cy="107.57" r="1.15"/><circle cx="480.02" cy="107.55" r="1.15"/><circle cx="480.58" cy="107.54" r="1.15"/><circle cx="481.14" cy="107.52" r="1.15"/><circle cx="481.7" cy="107.5" r="1.15"/><circle cx="482.26" cy="107.49" r="1.15"/><circle cx="482.81" cy="107.47" r="1.15"/><circle cx="483.37" cy="107.46" r="1.15"/><circle cx="483.93" cy="107.44" r="1.15"/><circle cx="484.49" cy="107.42" r="1.15"/><circle cx="485.05" cy="107.41" r="1.15"/><circle cx="485.6" cy="107.39" r="1.15"/><circle cx="486.16" cy="107.37" r="1.15"/><circle cx="486.72" cy="107.36" r="1.15"/><circle cx="487.28" cy="107.34" r="1.15"/><circle cx="487.84" cy="107.33" r="1.15"/><circle cx="488.4" cy="107.31" r="1.15"/><circle cx="488.95" cy="107.29" r="1.15"/><circle cx="489.51" cy="107.28" r="1.15"/><circle cx="490.07" cy="107.26" r="1.15"/><circle cx="490.63" cy="107.24" r="1.15"/><circle cx="491.19" cy="107.23" r="1.15"/><circle cx="491.74" cy="107.21" r="1.15"/><circle cx="492.3" cy="107.2" r="1.15"/><circle cx="492.86" cy="107.18" r="1.15"/><circle cx="493.42" cy="107.16" r="1.15"/><circle cx="493.98" cy="107.15" r="1.15"/><circle cx="494.53" cy="107.13" r="1.15"/><circle cx="495.09" cy="107.11" r="1.15"/><circle cx="495.65" cy="107.1" r="1.15"/><circle cx="496.21" cy="107.08" r="1.15"/><circle cx="496.77" cy="107.07" r="1.15"/><circle cx="497.33" cy="107.05" r="1.15"/><circle cx="497.88" cy="107.03" r="1.15"/><circle cx="498.44" cy="107.02" r="1.15"/><circle cx="499" cy="107" r="1.15"/><circle cx="499.57" cy="107.02" r="1.15"/><circle cx="500.14" cy="107.04" r="1.15"/><circle cx="500.71" cy="107.05" r="1.15"/><circle cx="501.28" cy="107.07" r="1.15"/><circle cx="501.85" cy="107.09" r="1.15"/><circle cx="502.42" cy="107.11" r="1.15"/><circle cx="502.99" cy="107.12" r="1.15"/><circle cx="503.56" cy="107.14" r="1.15"/><circle cx="504.14" cy="107.16" r="1.15"/><circle cx="504.71" cy="107.18" r="1.15"/><circle cx="505.28" cy="107.19" r="1.15"/><circle cx="505.85" cy="107.21" r="1.15"/><circle cx="506.42" cy="107.23" r="1.15"/><circle cx="506.99" cy="107.25" r="1.15"/><circle cx="507.56" cy="107.26" r="1.15"/><circle cx="508.13" cy="107.28" r="1.15"/><circle cx="508.7" cy="107.3" r="1.15"/></g>
<rect x="353.5" y="143.5" width="164" height="92" fill="none" stroke="#7a7a7a" stroke-width="1"/>
<text x="349.1" y="238" font-size="6.9" text-anchor="end" fill="#222" class="k2">0</text>
<text x="349.1" y="222.67" font-size="6.9" text-anchor="end" fill="#222" class="k2">1000</text>
<text x="349.1" y="207.33" font-size="6.9" text-anchor="end" fill="#222" class="k2">2000</text>
<text x="349.1" y="192" font-size="6.9" text-anchor="end" fill="#222" class="k2">3000</text>
<text x="349.1" y="176.67" font-size="6.9" text-anchor="end" fill="#222" class="k2">4000</text>
<text x="349.1" y="161.33" font-size="6.9" text-anchor="end" fill="#222" class="k2">5000</text>
<text x="349.1" y="146" font-size="6.9" text-anchor="end" fill="#222" class="k2">6000</text>
<text x="352.3" y="246.7" font-size="6.9" text-anchor="middle" fill="#222" class="k2">0</text>
<text x="378.97" y="246.7" font-size="6.9" text-anchor="middle" fill="#222" class="k2">50</text>
<text x="405.63" y="246.7" font-size="6.9" text-anchor="middle" fill="#222" class="k2">100</text>
<text x="432.3" y="246.7" font-size="6.9" text-anchor="middle" fill="#222" class="k2">150</text>
<text x="458.97" y="246.7" font-size="6.9" text-anchor="middle" fill="#222" class="k2">200</text>
<text x="485.63" y="246.7" font-size="6.9" text-anchor="middle" fill="#222" class="k2">250</text>
<text x="512.3" y="246.7" font-size="6.9" text-anchor="middle" fill="#222" class="k2">300</text>
<text x="441.2" y="256" font-size="9.1" text-anchor="middle" fill="#111" class="k2">Position (pixel)</text>
<text transform="translate(328.6 187.8) rotate(-90)" x="0" y="0" font-size="9" text-anchor="middle" fill="#111" class="k2">Gray Level</text>
<text x="407.7" y="151.6" font-size="9.3" text-anchor="middle" fill="#111" class="k2">PM</text>
<text x="459.1" y="152" font-size="9.3" text-anchor="middle" fill="#111" class="k2">PM</text>
<polyline points="353.7,233.4 360.5,233.9 371,233.9 377.4,233.2 381.6,232.2 386.8,231.3 394.2,231.8 396.3,230.3 397.9,225.5 398.6,220.9 398.9,211.7 399.5,196.6 399.9,173.3 400.3,159.5 400.8,152.2 401.6,155.5 402.5,154.2 403.2,155.5 401.8,160.8 402.5,162.1 402.1,169.3 404.2,173.3 405.1,187.1 405.5,177.2 406.4,170 407.4,162.1 408.4,159.5 409.3,157.5 410,162.1 410.4,173.3 410.8,184.5 411.3,199.9 411.7,209.7 412.4,217.6 413.4,221.6 414,223.6 415,220.3 415.7,209.7 416.3,204.5 417.4,205.8 417.9,211.1 419,213.7 420.3,208.4 421.3,213.7 421.8,218.3 422.6,214.3 423.2,207.1 423.9,199.9 424.5,196.6 425.5,195.3 426.8,193.9 427.5,190.4 428.2,187.1 429.2,180.5 430.1,184.5 431.1,188.4 432.1,191.1 432.4,191.3 433.2,197.9 433.7,204.5 434.2,213 434.7,219 436.3,221.6 437.6,220.3 437.9,217.6 438.7,211.1 439.6,205.8 439.6,200.5 440.3,205.8 440.5,211.1 440.9,217.6 441.6,224.9 442.9,228.2 444.9,230.1 446.8,228.2 448.2,227.5 449.5,229.5 451.1,232.8 453.4,230.8 456.1,228.8 458.7,226.2 460.7,223.6 462,218.9 462.6,213.7 463,207.1 463.7,192 464.2,176.2 465.3,170.3 465.9,157.8 466.8,155.1 467.9,152.5 469.5,149.9 469.9,145.9 470.3,142.6 470.8,150.5 471.6,161.7 472.1,178.2 472.6,183.4 473.2,187.4 473.4,201.2 473.8,214.3 474.1,221.6 474.5,227.5 475.8,230.1 478.4,231.4 483.7,232 499.5,233.6 509.8,234.3" fill="none" stroke="#333" stroke-width="0.8"/>
<g fill="#000"><circle cx="353.7" cy="233.4" r="1.15"/><circle cx="354.27" cy="233.44" r="1.15"/><circle cx="354.83" cy="233.48" r="1.15"/><circle cx="355.4" cy="233.53" r="1.15"/><circle cx="355.97" cy="233.57" r="1.15"/><circle cx="356.53" cy="233.61" r="1.15"/><circle cx="357.1" cy="233.65" r="1.15"/><circle cx="357.67" cy="233.69" r="1.15"/><circle cx="358.23" cy="233.73" r="1.15"/><circle cx="358.8" cy="233.78" r="1.15"/><circle cx="359.37" cy="233.82" r="1.15"/><circle cx="359.93" cy="233.86" r="1.15"/><circle cx="360.5" cy="233.9" r="1.15"/><circle cx="361.05" cy="233.9" r="1.15"/><circle cx="361.61" cy="233.9" r="1.15"/><circle cx="362.16" cy="233.9" r="1.15"/><circle cx="362.71" cy="233.9" r="1.15"/><circle cx="363.26" cy="233.9" r="1.15"/><circle cx="363.82" cy="233.9" r="1.15"/><circle cx="364.37" cy="233.9" r="1.15"/><circle cx="364.92" cy="233.9" r="1.15"/><circle cx="365.47" cy="233.9" r="1.15"/><circle cx="366.03" cy="233.9" r="1.15"/><circle cx="366.58" cy="233.9" r="1.15"/><circle cx="367.13" cy="233.9" r="1.15"/><circle cx="367.68" cy="233.9" r="1.15"/><circle cx="368.24" cy="233.9" r="1.15"/><circle cx="368.79" cy="233.9" r="1.15"/><circle cx="369.34" cy="233.9" r="1.15"/><circle cx="369.89" cy="233.9" r="1.15"/><circle cx="370.45" cy="233.9" r="1.15"/><circle cx="371" cy="233.9" r="1.15"/><circle cx="371.58" cy="233.84" r="1.15"/><circle cx="372.16" cy="233.77" r="1.15"/><circle cx="372.75" cy="233.71" r="1.15"/><circle cx="373.33" cy="233.65" r="1.15"/><circle cx="373.91" cy="233.58" r="1.15"/><circle cx="374.49" cy="233.52" r="1.15"/><circle cx="375.07" cy="233.45" r="1.15"/><circle cx="375.65" cy="233.39" r="1.15"/><circle cx="376.24" cy="233.33" r="1.15"/><circle cx="376.82" cy="233.26" r="1.15"/><circle cx="377.4" cy="233.2" r="1.15"/><circle cx="378" cy="233.06" r="1.15"/><circle cx="378.6" cy="232.91" r="1.15"/><circle cx="379.2" cy="232.77" r="1.15"/><circle cx="379.8" cy="232.63" r="1.15"/><circle cx="380.4" cy="232.49" r="1.15"/><circle cx="381" cy="232.34" r="1.15"/><circle cx="381.6" cy="232.2" r="1.15"/><circle cx="382.18" cy="232.1" r="1.15"/><circle cx="382.76" cy="232" r="1.15"/><circle cx="383.33" cy="231.9" r="1.15"/><circle cx="383.91" cy="231.8" r="1.15"/><circle cx="384.49" cy="231.7" r="1.15"/><circle cx="385.07" cy="231.6" r="1.15"/><circle cx="385.64" cy="231.5" r="1.15"/><circle cx="386.22" cy="231.4" r="1.15"/><circle cx="386.8" cy="231.3" r="1.15"/><circle cx="387.37" cy="231.34" r="1.15"/><circle cx="387.94" cy="231.38" r="1.15"/><circle cx="388.51" cy="231.42" r="1.15"/><circle cx="389.08" cy="231.45" r="1.15"/><circle cx="389.65" cy="231.49" r="1.15"/><circle cx="390.22" cy="231.53" r="1.15"/><circle cx="390.78" cy="231.57" r="1.15"/><circle cx="391.35" cy="231.61" r="1.15"/><circle cx="391.92" cy="231.65" r="1.15"/><circle cx="392.49" cy="231.68" r="1.15"/><circle cx="393.06" cy="231.72" r="1.15"/><circle cx="393.63" cy="231.76" r="1.15"/><circle cx="394.2" cy="231.8" r="1.15"/><circle cx="394.9" cy="231.3" r="1.15"/><circle cx="395.6" cy="230.8" r="1.15"/><circle cx="396.3" cy="230.3" r="1.15"/><circle cx="397.1" cy="227.9" r="1.15"/><circle cx="397.9" cy="225.5" r="1.15"/><circle cx="398.6" cy="220.9" r="1.15"/><circle cx="398.9" cy="211.7" r="1.15"/><circle cx="399.5" cy="196.6" r="1.15"/><circle cx="399.9" cy="173.3" r="1.15"/><circle cx="400.3" cy="159.5" r="1.15"/><circle cx="400.8" cy="152.2" r="1.15"/><circle cx="401.6" cy="155.5" r="1.15"/><circle cx="402.5" cy="154.2" r="1.15"/><circle cx="403.2" cy="155.5" r="1.15"/><circle cx="402.5" cy="158.15" r="1.15"/><circle cx="401.8" cy="160.8" r="1.15"/><circle cx="402.5" cy="162.1" r="1.15"/><circle cx="402.1" cy="169.3" r="1.15"/><circle cx="402.8" cy="170.63" r="1.15"/><circle cx="403.5" cy="171.97" r="1.15"/><circle cx="404.2" cy="173.3" r="1.15"/><circle cx="405.1" cy="187.1" r="1.15"/><circle cx="405.5" cy="177.2" r="1.15"/><circle cx="406.4" cy="170" r="1.15"/><circle cx="407.4" cy="162.1" r="1.15"/><circle cx="408.4" cy="159.5" r="1.15"/><circle cx="409.3" cy="157.5" r="1.15"/><circle cx="410" cy="162.1" r="1.15"/><circle cx="410.4" cy="173.3" r="1.15"/><circle cx="410.8" cy="184.5" r="1.15"/><circle cx="411.3" cy="199.9" r="1.15"/><circle cx="411.7" cy="209.7" r="1.15"/><circle cx="412.4" cy="217.6" r="1.15"/><circle cx="413.4" cy="221.6" r="1.15"/><circle cx="414" cy="223.6" r="1.15"/><circle cx="415" cy="220.3" r="1.15"/><circle cx="415.7" cy="209.7" r="1.15"/><circle cx="416.3" cy="204.5" r="1.15"/><circle cx="417.4" cy="205.8" r="1.15"/><circle cx="417.9" cy="211.1" r="1.15"/><circle cx="418.45" cy="212.4" r="1.15"/><circle cx="419" cy="213.7" r="1.15"/><circle cx="419.65" cy="211.05" r="1.15"/><circle cx="420.3" cy="208.4" r="1.15"/><circle cx="421.3" cy="213.7" r="1.15"/><circle cx="421.8" cy="218.3" r="1.15"/><circle cx="422.6" cy="214.3" r="1.15"/><circle cx="423.2" cy="207.1" r="1.15"/><circle cx="423.9" cy="199.9" r="1.15"/><circle cx="424.5" cy="196.6" r="1.15"/><circle cx="425.5" cy="195.3" r="1.15"/><circle cx="426.15" cy="194.6" r="1.15"/><circle cx="426.8" cy="193.9" r="1.15"/><circle cx="427.5" cy="190.4" r="1.15"/><circle cx="428.2" cy="187.1" r="1.15"/><circle cx="429.2" cy="180.5" r="1.15"/><circle cx="430.1" cy="184.5" r="1.15"/><circle cx="431.1" cy="188.4" r="1.15"/><circle cx="432.1" cy="191.1" r="1.15"/><circle cx="432.4" cy="191.3" r="1.15"/><circle cx="433.2" cy="197.9" r="1.15"/><circle cx="433.7" cy="204.5" r="1.15"/><circle cx="434.2" cy="213" r="1.15"/><circle cx="434.7" cy="219" r="1.15"/><circle cx="435.5" cy="220.3" r="1.15"/><circle cx="436.3" cy="221.6" r="1.15"/><circle cx="436.95" cy="220.95" r="1.15"/><circle cx="437.6" cy="220.3" r="1.15"/><circle cx="437.9" cy="217.6" r="1.15"/><circle cx="438.7" cy="211.1" r="1.15"/><circle cx="439.6" cy="205.8" r="1.15"/><circle cx="439.6" cy="200.5" r="1.15"/><circle cx="440.3" cy="205.8" r="1.15"/><circle cx="440.5" cy="211.1" r="1.15"/><circle cx="440.9" cy="217.6" r="1.15"/><circle cx="441.6" cy="224.9" r="1.15"/><circle cx="442.25" cy="226.55" r="1.15"/><circle cx="442.9" cy="228.2" r="1.15"/><circle cx="443.57" cy="228.83" r="1.15"/><circle cx="444.23" cy="229.47" r="1.15"/><circle cx="444.9" cy="230.1" r="1.15"/><circle cx="445.53" cy="229.47" r="1.15"/><circle cx="446.17" cy="228.83" r="1.15"/><circle cx="446.8" cy="228.2" r="1.15"/><circle cx="447.5" cy="227.85" r="1.15"/><circle cx="448.2" cy="227.5" r="1.15"/><circle cx="448.85" cy="228.5" r="1.15"/><circle cx="449.5" cy="229.5" r="1.15"/><circle cx="450.3" cy="231.15" r="1.15"/><circle cx="451.1" cy="232.8" r="1.15"/><circle cx="451.68" cy="232.3" r="1.15"/><circle cx="452.25" cy="231.8" r="1.15"/><circle cx="452.82" cy="231.3" r="1.15"/><circle cx="453.4" cy="230.8" r="1.15"/><circle cx="454.07" cy="230.3" r="1.15"/><circle cx="454.75" cy="229.8" r="1.15"/><circle cx="455.43" cy="229.3" r="1.15"/><circle cx="456.1" cy="228.8" r="1.15"/><circle cx="456.75" cy="228.15" r="1.15"/><circle cx="457.4" cy="227.5" r="1.15"/><circle cx="458.05" cy="226.85" r="1.15"/><circle cx="458.7" cy="226.2" r="1.15"/><circle cx="459.37" cy="225.33" r="1.15"/><circle cx="460.03" cy="224.47" r="1.15"/><circle cx="460.7" cy="223.6" r="1.15"/><circle cx="461.35" cy="221.25" r="1.15"/><circle cx="462" cy="218.9" r="1.15"/><circle cx="462.6" cy="213.7" r="1.15"/><circle cx="463" cy="207.1" r="1.15"/><circle cx="463.7" cy="192" r="1.15"/><circle cx="464.2" cy="176.2" r="1.15"/><circle cx="464.75" cy="173.25" r="1.15"/><circle cx="465.3" cy="170.3" r="1.15"/><circle cx="465.9" cy="157.8" r="1.15"/><circle cx="466.8" cy="155.1" r="1.15"/><circle cx="467.9" cy="152.5" r="1.15"/><circle cx="468.7" cy="151.2" r="1.15"/><circle cx="469.5" cy="149.9" r="1.15"/><circle cx="469.9" cy="145.9" r="1.15"/><circle cx="470.3" cy="142.6" r="1.15"/><circle cx="470.8" cy="150.5" r="1.15"/><circle cx="471.6" cy="161.7" r="1.15"/><circle cx="472.1" cy="178.2" r="1.15"/><circle cx="472.6" cy="183.4" r="1.15"/><circle cx="473.2" cy="187.4" r="1.15"/><circle cx="473.4" cy="201.2" r="1.15"/><circle cx="473.8" cy="214.3" r="1.15"/><circle cx="474.1" cy="221.6" r="1.15"/><circle cx="474.5" cy="227.5" r="1.15"/><circle cx="475.15" cy="228.8" r="1.15"/><circle cx="475.8" cy="230.1" r="1.15"/><circle cx="476.45" cy="230.43" r="1.15"/><circle cx="477.1" cy="230.75" r="1.15"/><circle cx="477.75" cy="231.07" r="1.15"/><circle cx="478.4" cy="231.4" r="1.15"/><circle cx="478.99" cy="231.47" r="1.15"/><circle cx="479.58" cy="231.53" r="1.15"/><circle cx="480.17" cy="231.6" r="1.15"/><circle cx="480.76" cy="231.67" r="1.15"/><circle cx="481.34" cy="231.73" r="1.15"/><circle cx="481.93" cy="231.8" r="1.15"/><circle cx="482.52" cy="231.87" r="1.15"/><circle cx="483.11" cy="231.93" r="1.15"/><circle cx="483.7" cy="232" r="1.15"/><circle cx="484.26" cy="232.06" r="1.15"/><circle cx="484.83" cy="232.11" r="1.15"/><circle cx="485.39" cy="232.17" r="1.15"/><circle cx="485.96" cy="232.23" r="1.15"/><circle cx="486.52" cy="232.29" r="1.15"/><circle cx="487.09" cy="232.34" r="1.15"/><circle cx="487.65" cy="232.4" r="1.15"/><circle cx="488.21" cy="232.46" r="1.15"/><circle cx="488.78" cy="232.51" r="1.15"/><circle cx="489.34" cy="232.57" r="1.15"/><circle cx="489.91" cy="232.63" r="1.15"/><circle cx="490.47" cy="232.69" r="1.15"/><circle cx="491.04" cy="232.74" r="1.15"/><circle cx="491.6" cy="232.8" r="1.15"/><circle cx="492.16" cy="232.86" r="1.15"/><circle cx="492.73" cy="232.91" r="1.15"/><circle cx="493.29" cy="232.97" r="1.15"/><circle cx="493.86" cy="233.03" r="1.15"/><circle cx="494.42" cy="233.09" r="1.15"/><circle cx="494.99" cy="233.14" r="1.15"/><circle cx="495.55" cy="233.2" r="1.15"/><circle cx="496.11" cy="233.26" r="1.15"/><circle cx="496.68" cy="233.31" r="1.15"/><circle cx="497.24" cy="233.37" r="1.15"/><circle cx="497.81" cy="233.43" r="1.15"/><circle cx="498.37" cy="233.49" r="1.15"/><circle cx="498.94" cy="233.54" r="1.15"/><circle cx="499.5" cy="233.6" r="1.15"/><circle cx="500.07" cy="233.64" r="1.15"/><circle cx="500.64" cy="233.68" r="1.15"/><circle cx="501.22" cy="233.72" r="1.15"/><circle cx="501.79" cy="233.76" r="1.15"/><circle cx="502.36" cy="233.79" r="1.15"/><circle cx="502.93" cy="233.83" r="1.15"/><circle cx="503.51" cy="233.87" r="1.15"/><circle cx="504.08" cy="233.91" r="1.15"/><circle cx="504.65" cy="233.95" r="1.15"/><circle cx="505.22" cy="233.99" r="1.15"/><circle cx="505.79" cy="234.03" r="1.15"/><circle cx="506.37" cy="234.07" r="1.15"/><circle cx="506.94" cy="234.11" r="1.15"/><circle cx="507.51" cy="234.14" r="1.15"/><circle cx="508.08" cy="234.18" r="1.15"/><circle cx="508.66" cy="234.22" r="1.15"/><circle cx="509.23" cy="234.26" r="1.15"/><circle cx="509.8" cy="234.3" r="1.15"/></g>
<rect x="353.5" y="266.5" width="163" height="88" fill="none" stroke="#7a7a7a" stroke-width="1"/>
<text x="349.1" y="357" font-size="6.9" text-anchor="end" fill="#222" class="k2">0</text>
<text x="349.1" y="335" font-size="6.9" text-anchor="end" fill="#222" class="k2">1000</text>
<text x="349.1" y="313" font-size="6.9" text-anchor="end" fill="#222" class="k2">2000</text>
<text x="349.1" y="291" font-size="6.9" text-anchor="end" fill="#222" class="k2">3000</text>
<text x="349.1" y="269" font-size="6.9" text-anchor="end" fill="#222" class="k2">4000</text>
<text x="352.8" y="366.2" font-size="6.9" text-anchor="middle" fill="#222" class="k2">0</text>
<text x="378.35" y="366.2" font-size="6.9" text-anchor="middle" fill="#222" class="k2">50</text>
<text x="403.9" y="366.2" font-size="6.9" text-anchor="middle" fill="#222" class="k2">100</text>
<text x="429.45" y="366.2" font-size="6.9" text-anchor="middle" fill="#222" class="k2">150</text>
<text x="455" y="366.2" font-size="6.9" text-anchor="middle" fill="#222" class="k2">200</text>
<text x="480.55" y="366.2" font-size="6.9" text-anchor="middle" fill="#222" class="k2">250</text>
<text x="506.1" y="366.2" font-size="6.9" text-anchor="middle" fill="#222" class="k2">300</text>
<text x="434.8" y="377.3" font-size="9.1" text-anchor="middle" fill="#111" class="k2">Position (pixel)</text>
<text transform="translate(328.6 309.7) rotate(-90)" x="0" y="0" font-size="9" text-anchor="middle" fill="#111" class="k2">Gray Level</text>
<text x="402.3" y="274.3" font-size="9.3" text-anchor="middle" fill="#111" class="k2">PM</text>
<text x="463.6" y="274.3" font-size="9.3" text-anchor="middle" fill="#111" class="k2">PM</text>
<polyline points="353.4,352.4 360,351.1 364,351.4 368.6,349.7 371.8,348.7 374.5,350 377.1,349.7 378.4,345.8 379.7,340.5 381.7,339 383.7,337.2 385.7,339 387,339.5 388.9,335.3 391.6,330.7 393.6,332.6 395.3,335.5 397.5,334.6 399.5,333.3 400.1,328.7 400.8,320.8 401.1,314.2 401.6,308.4 402.2,304.5 402.9,310.4 403.4,318.2 404.1,322.1 405.4,326.1 406,331.3 406.6,335 407.9,337 409.2,333.7 410.5,327.1 411.6,324.5 412.9,328.4 414.2,333 415.5,331 416.1,325.8 416.8,316.6 417.1,312.4 418,308.4 418.7,305.1 419,297.9 420,296.3 421.1,297.2 421.6,301.2 422,307.8 422.6,311 422.6,316.6 423.7,322.5 425,325.8 426.3,327.8 427.6,325.8 428.9,324.5 429.6,326.4 430.3,323.2 430.5,316.6 430.5,311.7 431.2,304.5 431.8,295.9 433.2,292.6 434.2,289.3 434.7,284.7 435.1,280.8 435.8,284.7 436.4,289.3 436.8,293.3 437.1,300.5 437.4,311 437.9,320.5 438.4,328.4 438.8,336.3 439.5,341.6 440.8,344.9 443.4,346.8 446.1,348.8 448.7,350.8 450.3,351.3 452.2,350.4 453.2,345.8 454.2,340.5 455.5,333.9 456.8,328.7 458.2,325.4 459.5,320.8 460.1,312.9 460.8,308.9 461.4,305 461.8,310.3 462.4,318.2 462.8,328.7 463.2,337.9 464.5,341.8 466.1,340.5 468,336.6 470,333.3 471.1,326.1 471.3,311.6 471.7,297.9 472,286.1 472.6,282.1 472.9,270.9 473.3,270.3 473.7,282.1 474.6,284.7 475,297.9 475.5,303.8 476.3,307.1 476.6,311.6 477.2,315.5 477.9,322.1 478.6,330.7 479,324.7 479.5,318.2 480.3,309 480.8,315.5 481.6,322.1 482.1,332.6 482.6,340.5 483.4,346 487.1,347.1 489,348.4 491.1,349.1 495.3,351.6 507.9,352.1" fill="none" stroke="#333" stroke-width="0.8"/>
<g fill="#000"><circle cx="353.4" cy="352.4" r="1.15"/><circle cx="353.95" cy="352.29" r="1.15"/><circle cx="354.5" cy="352.18" r="1.15"/><circle cx="355.05" cy="352.07" r="1.15"/><circle cx="355.6" cy="351.97" r="1.15"/><circle cx="356.15" cy="351.86" r="1.15"/><circle cx="356.7" cy="351.75" r="1.15"/><circle cx="357.25" cy="351.64" r="1.15"/><circle cx="357.8" cy="351.53" r="1.15"/><circle cx="358.35" cy="351.43" r="1.15"/><circle cx="358.9" cy="351.32" r="1.15"/><circle cx="359.45" cy="351.21" r="1.15"/><circle cx="360" cy="351.1" r="1.15"/><circle cx="360.57" cy="351.14" r="1.15"/><circle cx="361.14" cy="351.19" r="1.15"/><circle cx="361.71" cy="351.23" r="1.15"/><circle cx="362.29" cy="351.27" r="1.15"/><circle cx="362.86" cy="351.31" r="1.15"/><circle cx="363.43" cy="351.36" r="1.15"/><circle cx="364" cy="351.4" r="1.15"/><circle cx="364.57" cy="351.19" r="1.15"/><circle cx="365.15" cy="350.97" r="1.15"/><circle cx="365.73" cy="350.76" r="1.15"/><circle cx="366.3" cy="350.55" r="1.15"/><circle cx="366.88" cy="350.34" r="1.15"/><circle cx="367.45" cy="350.12" r="1.15"/><circle cx="368.03" cy="349.91" r="1.15"/><circle cx="368.6" cy="349.7" r="1.15"/><circle cx="369.24" cy="349.5" r="1.15"/><circle cx="369.88" cy="349.3" r="1.15"/><circle cx="370.52" cy="349.1" r="1.15"/><circle cx="371.16" cy="348.9" r="1.15"/><circle cx="371.8" cy="348.7" r="1.15"/><circle cx="372.48" cy="349.02" r="1.15"/><circle cx="373.15" cy="349.35" r="1.15"/><circle cx="373.82" cy="349.68" r="1.15"/><circle cx="374.5" cy="350" r="1.15"/><circle cx="375.15" cy="349.93" r="1.15"/><circle cx="375.8" cy="349.85" r="1.15"/><circle cx="376.45" cy="349.77" r="1.15"/><circle cx="377.1" cy="349.7" r="1.15"/><circle cx="377.75" cy="347.75" r="1.15"/><circle cx="378.4" cy="345.8" r="1.15"/><circle cx="379.05" cy="343.15" r="1.15"/><circle cx="379.7" cy="340.5" r="1.15"/><circle cx="380.37" cy="340" r="1.15"/><circle cx="381.03" cy="339.5" r="1.15"/><circle cx="381.7" cy="339" r="1.15"/><circle cx="382.37" cy="338.4" r="1.15"/><circle cx="383.03" cy="337.8" r="1.15"/><circle cx="383.7" cy="337.2" r="1.15"/><circle cx="384.37" cy="337.8" r="1.15"/><circle cx="385.03" cy="338.4" r="1.15"/><circle cx="385.7" cy="339" r="1.15"/><circle cx="386.35" cy="339.25" r="1.15"/><circle cx="387" cy="339.5" r="1.15"/><circle cx="387.63" cy="338.1" r="1.15"/><circle cx="388.27" cy="336.7" r="1.15"/><circle cx="388.9" cy="335.3" r="1.15"/><circle cx="389.57" cy="334.15" r="1.15"/><circle cx="390.25" cy="333" r="1.15"/><circle cx="390.93" cy="331.85" r="1.15"/><circle cx="391.6" cy="330.7" r="1.15"/><circle cx="392.27" cy="331.33" r="1.15"/><circle cx="392.93" cy="331.97" r="1.15"/><circle cx="393.6" cy="332.6" r="1.15"/><circle cx="394.17" cy="333.57" r="1.15"/><circle cx="394.73" cy="334.53" r="1.15"/><circle cx="395.3" cy="335.5" r="1.15"/><circle cx="396.03" cy="335.2" r="1.15"/><circle cx="396.77" cy="334.9" r="1.15"/><circle cx="397.5" cy="334.6" r="1.15"/><circle cx="398.17" cy="334.17" r="1.15"/><circle cx="398.83" cy="333.73" r="1.15"/><circle cx="399.5" cy="333.3" r="1.15"/><circle cx="400.1" cy="328.7" r="1.15"/><circle cx="400.8" cy="320.8" r="1.15"/><circle cx="401.1" cy="314.2" r="1.15"/><circle cx="401.6" cy="308.4" r="1.15"/><circle cx="402.2" cy="304.5" r="1.15"/><circle cx="402.9" cy="310.4" r="1.15"/><circle cx="403.4" cy="318.2" r="1.15"/><circle cx="404.1" cy="322.1" r="1.15"/><circle cx="404.75" cy="324.1" r="1.15"/><circle cx="405.4" cy="326.1" r="1.15"/><circle cx="406" cy="331.3" r="1.15"/><circle cx="406.6" cy="335" r="1.15"/><circle cx="407.25" cy="336" r="1.15"/><circle cx="407.9" cy="337" r="1.15"/><circle cx="408.55" cy="335.35" r="1.15"/><circle cx="409.2" cy="333.7" r="1.15"/><circle cx="409.85" cy="330.4" r="1.15"/><circle cx="410.5" cy="327.1" r="1.15"/><circle cx="411.05" cy="325.8" r="1.15"/><circle cx="411.6" cy="324.5" r="1.15"/><circle cx="412.25" cy="326.45" r="1.15"/><circle cx="412.9" cy="328.4" r="1.15"/><circle cx="413.55" cy="330.7" r="1.15"/><circle cx="414.2" cy="333" r="1.15"/><circle cx="414.85" cy="332" r="1.15"/><circle cx="415.5" cy="331" r="1.15"/><circle cx="416.1" cy="325.8" r="1.15"/><circle cx="416.8" cy="316.6" r="1.15"/><circle cx="417.1" cy="312.4" r="1.15"/><circle cx="418" cy="308.4" r="1.15"/><circle cx="418.7" cy="305.1" r="1.15"/><circle cx="419" cy="297.9" r="1.15"/><circle cx="420" cy="296.3" r="1.15"/><circle cx="420.55" cy="296.75" r="1.15"/><circle cx="421.1" cy="297.2" r="1.15"/><circle cx="421.6" cy="301.2" r="1.15"/><circle cx="422" cy="307.8" r="1.15"/><circle cx="422.6" cy="311" r="1.15"/><circle cx="422.6" cy="316.6" r="1.15"/><circle cx="423.7" cy="322.5" r="1.15"/><circle cx="424.35" cy="324.15" r="1.15"/><circle cx="425" cy="325.8" r="1.15"/><circle cx="425.65" cy="326.8" r="1.15"/><circle cx="426.3" cy="327.8" r="1.15"/><circle cx="426.95" cy="326.8" r="1.15"/><circle cx="427.6" cy="325.8" r="1.15"/><circle cx="428.25" cy="325.15" r="1.15"/><circle cx="428.9" cy="324.5" r="1.15"/><circle cx="429.6" cy="326.4" r="1.15"/><circle cx="430.3" cy="323.2" r="1.15"/><circle cx="430.5" cy="316.6" r="1.15"/><circle cx="430.5" cy="311.7" r="1.15"/><circle cx="431.2" cy="304.5" r="1.15"/><circle cx="431.8" cy="295.9" r="1.15"/><circle cx="432.5" cy="294.25" r="1.15"/><circle cx="433.2" cy="292.6" r="1.15"/><circle cx="434.2" cy="289.3" r="1.15"/><circle cx="434.7" cy="284.7" r="1.15"/><circle cx="435.1" cy="280.8" r="1.15"/><circle cx="435.8" cy="284.7" r="1.15"/><circle cx="436.4" cy="289.3" r="1.15"/><circle cx="436.8" cy="293.3" r="1.15"/><circle cx="437.1" cy="300.5" r="1.15"/><circle cx="437.4" cy="311" r="1.15"/><circle cx="437.9" cy="320.5" r="1.15"/><circle cx="438.4" cy="328.4" r="1.15"/><circle cx="438.8" cy="336.3" r="1.15"/><circle cx="439.5" cy="341.6" r="1.15"/><circle cx="440.15" cy="343.25" r="1.15"/><circle cx="440.8" cy="344.9" r="1.15"/><circle cx="441.45" cy="345.38" r="1.15"/><circle cx="442.1" cy="345.85" r="1.15"/><circle cx="442.75" cy="346.32" r="1.15"/><circle cx="443.4" cy="346.8" r="1.15"/><circle cx="444.07" cy="347.3" r="1.15"/><circle cx="444.75" cy="347.8" r="1.15"/><circle cx="445.43" cy="348.3" r="1.15"/><circle cx="446.1" cy="348.8" r="1.15"/><circle cx="446.75" cy="349.3" r="1.15"/><circle cx="447.4" cy="349.8" r="1.15"/><circle cx="448.05" cy="350.3" r="1.15"/><circle cx="448.7" cy="350.8" r="1.15"/><circle cx="449.5" cy="351.05" r="1.15"/><circle cx="450.3" cy="351.3" r="1.15"/><circle cx="450.93" cy="351" r="1.15"/><circle cx="451.57" cy="350.7" r="1.15"/><circle cx="452.2" cy="350.4" r="1.15"/><circle cx="453.2" cy="345.8" r="1.15"/><circle cx="454.2" cy="340.5" r="1.15"/><circle cx="454.85" cy="337.2" r="1.15"/><circle cx="455.5" cy="333.9" r="1.15"/><circle cx="456.15" cy="331.3" r="1.15"/><circle cx="456.8" cy="328.7" r="1.15"/><circle cx="457.5" cy="327.05" r="1.15"/><circle cx="458.2" cy="325.4" r="1.15"/><circle cx="458.85" cy="323.1" r="1.15"/><circle cx="459.5" cy="320.8" r="1.15"/><circle cx="460.1" cy="312.9" r="1.15"/><circle cx="460.8" cy="308.9" r="1.15"/><circle cx="461.4" cy="305" r="1.15"/><circle cx="461.8" cy="310.3" r="1.15"/><circle cx="462.4" cy="318.2" r="1.15"/><circle cx="462.8" cy="328.7" r="1.15"/><circle cx="463.2" cy="337.9" r="1.15"/><circle cx="463.85" cy="339.85" r="1.15"/><circle cx="464.5" cy="341.8" r="1.15"/><circle cx="465.3" cy="341.15" r="1.15"/><circle cx="466.1" cy="340.5" r="1.15"/><circle cx="466.73" cy="339.2" r="1.15"/><circle cx="467.37" cy="337.9" r="1.15"/><circle cx="468" cy="336.6" r="1.15"/><circle cx="468.67" cy="335.5" r="1.15"/><circle cx="469.33" cy="334.4" r="1.15"/><circle cx="470" cy="333.3" r="1.15"/><circle cx="470.55" cy="329.7" r="1.15"/><circle cx="471.1" cy="326.1" r="1.15"/><circle cx="471.3" cy="311.6" r="1.15"/><circle cx="471.7" cy="297.9" r="1.15"/><circle cx="472" cy="286.1" r="1.15"/><circle cx="472.6" cy="282.1" r="1.15"/><circle cx="472.9" cy="270.9" r="1.15"/><circle cx="473.3" cy="270.3" r="1.15"/><circle cx="473.7" cy="282.1" r="1.15"/><circle cx="474.6" cy="284.7" r="1.15"/><circle cx="475" cy="297.9" r="1.15"/><circle cx="475.5" cy="303.8" r="1.15"/><circle cx="476.3" cy="307.1" r="1.15"/><circle cx="476.6" cy="311.6" r="1.15"/><circle cx="477.2" cy="315.5" r="1.15"/><circle cx="477.9" cy="322.1" r="1.15"/><circle cx="478.6" cy="330.7" r="1.15"/><circle cx="479" cy="324.7" r="1.15"/><circle cx="479.5" cy="318.2" r="1.15"/><circle cx="480.3" cy="309" r="1.15"/><circle cx="480.8" cy="315.5" r="1.15"/><circle cx="481.6" cy="322.1" r="1.15"/><circle cx="482.1" cy="332.6" r="1.15"/><circle cx="482.6" cy="340.5" r="1.15"/><circle cx="483.4" cy="346" r="1.15"/><circle cx="484.02" cy="346.18" r="1.15"/><circle cx="484.63" cy="346.37" r="1.15"/><circle cx="485.25" cy="346.55" r="1.15"/><circle cx="485.87" cy="346.73" r="1.15"/><circle cx="486.48" cy="346.92" r="1.15"/><circle cx="487.1" cy="347.1" r="1.15"/><circle cx="487.73" cy="347.53" r="1.15"/><circle cx="488.37" cy="347.97" r="1.15"/><circle cx="489" cy="348.4" r="1.15"/><circle cx="489.7" cy="348.63" r="1.15"/><circle cx="490.4" cy="348.87" r="1.15"/><circle cx="491.1" cy="349.1" r="1.15"/><circle cx="491.7" cy="349.46" r="1.15"/><circle cx="492.3" cy="349.81" r="1.15"/><circle cx="492.9" cy="350.17" r="1.15"/><circle cx="493.5" cy="350.53" r="1.15"/><circle cx="494.1" cy="350.89" r="1.15"/><circle cx="494.7" cy="351.24" r="1.15"/><circle cx="495.3" cy="351.6" r="1.15"/><circle cx="495.87" cy="351.62" r="1.15"/><circle cx="496.45" cy="351.65" r="1.15"/><circle cx="497.02" cy="351.67" r="1.15"/><circle cx="497.59" cy="351.69" r="1.15"/><circle cx="498.16" cy="351.71" r="1.15"/><circle cx="498.74" cy="351.74" r="1.15"/><circle cx="499.31" cy="351.76" r="1.15"/><circle cx="499.88" cy="351.78" r="1.15"/><circle cx="500.45" cy="351.8" r="1.15"/><circle cx="501.03" cy="351.83" r="1.15"/><circle cx="501.6" cy="351.85" r="1.15"/><circle cx="502.17" cy="351.87" r="1.15"/><circle cx="502.75" cy="351.9" r="1.15"/><circle cx="503.32" cy="351.92" r="1.15"/><circle cx="503.89" cy="351.94" r="1.15"/><circle cx="504.46" cy="351.96" r="1.15"/><circle cx="505.04" cy="351.99" r="1.15"/><circle cx="505.61" cy="352.01" r="1.15"/><circle cx="506.18" cy="352.03" r="1.15"/><circle cx="506.75" cy="352.05" r="1.15"/><circle cx="507.33" cy="352.08" r="1.15"/><circle cx="507.9" cy="352.1" r="1.15"/></g>
</svg></body></html>
